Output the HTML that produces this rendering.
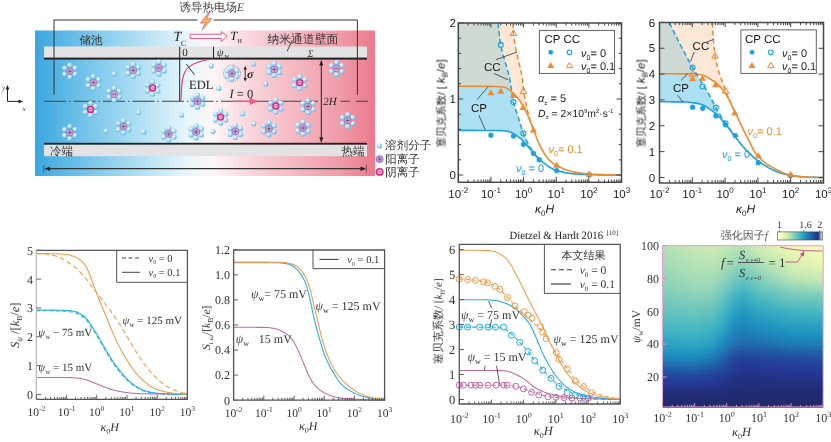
<!DOCTYPE html>
<html><head><meta charset="utf-8"><style>
html,body{margin:0;padding:0;background:#fff;width:831px;height:442px;overflow:hidden}
svg{display:block}
body{-webkit-font-smoothing:antialiased}
svg text{filter:url(#gs)}
text{text-rendering:geometricPrecision}
.sf{font-family:"Liberation Serif",serif}
.ss{font-family:"Liberation Sans",sans-serif}
</style></head><body>
<svg width="831" height="442" viewBox="0 0 831 442">
<defs>
<filter id="gs" x="-5%" y="-20%" width="110%" height="140%"><feColorMatrix type="matrix" values="1 0 0 0 0  0 1 0 0 0  0 0 1 0 0  0 0 0 1 0"/></filter>
<linearGradient id="bg1" x1="35" y1="0" x2="375" y2="0" gradientUnits="userSpaceOnUse">
<stop offset="0" stop-color="#3aa6de"/>
<stop offset="0.06" stop-color="#52b3e4"/>
<stop offset="0.28" stop-color="#a6dbf2"/>
<stop offset="0.45" stop-color="#e8f6fc"/>
<stop offset="0.52" stop-color="#fdf6f8"/>
<stop offset="0.66" stop-color="#f8cfd6"/>
<stop offset="0.9" stop-color="#f09aa8"/>
<stop offset="1" stop-color="#ea7a8c"/>
</linearGradient>
<radialGradient id="pet" cx="0.38" cy="0.35" r="0.7">
<stop offset="0" stop-color="#ffffff"/>
<stop offset="0.38" stop-color="#c0e5f6"/>
<stop offset="1" stop-color="#52b2e2"/>
</radialGradient>
<g id="cat"><circle cx="0" cy="-6" r="2.6" fill="url(#pet)"/><circle cx="5.2" cy="-3" r="2.6" fill="url(#pet)"/><circle cx="5.2" cy="3" r="2.6" fill="url(#pet)"/><circle cx="0" cy="6" r="2.6" fill="url(#pet)"/><circle cx="-5.2" cy="3" r="2.6" fill="url(#pet)"/><circle cx="-5.2" cy="-3" r="2.6" fill="url(#pet)"/>
<circle r="3.5" fill="#c8a4da" stroke="#9f7cc6" stroke-width="1"/><path d="M-2,0H2M0,-2V2" stroke="#555" stroke-width="0.7"/></g>
<g id="mcat"><circle cx="0" cy="-6" r="2.6" fill="url(#pet)"/><circle cx="5.2" cy="-3" r="2.6" fill="url(#pet)"/><circle cx="5.2" cy="3" r="2.6" fill="url(#pet)"/><circle cx="0" cy="6" r="2.6" fill="url(#pet)"/><circle cx="-5.2" cy="3" r="2.6" fill="url(#pet)"/><circle cx="-5.2" cy="-3" r="2.6" fill="url(#pet)"/>
<circle r="3.5" fill="#c8a4da" stroke="#9f7cc6" stroke-width="1"/><path d="M-2,0H2" stroke="#555" stroke-width="0.7"/></g>
<g id="ani"><circle cx="0" cy="-6" r="2.6" fill="url(#pet)"/><circle cx="5.2" cy="-3" r="2.6" fill="url(#pet)"/><circle cx="5.2" cy="3" r="2.6" fill="url(#pet)"/><circle cx="0" cy="6" r="2.6" fill="url(#pet)"/><circle cx="-5.2" cy="3" r="2.6" fill="url(#pet)"/><circle cx="-5.2" cy="-3" r="2.6" fill="url(#pet)"/>
<circle r="2.9" fill="#f6c6dc" stroke="#e5208a" stroke-width="1.5"/><path d="M-1.7,0H1.7" stroke="#666" stroke-width="0.8"/></g>
<g id="sol"><circle r="2.6" fill="url(#pet)"/></g>
</defs><rect x="35" y="30.5" width="340" height="145.5" fill="url(#bg1)"/><rect x="44" y="46.5" width="323" height="11.5" fill="#e3e3e5"/><rect x="44" y="57.6" width="323" height="2" fill="#222"/><rect x="44" y="142.8" width="323" height="2" fill="#222"/><rect x="44" y="144.8" width="323" height="11.4" fill="#e3e3e5"/><path d="M54,94.7V20H197.5M213.5,20H357.4V94.7" fill="none" stroke="#333" stroke-width="1"/><path d="M44,101.3H318" fill="none" stroke="#444" stroke-width="1.1" stroke-dasharray="22,3,1.5,3"/><path d="M340.5,101.3H350M355.8,101.3H368" fill="none" stroke="#444" stroke-width="1.1"/><path d="M179.7,46.7V101.3M213.5,46.7V58" fill="none" stroke="#222" stroke-width="1"/><path d="M180.9,100.2C181.5,86 182,76 186,70C191,63 200,60.5 213,59" fill="none" stroke="#e0407a" stroke-width="1.2"/><path d="M186.3,64L194.5,74.8" stroke="#222" stroke-width="0.9"/><path d="M321.3,63V139" stroke="#222" stroke-width="1"/><path d="M321.3,59.8L319.3,65.5H323.3Z M321.3,143L319.3,137.3H323.3Z" fill="#222"/><path d="M47,168.7H363" stroke="#333" stroke-width="1.3"/><path d="M44.5,168.7L50,166.4V171Z M366,168.7L360.5,166.4V171Z" fill="#222"/><path d="M43.8,165V172.5M366.3,165V172.5" stroke="#444" stroke-width="0.8"/><path d="M210,10.8L200.5,23.2L205.8,22.4L202.2,30L211.8,18.5L206.6,19.2Z" fill="#f8c440" stroke="#f0607e" stroke-width="0.9" stroke-linejoin="round"/><path d="M190,34.3H221.3V31.5L227.4,36.4L221.3,41.4V38.5H190Z" fill="#fff" fill-opacity="0.7" stroke="#e8608a" stroke-width="1"/><path d="M233,101.3H251" stroke="#e8608a" stroke-width="1.6"/><path d="M258,101.3L249.5,97.6V105Z" fill="#e8608a"/><circle cx="232" cy="73.6" r="8.4" fill="none" stroke="#666" stroke-width="0.6" stroke-dasharray="1.2,1"/><use href="#cat" transform="translate(232,73.6) scale(0.95)"/><path d="M245.2,68V79.5" stroke="#222" stroke-width="0.9"/><path d="M245.2,66L243.5,69.5H246.9Z M245.2,81.5L243.5,78H246.9Z" fill="#222"/><use href="#cat" x="69.9" y="71.2"/><use href="#cat" x="93.4" y="82.6"/><use href="#mcat" x="114.2" y="94.2"/><use href="#sol" x="114.2" y="73.9"/><use href="#cat" x="133.2" y="70.4"/><use href="#mcat" x="158.9" y="68"/><use href="#ani" x="152.6" y="88"/><use href="#cat" x="197.5" y="101.2"/><use href="#sol" x="138.6" y="112.6"/><use href="#sol" x="181.6" y="115.1"/><use href="#cat" x="123.6" y="126.6"/><use href="#cat" x="168.8" y="134"/><use href="#cat" x="196.2" y="131.9"/><use href="#sol" x="143.7" y="131.9"/><use href="#ani" x="90.6" y="109.4"/><use href="#cat" x="69.8" y="132.5"/><use href="#sol" x="106" y="131"/><use href="#ani" x="220.6" y="117.1"/><use href="#sol" x="213" y="131.5"/><use href="#sol" x="211.3" y="65.8"/><use href="#sol" x="253.7" y="64"/><use href="#sol" x="218.9" y="88.4"/><use href="#sol" x="265.7" y="83.9"/><use href="#cat" x="274.3" y="69.5"/><use href="#ani" x="299.7" y="82.6"/><use href="#mcat" x="336.6" y="68.5"/><use href="#sol" x="242.7" y="113.7"/><use href="#sol" x="253.7" y="123.8"/><use href="#cat" x="235.4" y="131.5"/><use href="#cat" x="269" y="128.7"/><use href="#ani" x="275.8" y="106"/><use href="#cat" x="308" y="106.5"/><use href="#cat" x="303" y="128"/><use href="#cat" x="347.7" y="120.5"/><path d="M7.5,101.4V88M7.5,101.4H20" fill="none" stroke="#222" stroke-width="1"/><path d="M7.5,85L5.6,89.5H9.4Z M23,101.4L18.5,99.5V103.3Z" fill="#222"/><text x="2" y="90" class="sf" font-size="7" font-style="italic" fill="#333">y</text><text x="22.5" y="110.5" class="sf" font-size="7" font-style="italic" fill="#333">x</text><text x="179.5" y="11.3" class="sf" font-size="11.5" fill="#444">诱导热电场<tspan font-style="italic">E</tspan></text><text x="79.5" y="43.8" class="sf" font-size="11.5" fill="#333">储池</text><text x="173.5" y="41" class="sf" font-size="14" font-style="italic" fill="#222">T</text><text x="181" y="46" class="sf" font-size="8" fill="#222">C</text><text x="230.3" y="39.5" class="sf" font-size="12.5" font-style="italic" fill="#222">T</text><text x="237.5" y="43" class="sf" font-size="6" fill="#222">H</text><text x="267.5" y="43" class="sf" font-size="11.8" fill="#333">纳米通道壁面</text><path d="M292.2,40.4L287.1,51.3" stroke="#222" stroke-width="0.8"/><text x="182.3" y="56.3" class="sf" font-size="11" fill="#222">0</text><text x="216.8" y="55.5" class="sf" font-size="11" font-style="italic" fill="#222">ψ</text><text x="224.5" y="58" class="sf" font-size="6.5" fill="#222">w</text><text x="307.5" y="56.5" class="sf" font-size="10" font-style="italic" fill="#333">Σ</text><text x="189" y="89.3" class="sf" font-size="12.5" fill="#222">EDL</text><text x="247" y="77.5" class="sf" font-size="12" font-style="italic" font-weight="bold" fill="#222">σ</text><text x="229.5" y="98" class="sf" font-size="12.5" fill="#222"><tspan font-style="italic">I</tspan> = 0</text><text x="323.2" y="105.3" class="sf" font-size="11" font-style="italic" fill="#222">2H</text><text x="50" y="155.2" class="sf" font-size="11.5" fill="#333">冷端</text><text x="341.6" y="155" class="sf" font-size="11.5" fill="#333">热端</text><use href="#sol" x="379.6" y="145.8"/><circle cx="379.6" cy="159.2" r="3.6" fill="#b89ad0" stroke="#9a78c0" stroke-width="0.8"/><path d="M377.6,159.2H381.6M379.6,157.2V161.2" stroke="#555" stroke-width="0.6"/><circle cx="379.6" cy="171.9" r="3.2" fill="#f3c0d8" stroke="#e5208a" stroke-width="1.5"/><path d="M377.9,171.9H381.3" stroke="#555" stroke-width="0.7"/><text x="385.3" y="149.3" class="sf" font-size="11.5" fill="#333">溶剂分子</text><text x="385.3" y="163" class="sf" font-size="11.5" fill="#333">阳离子</text><text x="385.3" y="175.5" class="sf" font-size="11.5" fill="#333">阴离子</text><clipPath id="cO2"><path d="M458.3,23 L513.1,23 L513.13,24.76 L513.18,26.53 L513.25,28.29 L513.34,30.05 L513.43,31.81 L513.53,33.58 L513.66,35.34 L513.83,37.1 L514.04,38.86 L514.28,40.63 L514.55,42.39 L514.85,44.15 L515.18,45.92 L515.52,47.68 L515.89,49.44 L516.27,51.2 L516.67,52.97 L517.07,54.73 L517.49,56.49 L517.91,58.25 L518.34,60.02 L518.76,61.78 L519.18,63.54 L519.6,65.31 L520.01,67.07 L520.41,68.83 L520.79,70.59 L521.16,72.36 L521.51,74.12 L521.84,75.88 L522.14,77.64 L522.41,79.41 L522.66,81.17 L522.88,82.93 L523.08,84.69 L523.27,86.46 L523.46,88.22 L523.65,89.98 L523.86,91.75 L524.09,93.51 L524.34,95.27 L524.63,97.03 L524.93,98.8 L525.27,100.56 L525.62,102.32 L525.99,104.08 L526.38,105.85 L526.78,107.61 L527.2,109.37 L527.63,111.14 L528.08,112.9 L528.54,114.66 L529.04,116.42 L529.56,118.19 L530.11,119.95 L530.68,121.71 L531.27,123.47 L531.88,125.24 L532.5,127 L532.5,127 L531.56,124.68 L530.62,122.33 L529.68,119.98 L528.74,117.66 L527.8,115.42 L526.86,113.29 L525.93,111.3 L524.99,109.5 L524.05,107.79 L523.11,106.13 L522.17,104.51 L521.23,102.97 L520.29,101.5 L519.35,100.13 L518.41,98.85 L517.47,97.68 L516.53,96.64 L515.59,95.7 L514.65,94.76 L513.72,93.84 L512.78,92.93 L511.84,92.06 L510.9,91.22 L509.96,90.44 L509.02,89.71 L508.08,89.06 L507.14,88.48 L506.2,88 L505.26,87.61 L504.32,87.34 L503.38,87.19 L502.44,87.09 L501.51,87 L500.57,86.91 L499.63,86.83 L498.69,86.76 L497.75,86.7 L496.81,86.64 L495.87,86.59 L494.93,86.54 L493.99,86.5 L493.05,86.47 L492.11,86.44 L491.17,86.42 L490.23,86.4 L489.29,86.39 L488.36,86.38 L487.42,86.37 L486.48,86.36 L485.54,86.35 L484.6,86.34 L483.66,86.33 L482.72,86.32 L481.78,86.31 L480.84,86.3 L479.9,86.29 L478.96,86.28 L478.02,86.28 L477.08,86.27 L476.15,86.26 L475.21,86.26 L474.27,86.25 L473.33,86.24 L472.39,86.24 L471.45,86.23 L470.51,86.23 L469.57,86.22 L468.63,86.22 L467.69,86.22 L466.75,86.21 L465.81,86.21 L464.87,86.21 L463.94,86.21 L463,86.2 L462.06,86.2 L461.12,86.2 L460.18,86.2 L459.24,86.2 L458.3,86.2Z"/></clipPath><path d="M458.3,23 L513.1,23 L513.13,24.76 L513.18,26.53 L513.25,28.29 L513.34,30.05 L513.43,31.81 L513.53,33.58 L513.66,35.34 L513.83,37.1 L514.04,38.86 L514.28,40.63 L514.55,42.39 L514.85,44.15 L515.18,45.92 L515.52,47.68 L515.89,49.44 L516.27,51.2 L516.67,52.97 L517.07,54.73 L517.49,56.49 L517.91,58.25 L518.34,60.02 L518.76,61.78 L519.18,63.54 L519.6,65.31 L520.01,67.07 L520.41,68.83 L520.79,70.59 L521.16,72.36 L521.51,74.12 L521.84,75.88 L522.14,77.64 L522.41,79.41 L522.66,81.17 L522.88,82.93 L523.08,84.69 L523.27,86.46 L523.46,88.22 L523.65,89.98 L523.86,91.75 L524.09,93.51 L524.34,95.27 L524.63,97.03 L524.93,98.8 L525.27,100.56 L525.62,102.32 L525.99,104.08 L526.38,105.85 L526.78,107.61 L527.2,109.37 L527.63,111.14 L528.08,112.9 L528.54,114.66 L529.04,116.42 L529.56,118.19 L530.11,119.95 L530.68,121.71 L531.27,123.47 L531.88,125.24 L532.5,127 L532.5,127 L531.56,124.68 L530.62,122.33 L529.68,119.98 L528.74,117.66 L527.8,115.42 L526.86,113.29 L525.93,111.3 L524.99,109.5 L524.05,107.79 L523.11,106.13 L522.17,104.51 L521.23,102.97 L520.29,101.5 L519.35,100.13 L518.41,98.85 L517.47,97.68 L516.53,96.64 L515.59,95.7 L514.65,94.76 L513.72,93.84 L512.78,92.93 L511.84,92.06 L510.9,91.22 L509.96,90.44 L509.02,89.71 L508.08,89.06 L507.14,88.48 L506.2,88 L505.26,87.61 L504.32,87.34 L503.38,87.19 L502.44,87.09 L501.51,87 L500.57,86.91 L499.63,86.83 L498.69,86.76 L497.75,86.7 L496.81,86.64 L495.87,86.59 L494.93,86.54 L493.99,86.5 L493.05,86.47 L492.11,86.44 L491.17,86.42 L490.23,86.4 L489.29,86.39 L488.36,86.38 L487.42,86.37 L486.48,86.36 L485.54,86.35 L484.6,86.34 L483.66,86.33 L482.72,86.32 L481.78,86.31 L480.84,86.3 L479.9,86.29 L478.96,86.28 L478.02,86.28 L477.08,86.27 L476.15,86.26 L475.21,86.26 L474.27,86.25 L473.33,86.24 L472.39,86.24 L471.45,86.23 L470.51,86.23 L469.57,86.22 L468.63,86.22 L467.69,86.22 L466.75,86.21 L465.81,86.21 L464.87,86.21 L463.94,86.21 L463,86.2 L462.06,86.2 L461.12,86.2 L460.18,86.2 L459.24,86.2 L458.3,86.2Z" fill="#fde7d6"/><path d="M458.3,23 L498.1,23 L498.28,25.32 L498.49,27.63 L498.73,29.95 L498.99,32.26 L499.28,34.58 L499.59,36.89 L499.92,39.21 L500.27,41.52 L500.63,43.84 L501.02,46.15 L501.47,48.47 L501.99,50.78 L502.57,53.1 L503.19,55.41 L503.84,57.73 L504.52,60.04 L505.22,62.36 L505.92,64.67 L506.61,66.99 L507.29,69.31 L507.93,71.62 L508.55,73.94 L509.11,76.25 L509.62,78.57 L510.06,80.88 L510.45,83.2 L510.8,85.51 L511.13,87.83 L511.46,90.14 L511.8,92.46 L512.16,94.77 L512.55,97.09 L512.95,99.4 L513.42,101.72 L513.97,104.03 L514.63,106.35 L515.36,108.66 L516.13,110.98 L516.93,113.29 L517.72,115.61 L518.48,117.93 L519.19,120.24 L519.89,122.56 L520.58,124.87 L521.29,127.19 L522.03,129.5 L522.82,131.82 L523.68,134.13 L524.64,136.45 L525.67,138.76 L526.78,141.08 L527.95,143.39 L529.16,145.71 L530.45,148.02 L531.87,150.34 L533.47,152.65 L535.33,154.97 L537.42,157.28 L539.7,159.6 L539.7,159.6 L538.67,158.68 L537.64,157.66 L536.61,156.55 L535.58,155.38 L534.55,154.17 L533.52,152.95 L532.49,151.73 L531.46,150.54 L530.43,149.4 L529.4,148.23 L528.37,147.01 L527.34,145.78 L526.31,144.54 L525.27,143.31 L524.24,142.12 L523.21,140.99 L522.18,139.94 L521.15,138.98 L520.12,138.14 L519.09,137.4 L518.06,136.67 L517.03,135.95 L516,135.25 L514.97,134.58 L513.94,133.95 L512.91,133.36 L511.88,132.82 L510.85,132.34 L509.82,131.92 L508.79,131.58 L507.76,131.33 L506.73,131.16 L505.7,131.03 L504.67,130.91 L503.64,130.8 L502.61,130.72 L501.58,130.65 L500.55,130.61 L499.52,130.59 L498.48,130.58 L497.45,130.57 L496.42,130.56 L495.39,130.55 L494.36,130.54 L493.33,130.53 L492.3,130.52 L491.27,130.51 L490.24,130.51 L489.21,130.5 L488.18,130.49 L487.15,130.48 L486.12,130.48 L485.09,130.47 L484.06,130.46 L483.03,130.46 L482,130.45 L480.97,130.45 L479.94,130.44 L478.91,130.44 L477.88,130.43 L476.85,130.43 L475.82,130.43 L474.79,130.42 L473.76,130.42 L472.73,130.42 L471.69,130.41 L470.66,130.41 L469.63,130.41 L468.6,130.41 L467.57,130.41 L466.54,130.41 L465.51,130.4 L464.48,130.4 L463.45,130.4 L462.42,130.4 L461.39,130.4 L460.36,130.4 L459.33,130.4 L458.3,130.4Z" fill="#aee0f3"/><path d="M458.3,23 L498.1,23 L498.28,25.32 L498.49,27.63 L498.73,29.95 L498.99,32.26 L499.28,34.58 L499.59,36.89 L499.92,39.21 L500.27,41.52 L500.63,43.84 L501.02,46.15 L501.47,48.47 L501.99,50.78 L502.57,53.1 L503.19,55.41 L503.84,57.73 L504.52,60.04 L505.22,62.36 L505.92,64.67 L506.61,66.99 L507.29,69.31 L507.93,71.62 L508.55,73.94 L509.11,76.25 L509.62,78.57 L510.06,80.88 L510.45,83.2 L510.8,85.51 L511.13,87.83 L511.46,90.14 L511.8,92.46 L512.16,94.77 L512.55,97.09 L512.95,99.4 L513.42,101.72 L513.97,104.03 L514.63,106.35 L515.36,108.66 L516.13,110.98 L516.93,113.29 L517.72,115.61 L518.48,117.93 L519.19,120.24 L519.89,122.56 L520.58,124.87 L521.29,127.19 L522.03,129.5 L522.82,131.82 L523.68,134.13 L524.64,136.45 L525.67,138.76 L526.78,141.08 L527.95,143.39 L529.16,145.71 L530.45,148.02 L531.87,150.34 L533.47,152.65 L535.33,154.97 L537.42,157.28 L539.7,159.6 L539.7,159.6 L538.67,158.68 L537.64,157.66 L536.61,156.55 L535.58,155.38 L534.55,154.17 L533.52,152.95 L532.49,151.73 L531.46,150.54 L530.43,149.4 L529.4,148.23 L528.37,147.01 L527.34,145.78 L526.31,144.54 L525.27,143.31 L524.24,142.12 L523.21,140.99 L522.18,139.94 L521.15,138.98 L520.12,138.14 L519.09,137.4 L518.06,136.67 L517.03,135.95 L516,135.25 L514.97,134.58 L513.94,133.95 L512.91,133.36 L511.88,132.82 L510.85,132.34 L509.82,131.92 L508.79,131.58 L507.76,131.33 L506.73,131.16 L505.7,131.03 L504.67,130.91 L503.64,130.8 L502.61,130.72 L501.58,130.65 L500.55,130.61 L499.52,130.59 L498.48,130.58 L497.45,130.57 L496.42,130.56 L495.39,130.55 L494.36,130.54 L493.33,130.53 L492.3,130.52 L491.27,130.51 L490.24,130.51 L489.21,130.5 L488.18,130.49 L487.15,130.48 L486.12,130.48 L485.09,130.47 L484.06,130.46 L483.03,130.46 L482,130.45 L480.97,130.45 L479.94,130.44 L478.91,130.44 L477.88,130.43 L476.85,130.43 L475.82,130.43 L474.79,130.42 L473.76,130.42 L472.73,130.42 L471.69,130.41 L470.66,130.41 L469.63,130.41 L468.6,130.41 L467.57,130.41 L466.54,130.41 L465.51,130.4 L464.48,130.4 L463.45,130.4 L462.42,130.4 L461.39,130.4 L460.36,130.4 L459.33,130.4 L458.3,130.4Z" fill="#cfdad4" clip-path="url(#cO2)"/><path d="M458.3,130.4 L459.67,130.4 L461.04,130.4 L462.41,130.4 L463.79,130.4 L465.16,130.4 L466.53,130.41 L467.9,130.41 L469.27,130.41 L470.64,130.41 L472.01,130.42 L473.39,130.42 L474.76,130.42 L476.13,130.43 L477.5,130.43 L478.87,130.44 L480.24,130.44 L481.61,130.45 L482.99,130.46 L484.36,130.47 L485.73,130.47 L487.1,130.48 L488.47,130.49 L489.84,130.5 L491.21,130.51 L492.59,130.53 L493.96,130.54 L495.33,130.55 L496.7,130.56 L498.07,130.58 L499.44,130.59 L500.81,130.62 L502.19,130.69 L503.56,130.79 L504.93,130.94 L506.3,131.11 L507.67,131.31 L509.04,131.66 L510.41,132.15 L511.79,132.77 L513.16,133.49 L514.53,134.3 L515.9,135.18 L517.27,136.11 L518.64,137.08 L520.01,138.06 L521.39,139.19 L522.76,140.51 L524.13,141.99 L525.5,143.58 L526.87,145.22 L528.24,146.87 L529.61,148.48 L530.99,150.01 L532.36,151.58 L533.73,153.2 L535.1,154.82 L536.47,156.4 L537.84,157.87 L539.21,159.18 L540.59,160.33 L541.96,161.46 L543.33,162.56 L544.7,163.63 L546.07,164.66 L547.44,165.65 L548.81,166.58 L550.19,167.45 L551.56,168.25 L552.93,168.97 L554.3,169.61 L555.67,170.16 L557.04,170.6 L558.41,171 L559.79,171.38 L561.16,171.73 L562.53,172.05 L563.9,172.35 L565.27,172.63 L566.64,172.87 L568.01,173.1 L569.39,173.29 L570.76,173.47 L572.13,173.61 L573.5,173.75 L574.87,173.87 L576.24,173.99 L577.61,174.11 L578.99,174.21 L580.36,174.31 L581.73,174.4 L583.1,174.48 L584.47,174.55 L585.84,174.61 L587.21,174.66 L588.59,174.69 L589.96,174.72 L591.33,174.74 L592.7,174.76 L594.07,174.78 L595.44,174.8 L596.81,174.82 L598.19,174.84 L599.56,174.86 L600.93,174.88 L602.3,174.89 L603.67,174.91 L605.04,174.92 L606.41,174.93 L607.79,174.94 L609.16,174.95 L610.53,174.96 L611.9,174.97 L613.27,174.98 L614.64,174.99 L616.01,174.99 L617.39,174.99 L618.76,175 L620.13,175 L621.5,175" fill="none" stroke="#1aa3df" stroke-width="1.6"/><path d="M458.3,86.2 L459.67,86.2 L461.04,86.2 L462.41,86.2 L463.79,86.21 L465.16,86.21 L466.53,86.21 L467.9,86.22 L469.27,86.22 L470.64,86.23 L472.01,86.24 L473.39,86.24 L474.76,86.25 L476.13,86.26 L477.5,86.27 L478.87,86.28 L480.24,86.3 L481.61,86.31 L482.99,86.32 L484.36,86.33 L485.73,86.35 L487.1,86.36 L488.47,86.38 L489.84,86.4 L491.21,86.42 L492.59,86.45 L493.96,86.5 L495.33,86.56 L496.7,86.63 L498.07,86.72 L499.44,86.82 L500.81,86.93 L502.19,87.06 L503.56,87.21 L504.93,87.5 L506.3,88.04 L507.67,88.8 L509.04,89.73 L510.41,90.81 L511.79,92.01 L513.16,93.3 L514.53,94.64 L515.9,96 L517.27,97.45 L518.64,99.15 L520.01,101.09 L521.39,103.22 L522.76,105.52 L524.13,107.94 L525.5,110.47 L526.87,113.3 L528.24,116.45 L529.61,119.81 L530.99,123.25 L532.36,126.65 L533.73,130.12 L535.1,133.81 L536.47,137.52 L537.84,141.05 L539.21,144.21 L540.59,146.92 L541.96,149.5 L543.33,151.94 L544.7,154.21 L546.07,156.27 L547.44,158.08 L548.81,159.61 L550.19,160.92 L551.56,162.1 L552.93,163.15 L554.3,164.09 L555.67,164.93 L557.04,165.68 L558.41,166.39 L559.79,167.07 L561.16,167.72 L562.53,168.34 L563.9,168.92 L565.27,169.47 L566.64,169.97 L568.01,170.43 L569.39,170.84 L570.76,171.21 L572.13,171.53 L573.5,171.82 L574.87,172.1 L576.24,172.36 L577.61,172.61 L578.99,172.85 L580.36,173.07 L581.73,173.27 L583.1,173.46 L584.47,173.62 L585.84,173.76 L587.21,173.88 L588.59,173.98 L589.96,174.05 L591.33,174.12 L592.7,174.19 L594.07,174.26 L595.44,174.33 L596.81,174.39 L598.19,174.45 L599.56,174.51 L600.93,174.57 L602.3,174.62 L603.67,174.67 L605.04,174.72 L606.41,174.76 L607.79,174.8 L609.16,174.84 L610.53,174.87 L611.9,174.9 L613.27,174.93 L614.64,174.95 L616.01,174.97 L617.39,174.98 L618.76,174.99 L620.13,175 L621.5,175" fill="none" stroke="#f08a30" stroke-width="1.6"/><path d="M498.1,23 L498.19,24.15 L498.28,25.3 L498.38,26.44 L498.49,27.59 L498.6,28.74 L498.72,29.89 L498.85,31.04 L498.98,32.18 L499.12,33.33 L499.27,34.48 L499.42,35.63 L499.57,36.77 L499.73,37.92 L499.9,39.07 L500.07,40.22 L500.24,41.37 L500.42,42.51 L500.6,43.66 L500.79,44.81 L500.98,45.96 L501.19,47.11 L501.43,48.25 L501.67,49.4 L501.94,50.55 L502.21,51.7 L502.5,52.85 L502.8,53.99 L503.11,55.14 L503.43,56.29 L503.76,57.44 L504.09,58.58 L504.43,59.73 L504.77,60.88 L505.12,62.03 L505.47,63.18 L505.81,64.32 L506.16,65.47 L506.5,66.62 L506.84,67.77 L507.17,68.92 L507.5,70.06 L507.82,71.21 L508.13,72.36 L508.44,73.51 L508.73,74.66 L509.01,75.8 L509.27,76.95 L509.52,78.1 L509.76,79.25 L509.97,80.39 L510.18,81.54 L510.37,82.69 L510.55,83.84 L510.72,84.99 L510.89,86.13 L511.05,87.28 L511.21,88.43 L511.38,89.58 L511.54,90.73 L511.71,91.87 L511.88,93.02 L512.06,94.17 L512.25,95.32 L512.45,96.47 L512.64,97.61 L512.84,98.76 L513.05,99.91 L513.28,101.06 L513.52,102.21 L513.8,103.35 L514.1,104.5 L514.42,105.65 L514.76,106.8 L515.12,107.94 L515.5,109.09 L515.88,110.24 L516.27,111.39 L516.67,112.54 L517.06,113.68 L517.45,114.83 L517.84,115.98 L518.22,117.13 L518.59,118.28 L518.94,119.42 L519.29,120.57 L519.64,121.72 L519.98,122.87 L520.32,124.02 L520.67,125.16 L521.01,126.31 L521.37,127.46 L521.73,128.61 L522.11,129.75 L522.5,130.9 L522.9,132.05 L523.32,133.2 L523.77,134.35 L524.23,135.49 L524.72,136.64 L525.23,137.79 L525.75,138.94 L526.3,140.09 L526.86,141.23 L527.43,142.38 L528.02,143.53 L528.61,144.68 L529.22,145.83 L529.85,146.97 L530.51,148.12 L531.2,149.27 L531.93,150.42 L532.7,151.56 L533.52,152.71 L534.41,153.86 L535.36,155.01 L536.37,156.16 L537.44,157.3 L538.55,158.45 L539.7,159.6" fill="none" stroke="#1aa3df" stroke-width="1.5" stroke-dasharray="5,3"/><path d="M513.1,23 L513.11,23.87 L513.13,24.75 L513.16,25.62 L513.18,26.5 L513.22,27.37 L513.25,28.24 L513.29,29.12 L513.33,29.99 L513.38,30.87 L513.42,31.74 L513.47,32.61 L513.52,33.49 L513.58,34.36 L513.65,35.24 L513.73,36.11 L513.82,36.98 L513.92,37.86 L514.02,38.73 L514.14,39.61 L514.26,40.48 L514.39,41.35 L514.53,42.23 L514.67,43.1 L514.82,43.97 L514.98,44.85 L515.14,45.72 L515.31,46.6 L515.48,47.47 L515.66,48.34 L515.84,49.22 L516.03,50.09 L516.22,50.97 L516.41,51.84 L516.61,52.71 L516.81,53.59 L517.01,54.46 L517.22,55.34 L517.42,56.21 L517.63,57.08 L517.84,57.96 L518.05,58.83 L518.26,59.71 L518.47,60.58 L518.68,61.45 L518.89,62.33 L519.1,63.2 L519.31,64.08 L519.52,64.95 L519.72,65.82 L519.92,66.7 L520.12,67.57 L520.32,68.45 L520.52,69.32 L520.71,70.19 L520.89,71.07 L521.08,71.94 L521.25,72.82 L521.43,73.69 L521.59,74.56 L521.76,75.44 L521.91,76.31 L522.06,77.18 L522.21,78.06 L522.34,78.93 L522.47,79.81 L522.59,80.68 L522.71,81.55 L522.82,82.43 L522.92,83.3 L523.02,84.18 L523.12,85.05 L523.21,85.92 L523.31,86.8 L523.4,87.67 L523.49,88.55 L523.59,89.42 L523.69,90.29 L523.79,91.17 L523.89,92.04 L524.01,92.92 L524.12,93.79 L524.25,94.66 L524.38,95.54 L524.52,96.41 L524.67,97.29 L524.82,98.16 L524.98,99.03 L525.14,99.91 L525.31,100.78 L525.48,101.66 L525.66,102.53 L525.84,103.4 L526.03,104.28 L526.22,105.15 L526.42,106.03 L526.62,106.9 L526.82,107.77 L527.03,108.65 L527.24,109.52 L527.45,110.39 L527.67,111.27 L527.88,112.14 L528.11,113.02 L528.33,113.89 L528.57,114.76 L528.81,115.64 L529.06,116.51 L529.32,117.39 L529.58,118.26 L529.85,119.13 L530.13,120.01 L530.41,120.88 L530.69,121.76 L530.98,122.63 L531.28,123.5 L531.58,124.38 L531.88,125.25 L532.19,126.13 L532.5,127" fill="none" stroke="#f08a30" stroke-width="1.5" stroke-dasharray="5,3"/><circle cx="490.9" cy="135.2" r="2.6" fill="#1aa3df"/><circle cx="513.5" cy="136.1" r="2.6" fill="#1aa3df"/><circle cx="523.4" cy="144.3" r="2.6" fill="#1aa3df"/><circle cx="533.4" cy="153.3" r="2.6" fill="#1aa3df"/><circle cx="539.2" cy="159.7" r="2.6" fill="#1aa3df"/><circle cx="556.7" cy="170.6" r="2.6" fill="#1aa3df"/><circle cx="589.2" cy="174.7" r="2.6" fill="#1aa3df"/><circle cx="500.8" cy="44.9" r="2.5" fill="none" stroke="#1aa3df" stroke-width="1.1"/><circle cx="513.5" cy="102.1" r="2.5" fill="none" stroke="#1aa3df" stroke-width="1.1"/><circle cx="523.4" cy="133.4" r="2.5" fill="none" stroke="#1aa3df" stroke-width="1.1"/><path d="M490.9,89.4L494.47,95.35H487.33Z" fill="#f08a30"/><path d="M500.8,87.8L504.37,93.75H497.23Z" fill="#f08a30"/><path d="M513.5,91.9L517.07,97.85H509.93Z" fill="#f08a30"/><path d="M523,104.1L526.57,110.05H519.43Z" fill="#f08a30"/><path d="M533.4,126.6L536.97,132.55H529.83Z" fill="#f08a30"/><path d="M556.7,161.8L560.27,167.75H553.13Z" fill="#f08a30"/><path d="M589.2,170.6L592.77,176.55H585.63Z" fill="#f08a30"/><path d="M513.5,29.9L516.86,35.5H510.14Z" fill="none" stroke="#f08a30" stroke-width="1"/><path d="M523.4,87.8L526.76,93.4H520.04Z" fill="none" stroke="#f08a30" stroke-width="1"/><path d="M458.3,23V182.3H621.5V23Z" fill="none" stroke="#4a4a4a" stroke-width="1.5"/><path d="M458.3,182.3v-5.5M458.3,23v4.5M468.13,182.3v-2.8M468.13,23v2.5M473.87,182.3v-2.8M473.87,23v2.5M477.95,182.3v-2.8M477.95,23v2.5M481.11,182.3v-2.8M481.11,23v2.5M483.7,182.3v-2.8M483.7,23v2.5M485.88,182.3v-2.8M485.88,23v2.5M487.78,182.3v-2.8M487.78,23v2.5M489.45,182.3v-2.8M489.45,23v2.5M490.94,182.3v-5.5M490.94,23v4.5M500.77,182.3v-2.8M500.77,23v2.5M506.51,182.3v-2.8M506.51,23v2.5M510.59,182.3v-2.8M510.59,23v2.5M513.75,182.3v-2.8M513.75,23v2.5M516.34,182.3v-2.8M516.34,23v2.5M518.52,182.3v-2.8M518.52,23v2.5M520.42,182.3v-2.8M520.42,23v2.5M522.09,182.3v-2.8M522.09,23v2.5M523.58,182.3v-5.5M523.58,23v4.5M533.41,182.3v-2.8M533.41,23v2.5M539.15,182.3v-2.8M539.15,23v2.5M543.23,182.3v-2.8M543.23,23v2.5M546.39,182.3v-2.8M546.39,23v2.5M548.98,182.3v-2.8M548.98,23v2.5M551.16,182.3v-2.8M551.16,23v2.5M553.06,182.3v-2.8M553.06,23v2.5M554.73,182.3v-2.8M554.73,23v2.5M556.22,182.3v-5.5M556.22,23v4.5M566.05,182.3v-2.8M566.05,23v2.5M571.79,182.3v-2.8M571.79,23v2.5M575.87,182.3v-2.8M575.87,23v2.5M579.03,182.3v-2.8M579.03,23v2.5M581.62,182.3v-2.8M581.62,23v2.5M583.8,182.3v-2.8M583.8,23v2.5M585.7,182.3v-2.8M585.7,23v2.5M587.37,182.3v-2.8M587.37,23v2.5M588.86,182.3v-5.5M588.86,23v4.5M598.69,182.3v-2.8M598.69,23v2.5M604.43,182.3v-2.8M604.43,23v2.5M608.51,182.3v-2.8M608.51,23v2.5M611.67,182.3v-2.8M611.67,23v2.5M614.26,182.3v-2.8M614.26,23v2.5M616.44,182.3v-2.8M616.44,23v2.5M618.34,182.3v-2.8M618.34,23v2.5M620.01,182.3v-2.8M620.01,23v2.5M621.5,182.3v-5.5M621.5,23v4.5" stroke="#444" stroke-width="1" fill="none"/><path d="M458.3,175h5M621.5,175h-5M458.3,99h5M621.5,99h-5M458.3,23h5M621.5,23h-5M458.3,159.8h2.8M621.5,159.8h-2.8M458.3,144.6h2.8M621.5,144.6h-2.8M458.3,129.4h2.8M621.5,129.4h-2.8M458.3,114.2h2.8M621.5,114.2h-2.8M458.3,83.8h2.8M621.5,83.8h-2.8M458.3,68.6h2.8M621.5,68.6h-2.8M458.3,53.4h2.8M621.5,53.4h-2.8M458.3,38.2h2.8M621.5,38.2h-2.8" stroke="#444" stroke-width="1"/><text x="452.6" y="179.2" class="ss" font-size="11.5" fill="#222" text-anchor="middle">0</text><text x="452.6" y="103.2" class="ss" font-size="11.5" fill="#222" text-anchor="middle">1</text><text x="452.6" y="27.2" class="ss" font-size="11.5" fill="#222" text-anchor="middle">2</text><text x="458.3" y="197.5" class="ss" font-size="11.5" fill="#222" text-anchor="middle">10<tspan font-size="8" dy="-4.5">-2</tspan></text><text x="490.94" y="197.5" class="ss" font-size="11.5" fill="#222" text-anchor="middle">10<tspan font-size="8" dy="-4.5">-1</tspan></text><text x="523.58" y="197.5" class="ss" font-size="11.5" fill="#222" text-anchor="middle">10<tspan font-size="8" dy="-4.5">0</tspan></text><text x="556.22" y="197.5" class="ss" font-size="11.5" fill="#222" text-anchor="middle">10<tspan font-size="8" dy="-4.5">1</tspan></text><text x="588.86" y="197.5" class="ss" font-size="11.5" fill="#222" text-anchor="middle">10<tspan font-size="8" dy="-4.5">2</tspan></text><text x="621.5" y="197.5" class="ss" font-size="11.5" fill="#222" text-anchor="middle">10<tspan font-size="8" dy="-4.5">3</tspan></text><text x="535" y="212.5" class="ss" font-size="12" font-style="italic" fill="#222">κ<tspan font-size="8" dy="3" font-style="normal">0</tspan><tspan dy="-3">H</tspan></text><text transform="translate(444.7,147.5) rotate(-90)" class="ss" font-size="10.5" fill="#222">塞贝克系数/ [ <tspan font-style="italic" font-size="11.5">k</tspan><tspan font-size="8" dy="3">B</tspan><tspan dy="-3" font-size="11.5">/</tspan><tspan font-style="italic" font-size="11.5">e</tspan><tspan font-size="11.5">]</tspan></text><rect x="539.4" y="30.4" width="75.2" height="43" fill="#fff" stroke="#555" stroke-width="0.9"/><text x="544.5" y="43.2" class="ss" font-size="11.5" fill="#222">CP</text><text x="563.5" y="43.2" class="ss" font-size="11.5" fill="#222">CC</text><circle cx="550.7" cy="52.3" r="2.4" fill="#1aa3df"/><circle cx="569.5" cy="52.3" r="2.3" fill="none" stroke="#1aa3df" stroke-width="1.1"/><path d="M550.7,62.1L554.17,67.88H547.24Z" fill="#f08a30"/><path d="M569.5,62.3L572.75,67.73H566.25Z" fill="none" stroke="#f08a30" stroke-width="1"/><text x="581" y="56.5" class="ss" font-size="11" fill="#222"><tspan font-style="italic">ν</tspan><tspan font-size="7" dy="3">0</tspan><tspan dy="-3">= 0</tspan></text><text x="581" y="69.5" class="ss" font-size="11" fill="#222"><tspan font-style="italic">ν</tspan><tspan font-size="7" dy="3">0</tspan><tspan dy="-3">= 0.1</tspan></text><text x="471" y="111.7" class="ss" font-size="11.5" fill="#222">CP</text><text x="484" y="71" class="ss" font-size="11.5" fill="#222">CC</text><path d="M477.1,99.5L488,87.1M478.9,115.2L485.2,129.7M496,59.7L517,52M494,73.5L508,79.8" stroke="#333" stroke-width="0.8"/><text x="537.9" y="102" class="ss" font-size="11" fill="#222"><tspan font-style="italic">α</tspan><tspan font-size="6" dy="2.5">±</tspan><tspan dy="-2.5"> =  5</tspan></text><text x="537.9" y="116.5" class="ss" font-size="10.4" fill="#222"><tspan font-style="italic">D</tspan><tspan font-size="6" dy="2.5">±</tspan><tspan dy="-2.5"> =  2×10</tspan><tspan font-size="6" dy="-4">9</tspan><tspan dy="4">m</tspan><tspan font-size="6" dy="-4">2</tspan><tspan dy="4">·s</tspan><tspan font-size="6" dy="-4">-1</tspan></text><text x="548.5" y="153" class="ss" font-size="11" fill="#f08a30"><tspan font-style="italic">ν</tspan><tspan font-size="7" dy="3">0</tspan><tspan dy="-3">= 0.1</tspan></text><text x="516" y="172" class="ss" font-size="11" fill="#1aa3df"><tspan font-style="italic">ν</tspan><tspan font-size="7" dy="3">0</tspan><tspan dy="-3"> = 0</tspan></text><clipPath id="cO3"><path d="M659.5,22.6 L712.6,22.6 L712.61,24.11 L712.63,25.61 L712.66,27.12 L712.71,28.63 L712.77,30.13 L712.84,31.64 L712.92,33.15 L713.02,34.65 L713.12,36.16 L713.23,37.67 L713.36,39.17 L713.49,40.68 L713.62,42.19 L713.77,43.69 L713.92,45.2 L714.07,46.71 L714.24,48.22 L714.4,49.72 L714.57,51.23 L714.75,52.74 L714.93,54.24 L715.11,55.75 L715.31,57.26 L715.54,58.76 L715.82,60.27 L716.12,61.78 L716.45,63.28 L716.82,64.79 L717.21,66.3 L717.62,67.8 L718.06,69.31 L718.52,70.82 L719,72.32 L719.49,73.83 L720,75.34 L720.52,76.84 L721.06,78.35 L721.6,79.86 L722.15,81.36 L722.7,82.87 L723.26,84.38 L723.82,85.88 L724.38,87.39 L724.94,88.9 L725.49,90.41 L726.06,91.91 L726.66,93.42 L727.3,94.93 L727.96,96.43 L728.64,97.94 L729.31,99.45 L729.98,100.95 L730.64,102.46 L731.31,103.97 L731.98,105.47 L732.65,106.98 L733.33,108.49 L734.01,109.99 L734.7,111.5 L734.7,111.5 L733.75,109.59 L732.8,107.63 L731.84,105.65 L730.89,103.67 L729.94,101.71 L728.99,99.79 L728.04,97.93 L727.08,96.16 L726.13,94.49 L725.18,92.95 L724.23,91.57 L723.28,90.34 L722.33,89.17 L721.37,88.06 L720.42,87.01 L719.47,86.01 L718.52,85.08 L717.57,84.21 L716.61,83.41 L715.66,82.67 L714.71,82.01 L713.76,81.38 L712.81,80.75 L711.85,80.13 L710.9,79.52 L709.95,78.92 L709,78.34 L708.05,77.79 L707.09,77.25 L706.14,76.75 L705.19,76.29 L704.24,75.86 L703.29,75.47 L702.34,75.13 L701.38,74.84 L700.43,74.61 L699.48,74.43 L698.53,74.31 L697.58,74.24 L696.62,74.17 L695.67,74.11 L694.72,74.05 L693.77,74 L692.82,73.96 L691.86,73.93 L690.91,73.91 L689.96,73.9 L689.01,73.89 L688.06,73.89 L687.11,73.88 L686.15,73.87 L685.2,73.87 L684.25,73.86 L683.3,73.86 L682.35,73.85 L681.39,73.85 L680.44,73.84 L679.49,73.84 L678.54,73.84 L677.59,73.83 L676.63,73.83 L675.68,73.82 L674.73,73.82 L673.78,73.82 L672.83,73.82 L671.87,73.81 L670.92,73.81 L669.97,73.81 L669.02,73.81 L668.07,73.81 L667.12,73.81 L666.16,73.8 L665.21,73.8 L664.26,73.8 L663.31,73.8 L662.36,73.8 L661.4,73.8 L660.45,73.8 L659.5,73.8Z"/></clipPath><path d="M659.5,22.6 L712.6,22.6 L712.61,24.11 L712.63,25.61 L712.66,27.12 L712.71,28.63 L712.77,30.13 L712.84,31.64 L712.92,33.15 L713.02,34.65 L713.12,36.16 L713.23,37.67 L713.36,39.17 L713.49,40.68 L713.62,42.19 L713.77,43.69 L713.92,45.2 L714.07,46.71 L714.24,48.22 L714.4,49.72 L714.57,51.23 L714.75,52.74 L714.93,54.24 L715.11,55.75 L715.31,57.26 L715.54,58.76 L715.82,60.27 L716.12,61.78 L716.45,63.28 L716.82,64.79 L717.21,66.3 L717.62,67.8 L718.06,69.31 L718.52,70.82 L719,72.32 L719.49,73.83 L720,75.34 L720.52,76.84 L721.06,78.35 L721.6,79.86 L722.15,81.36 L722.7,82.87 L723.26,84.38 L723.82,85.88 L724.38,87.39 L724.94,88.9 L725.49,90.41 L726.06,91.91 L726.66,93.42 L727.3,94.93 L727.96,96.43 L728.64,97.94 L729.31,99.45 L729.98,100.95 L730.64,102.46 L731.31,103.97 L731.98,105.47 L732.65,106.98 L733.33,108.49 L734.01,109.99 L734.7,111.5 L734.7,111.5 L733.75,109.59 L732.8,107.63 L731.84,105.65 L730.89,103.67 L729.94,101.71 L728.99,99.79 L728.04,97.93 L727.08,96.16 L726.13,94.49 L725.18,92.95 L724.23,91.57 L723.28,90.34 L722.33,89.17 L721.37,88.06 L720.42,87.01 L719.47,86.01 L718.52,85.08 L717.57,84.21 L716.61,83.41 L715.66,82.67 L714.71,82.01 L713.76,81.38 L712.81,80.75 L711.85,80.13 L710.9,79.52 L709.95,78.92 L709,78.34 L708.05,77.79 L707.09,77.25 L706.14,76.75 L705.19,76.29 L704.24,75.86 L703.29,75.47 L702.34,75.13 L701.38,74.84 L700.43,74.61 L699.48,74.43 L698.53,74.31 L697.58,74.24 L696.62,74.17 L695.67,74.11 L694.72,74.05 L693.77,74 L692.82,73.96 L691.86,73.93 L690.91,73.91 L689.96,73.9 L689.01,73.89 L688.06,73.89 L687.11,73.88 L686.15,73.87 L685.2,73.87 L684.25,73.86 L683.3,73.86 L682.35,73.85 L681.39,73.85 L680.44,73.84 L679.49,73.84 L678.54,73.84 L677.59,73.83 L676.63,73.83 L675.68,73.82 L674.73,73.82 L673.78,73.82 L672.83,73.82 L671.87,73.81 L670.92,73.81 L669.97,73.81 L669.02,73.81 L668.07,73.81 L667.12,73.81 L666.16,73.8 L665.21,73.8 L664.26,73.8 L663.31,73.8 L662.36,73.8 L661.4,73.8 L660.45,73.8 L659.5,73.8Z" fill="#fde7d6"/><path d="M659.5,22.6 L669.5,22.6 L670.39,24.53 L671.28,26.45 L672.19,28.38 L673.11,30.3 L674.04,32.23 L674.97,34.15 L675.92,36.08 L676.88,38 L677.85,39.93 L678.83,41.85 L679.81,43.78 L680.81,45.71 L681.81,47.63 L682.82,49.56 L683.84,51.48 L684.87,53.41 L685.9,55.33 L686.94,57.26 L687.99,59.18 L689.05,61.11 L690.11,63.03 L691.18,64.96 L692.26,66.88 L693.34,68.81 L694.46,70.74 L695.61,72.66 L696.79,74.59 L697.98,76.51 L699.19,78.44 L700.4,80.36 L701.62,82.29 L702.83,84.21 L704.03,86.14 L705.22,88.06 L706.39,89.99 L707.53,91.92 L708.65,93.84 L709.72,95.77 L710.75,97.69 L711.74,99.62 L712.71,101.54 L713.69,103.47 L714.7,105.39 L715.74,107.32 L716.83,109.24 L717.95,111.17 L719.09,113.09 L720.26,115.02 L721.44,116.95 L722.65,118.87 L723.88,120.8 L725.12,122.72 L726.4,124.65 L727.73,126.57 L729.08,128.5 L730.44,130.42 L731.81,132.35 L733.2,134.27 L734.6,136.2 L734.6,136.2 L733.65,134.96 L732.7,133.67 L731.75,132.35 L730.8,131.01 L729.85,129.68 L728.9,128.36 L727.95,127.07 L726.99,125.82 L726.04,124.64 L725.09,123.53 L724.14,122.44 L723.19,121.36 L722.24,120.3 L721.29,119.25 L720.34,118.23 L719.39,117.24 L718.44,116.27 L717.49,115.34 L716.54,114.44 L715.59,113.59 L714.64,112.78 L713.69,112.02 L712.74,111.31 L711.78,110.61 L710.83,109.91 L709.88,109.21 L708.93,108.53 L707.98,107.87 L707.03,107.24 L706.08,106.64 L705.13,106.08 L704.18,105.56 L703.23,105.1 L702.28,104.69 L701.33,104.35 L700.38,104.09 L699.43,103.88 L698.48,103.69 L697.53,103.5 L696.57,103.33 L695.62,103.16 L694.67,102.99 L693.72,102.84 L692.77,102.7 L691.82,102.57 L690.87,102.44 L689.92,102.33 L688.97,102.23 L688.02,102.14 L687.07,102.07 L686.12,102.01 L685.17,101.96 L684.22,101.92 L683.27,101.9 L682.32,101.89 L681.36,101.89 L680.41,101.88 L679.46,101.87 L678.51,101.87 L677.56,101.86 L676.61,101.85 L675.66,101.85 L674.71,101.84 L673.76,101.84 L672.81,101.83 L671.86,101.83 L670.91,101.82 L669.96,101.82 L669.01,101.82 L668.06,101.81 L667.11,101.81 L666.15,101.81 L665.2,101.81 L664.25,101.8 L663.3,101.8 L662.35,101.8 L661.4,101.8 L660.45,101.8 L659.5,101.8Z" fill="#aee0f3"/><path d="M659.5,22.6 L669.5,22.6 L670.39,24.53 L671.28,26.45 L672.19,28.38 L673.11,30.3 L674.04,32.23 L674.97,34.15 L675.92,36.08 L676.88,38 L677.85,39.93 L678.83,41.85 L679.81,43.78 L680.81,45.71 L681.81,47.63 L682.82,49.56 L683.84,51.48 L684.87,53.41 L685.9,55.33 L686.94,57.26 L687.99,59.18 L689.05,61.11 L690.11,63.03 L691.18,64.96 L692.26,66.88 L693.34,68.81 L694.46,70.74 L695.61,72.66 L696.79,74.59 L697.98,76.51 L699.19,78.44 L700.4,80.36 L701.62,82.29 L702.83,84.21 L704.03,86.14 L705.22,88.06 L706.39,89.99 L707.53,91.92 L708.65,93.84 L709.72,95.77 L710.75,97.69 L711.74,99.62 L712.71,101.54 L713.69,103.47 L714.7,105.39 L715.74,107.32 L716.83,109.24 L717.95,111.17 L719.09,113.09 L720.26,115.02 L721.44,116.95 L722.65,118.87 L723.88,120.8 L725.12,122.72 L726.4,124.65 L727.73,126.57 L729.08,128.5 L730.44,130.42 L731.81,132.35 L733.2,134.27 L734.6,136.2 L734.6,136.2 L733.65,134.96 L732.7,133.67 L731.75,132.35 L730.8,131.01 L729.85,129.68 L728.9,128.36 L727.95,127.07 L726.99,125.82 L726.04,124.64 L725.09,123.53 L724.14,122.44 L723.19,121.36 L722.24,120.3 L721.29,119.25 L720.34,118.23 L719.39,117.24 L718.44,116.27 L717.49,115.34 L716.54,114.44 L715.59,113.59 L714.64,112.78 L713.69,112.02 L712.74,111.31 L711.78,110.61 L710.83,109.91 L709.88,109.21 L708.93,108.53 L707.98,107.87 L707.03,107.24 L706.08,106.64 L705.13,106.08 L704.18,105.56 L703.23,105.1 L702.28,104.69 L701.33,104.35 L700.38,104.09 L699.43,103.88 L698.48,103.69 L697.53,103.5 L696.57,103.33 L695.62,103.16 L694.67,102.99 L693.72,102.84 L692.77,102.7 L691.82,102.57 L690.87,102.44 L689.92,102.33 L688.97,102.23 L688.02,102.14 L687.07,102.07 L686.12,102.01 L685.17,101.96 L684.22,101.92 L683.27,101.9 L682.32,101.89 L681.36,101.89 L680.41,101.88 L679.46,101.87 L678.51,101.87 L677.56,101.86 L676.61,101.85 L675.66,101.85 L674.71,101.84 L673.76,101.84 L672.81,101.83 L671.86,101.83 L670.91,101.82 L669.96,101.82 L669.01,101.82 L668.06,101.81 L667.11,101.81 L666.15,101.81 L665.2,101.81 L664.25,101.8 L663.3,101.8 L662.35,101.8 L661.4,101.8 L660.45,101.8 L659.5,101.8Z" fill="#cfdad4" clip-path="url(#cO3)"/><path d="M659.5,101.8 L660.88,101.8 L662.26,101.8 L663.63,101.8 L665.01,101.81 L666.39,101.81 L667.77,101.81 L669.15,101.82 L670.53,101.82 L671.9,101.83 L673.28,101.83 L674.66,101.84 L676.04,101.85 L677.42,101.86 L678.79,101.87 L680.17,101.88 L681.55,101.89 L682.93,101.9 L684.31,101.93 L685.68,101.98 L687.06,102.07 L688.44,102.18 L689.82,102.32 L691.2,102.48 L692.58,102.67 L693.95,102.88 L695.33,103.11 L696.71,103.35 L698.09,103.61 L699.47,103.89 L700.84,104.21 L702.22,104.67 L703.6,105.27 L704.98,105.99 L706.36,106.81 L707.74,107.71 L709.11,108.66 L710.49,109.65 L711.87,110.67 L713.25,111.68 L714.63,112.77 L716,113.96 L717.38,115.23 L718.76,116.59 L720.14,118.02 L721.52,119.5 L722.89,121.03 L724.27,122.59 L725.65,124.18 L727.03,125.87 L728.41,127.69 L729.79,129.59 L731.16,131.53 L732.54,133.46 L733.92,135.32 L735.3,137.09 L736.68,138.86 L738.05,140.62 L739.43,142.37 L740.81,144.08 L742.19,145.75 L743.57,147.35 L744.95,148.89 L746.32,150.33 L747.7,151.73 L749.08,153.09 L750.46,154.41 L751.84,155.69 L753.21,156.93 L754.59,158.11 L755.97,159.23 L757.35,160.3 L758.73,161.31 L760.11,162.28 L761.48,163.24 L762.86,164.18 L764.24,165.08 L765.62,165.96 L767,166.8 L768.37,167.6 L769.75,168.36 L771.13,169.08 L772.51,169.74 L773.89,170.35 L775.26,170.91 L776.64,171.44 L778.02,171.96 L779.4,172.46 L780.78,172.94 L782.16,173.39 L783.53,173.81 L784.91,174.19 L786.29,174.54 L787.67,174.85 L789.05,175.12 L790.42,175.35 L791.8,175.58 L793.18,175.79 L794.56,175.99 L795.94,176.18 L797.32,176.35 L798.69,176.51 L800.07,176.65 L801.45,176.77 L802.83,176.88 L804.21,176.96 L805.58,177.03 L806.96,177.09 L808.34,177.14 L809.72,177.2 L811.1,177.25 L812.47,177.3 L813.85,177.34 L815.23,177.38 L816.61,177.42 L817.99,177.44 L819.37,177.47 L820.74,177.49 L822.12,177.5 L823.5,177.5" fill="none" stroke="#1aa3df" stroke-width="1.6"/><path d="M659.5,73.8 L660.88,73.8 L662.26,73.8 L663.63,73.8 L665.01,73.8 L666.39,73.8 L667.77,73.81 L669.15,73.81 L670.53,73.81 L671.9,73.81 L673.28,73.82 L674.66,73.82 L676.04,73.83 L677.42,73.83 L678.79,73.84 L680.17,73.84 L681.55,73.85 L682.93,73.86 L684.31,73.86 L685.68,73.87 L687.06,73.88 L688.44,73.89 L689.82,73.9 L691.2,73.92 L692.58,73.96 L693.95,74.01 L695.33,74.09 L696.71,74.17 L698.09,74.28 L699.47,74.43 L700.84,74.7 L702.22,75.1 L703.6,75.6 L704.98,76.19 L706.36,76.86 L707.74,77.61 L709.11,78.41 L710.49,79.26 L711.87,80.14 L713.25,81.04 L714.63,81.95 L716,82.93 L717.38,84.05 L718.76,85.31 L720.14,86.7 L721.52,88.22 L722.89,89.86 L724.27,91.63 L725.65,93.7 L727.03,96.06 L728.41,98.64 L729.79,101.39 L731.16,104.24 L732.54,107.11 L733.92,109.94 L735.3,112.69 L736.68,115.52 L738.05,118.42 L739.43,121.37 L740.81,124.33 L742.19,127.27 L743.57,130.15 L744.95,132.94 L746.32,135.62 L747.7,138.33 L749.08,141.1 L750.46,143.87 L751.84,146.57 L753.21,149.16 L754.59,151.56 L755.97,153.73 L757.35,155.61 L758.73,157.14 L760.11,158.51 L761.48,159.78 L762.86,160.96 L764.24,162.06 L765.62,163.09 L767,164.05 L768.37,164.96 L769.75,165.81 L771.13,166.63 L772.51,167.41 L773.89,168.17 L775.26,168.91 L776.64,169.64 L778.02,170.37 L779.4,171.07 L780.78,171.75 L782.16,172.39 L783.53,172.99 L784.91,173.54 L786.29,174.03 L787.67,174.45 L789.05,174.8 L790.42,175.09 L791.8,175.36 L793.18,175.61 L794.56,175.85 L795.94,176.07 L797.32,176.27 L798.69,176.45 L800.07,176.61 L801.45,176.75 L802.83,176.87 L804.21,176.96 L805.58,177.03 L806.96,177.09 L808.34,177.15 L809.72,177.2 L811.1,177.25 L812.47,177.3 L813.85,177.34 L815.23,177.38 L816.61,177.42 L817.99,177.45 L819.37,177.47 L820.74,177.49 L822.12,177.5 L823.5,177.5" fill="none" stroke="#f08a30" stroke-width="1.6"/><path d="M669.5,22.6 L669.94,23.55 L670.38,24.51 L670.82,25.46 L671.27,26.42 L671.72,27.37 L672.17,28.33 L672.62,29.28 L673.08,30.24 L673.54,31.19 L674,32.15 L674.46,33.1 L674.93,34.06 L675.4,35.01 L675.87,35.96 L676.34,36.92 L676.82,37.87 L677.3,38.83 L677.78,39.78 L678.26,40.74 L678.74,41.69 L679.23,42.65 L679.72,43.6 L680.21,44.56 L680.71,45.51 L681.2,46.47 L681.7,47.42 L682.2,48.37 L682.7,49.33 L683.21,50.28 L683.71,51.24 L684.22,52.19 L684.73,53.15 L685.24,54.1 L685.75,55.06 L686.27,56.01 L686.79,56.97 L687.31,57.92 L687.83,58.88 L688.35,59.83 L688.87,60.78 L689.4,61.74 L689.92,62.69 L690.45,63.65 L690.98,64.6 L691.51,65.56 L692.05,66.51 L692.58,67.47 L693.12,68.42 L693.67,69.38 L694.23,70.33 L694.79,71.29 L695.36,72.24 L695.94,73.19 L696.52,74.15 L697.11,75.1 L697.7,76.06 L698.3,77.01 L698.89,77.97 L699.49,78.92 L700.1,79.88 L700.7,80.83 L701.3,81.79 L701.9,82.74 L702.5,83.7 L703.1,84.65 L703.7,85.61 L704.29,86.56 L704.88,87.51 L705.47,88.47 L706.05,89.42 L706.62,90.38 L707.19,91.33 L707.75,92.29 L708.3,93.24 L708.85,94.2 L709.38,95.15 L709.91,96.11 L710.42,97.06 L710.92,98.02 L711.41,98.97 L711.9,99.92 L712.38,100.88 L712.86,101.83 L713.35,102.79 L713.83,103.74 L714.33,104.7 L714.83,105.65 L715.35,106.61 L715.88,107.56 L716.42,108.52 L716.96,109.47 L717.52,110.43 L718.07,111.38 L718.64,112.33 L719.21,113.29 L719.78,114.24 L720.36,115.2 L720.95,116.15 L721.54,117.11 L722.14,118.06 L722.74,119.02 L723.35,119.97 L723.96,120.93 L724.58,121.88 L725.2,122.84 L725.82,123.79 L726.46,124.74 L727.12,125.7 L727.78,126.65 L728.45,127.61 L729.13,128.56 L729.8,129.52 L730.48,130.47 L731.15,131.43 L731.83,132.38 L732.52,133.34 L733.21,134.29 L733.9,135.25 L734.6,136.2" fill="none" stroke="#1aa3df" stroke-width="1.5" stroke-dasharray="5,3"/><path d="M712.6,22.6 L712.6,23.35 L712.61,24.09 L712.62,24.84 L712.63,25.59 L712.64,26.34 L712.66,27.08 L712.68,27.83 L712.71,28.58 L712.74,29.32 L712.77,30.07 L712.8,30.82 L712.84,31.56 L712.88,32.31 L712.92,33.06 L712.96,33.81 L713.01,34.55 L713.06,35.3 L713.11,36.05 L713.17,36.79 L713.22,37.54 L713.28,38.29 L713.34,39.04 L713.41,39.78 L713.47,40.53 L713.54,41.28 L713.61,42.02 L713.68,42.77 L713.75,43.52 L713.82,44.26 L713.9,45.01 L713.97,45.76 L714.05,46.51 L714.13,47.25 L714.21,48 L714.29,48.75 L714.38,49.49 L714.46,50.24 L714.55,50.99 L714.63,51.74 L714.72,52.48 L714.81,53.23 L714.89,53.98 L714.98,54.72 L715.07,55.47 L715.16,56.22 L715.27,56.96 L715.37,57.71 L715.49,58.46 L715.62,59.21 L715.76,59.95 L715.9,60.7 L716.05,61.45 L716.21,62.19 L716.38,62.94 L716.55,63.69 L716.73,64.44 L716.92,65.18 L717.11,65.93 L717.31,66.68 L717.52,67.42 L717.73,68.17 L717.94,68.92 L718.17,69.66 L718.39,70.41 L718.63,71.16 L718.86,71.91 L719.1,72.65 L719.35,73.4 L719.6,74.15 L719.85,74.89 L720.1,75.64 L720.36,76.39 L720.63,77.14 L720.89,77.88 L721.16,78.63 L721.43,79.38 L721.7,80.12 L721.97,80.87 L722.24,81.62 L722.52,82.36 L722.79,83.11 L723.07,83.86 L723.35,84.61 L723.63,85.35 L723.9,86.1 L724.18,86.85 L724.46,87.59 L724.73,88.34 L725.01,89.09 L725.28,89.84 L725.56,90.58 L725.83,91.33 L726.12,92.08 L726.42,92.82 L726.73,93.57 L727.04,94.32 L727.36,95.06 L727.69,95.81 L728.02,96.56 L728.35,97.31 L728.69,98.05 L729.02,98.8 L729.36,99.55 L729.69,100.29 L730.02,101.04 L730.35,101.79 L730.67,102.54 L731,103.28 L731.33,104.03 L731.67,104.78 L732,105.52 L732.33,106.27 L732.67,107.02 L733,107.76 L733.34,108.51 L733.68,109.26 L734.02,110.01 L734.36,110.75 L734.7,111.5" fill="none" stroke="#f08a30" stroke-width="1.5" stroke-dasharray="5,3"/><circle cx="692.6" cy="107.2" r="2.6" fill="#1aa3df"/><circle cx="702.7" cy="108.3" r="2.6" fill="#1aa3df"/><circle cx="715.9" cy="115.8" r="2.6" fill="#1aa3df"/><circle cx="725.5" cy="124.8" r="2.6" fill="#1aa3df"/><circle cx="735.3" cy="135.6" r="2.6" fill="#1aa3df"/><circle cx="758.3" cy="162.7" r="2.6" fill="#1aa3df"/><circle cx="790.6" cy="175.6" r="2.6" fill="#1aa3df"/><circle cx="692.6" cy="67.5" r="2.5" fill="none" stroke="#1aa3df" stroke-width="1.1"/><circle cx="702.5" cy="86.5" r="2.5" fill="none" stroke="#1aa3df" stroke-width="1.1"/><circle cx="715.9" cy="107.6" r="2.5" fill="none" stroke="#1aa3df" stroke-width="1.1"/><circle cx="725.5" cy="123.3" r="2.5" fill="none" stroke="#1aa3df" stroke-width="1.1"/><path d="M692.6,75.3L696.17,81.25H689.03Z" fill="#f08a30"/><path d="M702.4,74.9L705.97,80.85H698.83Z" fill="#f08a30"/><path d="M715.6,81.3L719.17,87.25H712.03Z" fill="#f08a30"/><path d="M734.7,109.2L738.27,115.15H731.13Z" fill="#f08a30"/><path d="M758.3,152.2L761.87,158.15H754.73Z" fill="#f08a30"/><path d="M790.6,170.9L794.17,176.85H787.03Z" fill="#f08a30"/><path d="M715.1,52.5L718.46,58.1H711.74Z" fill="none" stroke="#f08a30" stroke-width="1"/><path d="M725.6,87.5L728.96,93.1H722.24Z" fill="none" stroke="#f08a30" stroke-width="1"/><path d="M692.6,70.6L695.96,76.2H689.24Z" fill="none" stroke="#f08a30" stroke-width="1"/><path d="M659.5,22.6V182.9H823.5V22.6Z" fill="none" stroke="#4a4a4a" stroke-width="1.5"/><path d="M659.5,182.9v-5.5M659.5,22.6v4.5M669.37,182.9v-2.8M669.37,22.6v2.5M675.15,182.9v-2.8M675.15,22.6v2.5M679.25,182.9v-2.8M679.25,22.6v2.5M682.43,182.9v-2.8M682.43,22.6v2.5M685.02,182.9v-2.8M685.02,22.6v2.5M687.22,182.9v-2.8M687.22,22.6v2.5M689.12,182.9v-2.8M689.12,22.6v2.5M690.8,182.9v-2.8M690.8,22.6v2.5M692.3,182.9v-5.5M692.3,22.6v4.5M702.17,182.9v-2.8M702.17,22.6v2.5M707.95,182.9v-2.8M707.95,22.6v2.5M712.05,182.9v-2.8M712.05,22.6v2.5M715.23,182.9v-2.8M715.23,22.6v2.5M717.82,182.9v-2.8M717.82,22.6v2.5M720.02,182.9v-2.8M720.02,22.6v2.5M721.92,182.9v-2.8M721.92,22.6v2.5M723.6,182.9v-2.8M723.6,22.6v2.5M725.1,182.9v-5.5M725.1,22.6v4.5M734.97,182.9v-2.8M734.97,22.6v2.5M740.75,182.9v-2.8M740.75,22.6v2.5M744.85,182.9v-2.8M744.85,22.6v2.5M748.03,182.9v-2.8M748.03,22.6v2.5M750.62,182.9v-2.8M750.62,22.6v2.5M752.82,182.9v-2.8M752.82,22.6v2.5M754.72,182.9v-2.8M754.72,22.6v2.5M756.4,182.9v-2.8M756.4,22.6v2.5M757.9,182.9v-5.5M757.9,22.6v4.5M767.77,182.9v-2.8M767.77,22.6v2.5M773.55,182.9v-2.8M773.55,22.6v2.5M777.65,182.9v-2.8M777.65,22.6v2.5M780.83,182.9v-2.8M780.83,22.6v2.5M783.42,182.9v-2.8M783.42,22.6v2.5M785.62,182.9v-2.8M785.62,22.6v2.5M787.52,182.9v-2.8M787.52,22.6v2.5M789.2,182.9v-2.8M789.2,22.6v2.5M790.7,182.9v-5.5M790.7,22.6v4.5M800.57,182.9v-2.8M800.57,22.6v2.5M806.35,182.9v-2.8M806.35,22.6v2.5M810.45,182.9v-2.8M810.45,22.6v2.5M813.63,182.9v-2.8M813.63,22.6v2.5M816.22,182.9v-2.8M816.22,22.6v2.5M818.42,182.9v-2.8M818.42,22.6v2.5M820.32,182.9v-2.8M820.32,22.6v2.5M822,182.9v-2.8M822,22.6v2.5M823.5,182.9v-5.5M823.5,22.6v4.5" stroke="#444" stroke-width="1" fill="none"/><path d="M659.5,177.5h5M823.5,177.5h-5M659.5,151.65h5M823.5,151.65h-5M659.5,125.8h5M823.5,125.8h-5M659.5,99.95h5M823.5,99.95h-5M659.5,74.1h5M823.5,74.1h-5M659.5,48.25h5M823.5,48.25h-5M659.5,22.4h5M823.5,22.4h-5" stroke="#444" stroke-width="1"/><text x="652" y="181.7" class="ss" font-size="11.5" fill="#222" text-anchor="middle">0</text><text x="652" y="155.85" class="ss" font-size="11.5" fill="#222" text-anchor="middle">1</text><text x="652" y="130" class="ss" font-size="11.5" fill="#222" text-anchor="middle">2</text><text x="652" y="104.15" class="ss" font-size="11.5" fill="#222" text-anchor="middle">3</text><text x="652" y="78.3" class="ss" font-size="11.5" fill="#222" text-anchor="middle">4</text><text x="652" y="52.45" class="ss" font-size="11.5" fill="#222" text-anchor="middle">5</text><text x="652" y="26.6" class="ss" font-size="11.5" fill="#222" text-anchor="middle">6</text><text x="659.5" y="197.5" class="ss" font-size="11.5" fill="#222" text-anchor="middle">10<tspan font-size="8" dy="-4.5">-2</tspan></text><text x="692.3" y="197.5" class="ss" font-size="11.5" fill="#222" text-anchor="middle">10<tspan font-size="8" dy="-4.5">-1</tspan></text><text x="725.1" y="197.5" class="ss" font-size="11.5" fill="#222" text-anchor="middle">10<tspan font-size="8" dy="-4.5">0</tspan></text><text x="757.9" y="197.5" class="ss" font-size="11.5" fill="#222" text-anchor="middle">10<tspan font-size="8" dy="-4.5">1</tspan></text><text x="790.7" y="197.5" class="ss" font-size="11.5" fill="#222" text-anchor="middle">10<tspan font-size="8" dy="-4.5">2</tspan></text><text x="823.5" y="197.5" class="ss" font-size="11.5" fill="#222" text-anchor="middle">10<tspan font-size="8" dy="-4.5">3</tspan></text><text x="736" y="212.5" class="ss" font-size="12" font-style="italic" fill="#222">κ<tspan font-size="8" dy="3" font-style="normal">0</tspan><tspan dy="-3">H</tspan></text><text transform="translate(644.7,147.5) rotate(-90)" class="ss" font-size="10.5" fill="#222">塞贝克系数/ [ <tspan font-style="italic" font-size="11.5">k</tspan><tspan font-size="8" dy="3">B</tspan><tspan dy="-3" font-size="11.5">/</tspan><tspan font-style="italic" font-size="11.5">e</tspan><tspan font-size="11.5">]</tspan></text><rect x="740.9" y="29.9" width="75.4" height="43.5" fill="#fff" stroke="#555" stroke-width="0.9"/><text x="745" y="43" class="ss" font-size="11.5" fill="#222">CP</text><text x="764" y="43" class="ss" font-size="11.5" fill="#222">CC</text><circle cx="752" cy="52.3" r="2.4" fill="#1aa3df"/><circle cx="770.8" cy="52.3" r="2.3" fill="none" stroke="#1aa3df" stroke-width="1.1"/><path d="M752,62.1L755.47,67.88H748.53Z" fill="#f08a30"/><path d="M770.8,62.3L774.05,67.73H767.54Z" fill="none" stroke="#f08a30" stroke-width="1"/><text x="782" y="56.5" class="ss" font-size="11" fill="#222"><tspan font-style="italic">ν</tspan><tspan font-size="7" dy="3">0</tspan><tspan dy="-3">= 0</tspan></text><text x="782" y="69.5" class="ss" font-size="11" fill="#222"><tspan font-style="italic">ν</tspan><tspan font-size="7" dy="3">0</tspan><tspan dy="-3">= 0.1</tspan></text><text x="673" y="91.5" class="ss" font-size="11.5" fill="#222">CP</text><text x="692.6" y="50.3" class="ss" font-size="11.5" fill="#222">CC</text><path d="M706.6,42.1L713.8,39.4M693.9,52.1L690.8,61.2M681.2,80.2L687.6,73.8M677.6,95.4L683,101.8" stroke="#333" stroke-width="0.8"/><text x="747.6" y="135" class="ss" font-size="11" fill="#f08a30"><tspan font-style="italic">ν</tspan><tspan font-size="7" dy="3">0</tspan><tspan dy="-3">= 0.1</tspan></text><text x="722" y="158" class="ss" font-size="11" fill="#1aa3df"><tspan font-style="italic">ν</tspan><tspan font-size="7" dy="3">0</tspan><tspan dy="-3"> = 0</tspan></text><path d="M36.3,377.4 L37.31,377.4 L38.33,377.4 L39.34,377.4 L40.36,377.4 L41.37,377.4 L42.38,377.41 L43.4,377.41 L44.41,377.41 L45.43,377.41 L46.44,377.42 L47.46,377.42 L48.47,377.42 L49.48,377.43 L50.5,377.43 L51.51,377.44 L52.53,377.44 L53.54,377.45 L54.55,377.45 L55.57,377.46 L56.58,377.47 L57.6,377.47 L58.61,377.48 L59.62,377.49 L60.64,377.5 L61.65,377.51 L62.67,377.52 L63.68,377.53 L64.69,377.54 L65.71,377.55 L66.72,377.56 L67.74,377.57 L68.75,377.58 L69.77,377.6 L70.78,377.62 L71.79,377.65 L72.81,377.7 L73.82,377.77 L74.84,377.86 L75.85,377.95 L76.86,378.06 L77.88,378.18 L78.89,378.31 L79.91,378.45 L80.92,378.59 L81.93,378.74 L82.95,378.91 L83.96,379.14 L84.98,379.42 L85.99,379.74 L87,380.09 L88.02,380.47 L89.03,380.86 L90.05,381.26 L91.06,381.65 L92.08,382.03 L93.09,382.41 L94.1,382.81 L95.12,383.23 L96.13,383.66 L97.15,384.09 L98.16,384.52 L99.17,384.95 L100.19,385.36 L101.2,385.76 L102.22,386.15 L103.23,386.54 L104.24,386.94 L105.26,387.33 L106.27,387.71 L107.29,388.08 L108.3,388.45 L109.31,388.8 L110.33,389.13 L111.34,389.44 L112.36,389.73 L113.37,390 L114.39,390.27 L115.4,390.52 L116.41,390.76 L117.43,390.98 L118.44,391.19 L119.46,391.39 L120.47,391.58 L121.48,391.77 L122.5,391.95 L123.51,392.13 L124.53,392.3 L125.54,392.45 L126.55,392.59 L127.57,392.71 L128.58,392.81 L129.6,392.9 L130.61,392.99 L131.62,393.07 L132.64,393.15 L133.65,393.23 L134.67,393.31 L135.68,393.38 L136.7,393.45 L137.71,393.51 L138.72,393.57 L139.74,393.62 L140.75,393.67 L141.77,393.71 L142.78,393.74 L143.79,393.77 L144.81,393.8 L145.82,393.81 L146.84,393.83 L147.85,393.85 L148.86,393.87 L149.88,393.88 L150.89,393.9 L151.91,393.92 L152.92,393.93 L153.93,393.95 L154.95,393.96 L155.96,393.98 L156.98,393.99 L157.99,394 L159.01,394.02 L160.02,394.03 L161.03,394.04 L162.05,394.05 L163.06,394.06 L164.08,394.08 L165.09,394.09 L166.1,394.1 L167.12,394.11 L168.13,394.11 L169.15,394.12 L170.16,394.13 L171.17,394.14 L172.19,394.15 L173.2,394.15 L174.22,394.16 L175.23,394.17 L176.24,394.17 L177.26,394.18 L178.27,394.18 L179.29,394.18 L180.3,394.19 L181.32,394.19 L182.33,394.19 L183.34,394.2 L184.36,394.2 L185.37,394.2 L186.39,394.2 L187.4,394.2" fill="none" stroke="#c06aa0" stroke-width="1.05"/><path d="M36.3,310.6 L37.31,310.6 L38.33,310.6 L39.34,310.61 L40.36,310.61 L41.37,310.62 L42.38,310.63 L43.4,310.64 L44.41,310.65 L45.43,310.67 L46.44,310.68 L47.46,310.7 L48.47,310.71 L49.48,310.73 L50.5,310.75 L51.51,310.78 L52.53,310.8 L53.54,310.82 L54.55,310.85 L55.57,310.87 L56.58,310.9 L57.6,310.93 L58.61,310.96 L59.62,310.99 L60.64,311.02 L61.65,311.06 L62.67,311.12 L63.68,311.18 L64.69,311.25 L65.71,311.33 L66.72,311.42 L67.74,311.53 L68.75,311.64 L69.77,311.76 L70.78,311.9 L71.79,312.04 L72.81,312.2 L73.82,312.4 L74.84,312.68 L75.85,313.03 L76.86,313.44 L77.88,313.92 L78.89,314.45 L79.91,315.02 L80.92,315.65 L81.93,316.32 L82.95,317.02 L83.96,317.75 L84.98,318.55 L85.99,319.56 L87,320.74 L88.02,322.05 L89.03,323.47 L90.05,324.94 L91.06,326.43 L92.08,327.9 L93.09,329.45 L94.1,331.09 L95.12,332.79 L96.13,334.54 L97.15,336.31 L98.16,338.06 L99.17,339.79 L100.19,341.53 L101.2,343.28 L102.22,345.04 L103.23,346.79 L104.24,348.54 L105.26,350.26 L106.27,351.95 L107.29,353.65 L108.3,355.34 L109.31,357.03 L110.33,358.7 L111.34,360.33 L112.36,361.92 L113.37,363.46 L114.39,364.92 L115.4,366.32 L116.41,367.66 L117.43,368.97 L118.44,370.23 L119.46,371.46 L120.47,372.67 L121.48,373.87 L122.5,375.07 L123.51,376.26 L124.53,377.43 L125.54,378.56 L126.55,379.64 L127.57,380.65 L128.58,381.57 L129.6,382.44 L130.61,383.29 L131.62,384.1 L132.64,384.88 L133.65,385.63 L134.67,386.33 L135.68,386.99 L136.7,387.6 L137.71,388.15 L138.72,388.66 L139.74,389.16 L140.75,389.63 L141.77,390.08 L142.78,390.51 L143.79,390.9 L144.81,391.26 L145.82,391.57 L146.84,391.85 L147.85,392.07 L148.86,392.29 L149.88,392.49 L150.89,392.69 L151.91,392.87 L152.92,393.05 L153.93,393.21 L154.95,393.35 L155.96,393.48 L156.98,393.59 L157.99,393.68 L159.01,393.75 L160.02,393.8 L161.03,393.84 L162.05,393.87 L163.06,393.9 L164.08,393.94 L165.09,393.97 L166.1,394 L167.12,394.02 L168.13,394.05 L169.15,394.08 L170.16,394.1 L171.17,394.12 L172.19,394.14 L173.2,394.16 L174.22,394.18 L175.23,394.2 L176.24,394.22 L177.26,394.23 L178.27,394.24 L179.29,394.26 L180.3,394.27 L181.32,394.27 L182.33,394.28 L183.34,394.29 L184.36,394.29 L185.37,394.3 L186.39,394.3 L187.4,394.3" fill="none" stroke="#1eaee5" stroke-width="1.05" stroke-dasharray="4,2.5"/><path d="M36.3,310 L37.31,310 L38.33,310 L39.34,310 L40.36,310.01 L41.37,310.01 L42.38,310.01 L43.4,310.02 L44.41,310.02 L45.43,310.03 L46.44,310.04 L47.46,310.05 L48.47,310.06 L49.48,310.06 L50.5,310.07 L51.51,310.09 L52.53,310.1 L53.54,310.11 L54.55,310.12 L55.57,310.13 L56.58,310.15 L57.6,310.16 L58.61,310.18 L59.62,310.19 L60.64,310.21 L61.65,310.24 L62.67,310.27 L63.68,310.31 L64.69,310.35 L65.71,310.41 L66.72,310.47 L67.74,310.54 L68.75,310.61 L69.77,310.7 L70.78,310.79 L71.79,310.89 L72.81,311 L73.82,311.16 L74.84,311.4 L75.85,311.71 L76.86,312.1 L77.88,312.55 L78.89,313.05 L79.91,313.61 L80.92,314.22 L81.93,314.87 L82.95,315.55 L83.96,316.26 L84.98,317.04 L85.99,318.05 L87,319.24 L88.02,320.58 L89.03,322.02 L90.05,323.51 L91.06,325.02 L92.08,326.5 L93.09,328.04 L94.1,329.67 L95.12,331.36 L96.13,333.08 L97.15,334.83 L98.16,336.57 L99.17,338.29 L100.19,340.02 L101.2,341.76 L102.22,343.52 L103.23,345.28 L104.24,347.02 L105.26,348.75 L106.27,350.46 L107.29,352.17 L108.3,353.89 L109.31,355.61 L110.33,357.31 L111.34,358.97 L112.36,360.59 L113.37,362.15 L114.39,363.62 L115.4,365.02 L116.41,366.36 L117.43,367.66 L118.44,368.91 L119.46,370.15 L120.47,371.36 L121.48,372.58 L122.5,373.82 L123.51,375.05 L124.53,376.27 L125.54,377.44 L126.55,378.57 L127.57,379.62 L128.58,380.57 L129.6,381.47 L130.61,382.34 L131.62,383.17 L132.64,383.97 L133.65,384.73 L134.67,385.45 L135.68,386.13 L136.7,386.76 L137.71,387.34 L138.72,387.88 L139.74,388.41 L140.75,388.92 L141.77,389.41 L142.78,389.87 L143.79,390.29 L144.81,390.68 L145.82,391.03 L146.84,391.33 L147.85,391.58 L148.86,391.82 L149.88,392.04 L150.89,392.25 L151.91,392.45 L152.92,392.64 L153.93,392.82 L154.95,392.98 L155.96,393.12 L156.98,393.24 L157.99,393.35 L159.01,393.44 L160.02,393.5 L161.03,393.56 L162.05,393.61 L163.06,393.66 L164.08,393.71 L165.09,393.75 L166.1,393.8 L167.12,393.84 L168.13,393.89 L169.15,393.93 L170.16,393.97 L171.17,394 L172.19,394.04 L173.2,394.07 L174.22,394.1 L175.23,394.13 L176.24,394.16 L177.26,394.18 L178.27,394.2 L179.29,394.22 L180.3,394.24 L181.32,394.26 L182.33,394.27 L183.34,394.28 L184.36,394.29 L185.37,394.3 L186.39,394.3 L187.4,394.3" fill="none" stroke="#1eaee5" stroke-width="1.05"/><path d="M36.3,253.6 L37.31,253.61 L38.33,253.62 L39.34,253.65 L40.36,253.68 L41.37,253.73 L42.38,253.78 L43.4,253.83 L44.41,253.89 L45.43,253.96 L46.44,254.03 L47.46,254.14 L48.47,254.29 L49.48,254.47 L50.5,254.68 L51.51,254.91 L52.53,255.17 L53.54,255.45 L54.55,255.75 L55.57,256.05 L56.58,256.37 L57.6,256.7 L58.61,257.09 L59.62,257.52 L60.64,258.01 L61.65,258.53 L62.67,259.08 L63.68,259.65 L64.69,260.24 L65.71,260.83 L66.72,261.43 L67.74,262.05 L68.75,262.71 L69.77,263.39 L70.78,264.09 L71.79,264.83 L72.81,265.59 L73.82,266.38 L74.84,267.2 L75.85,268.05 L76.86,268.95 L77.88,269.9 L78.89,270.88 L79.91,271.91 L80.92,272.97 L81.93,274.06 L82.95,275.17 L83.96,276.31 L84.98,277.47 L85.99,278.68 L87,279.95 L88.02,281.27 L89.03,282.63 L90.05,284.02 L91.06,285.42 L92.08,286.81 L93.09,288.19 L94.1,289.54 L95.12,290.86 L96.13,292.17 L97.15,293.47 L98.16,294.77 L99.17,296.06 L100.19,297.36 L101.2,298.67 L102.22,299.98 L103.23,301.3 L104.24,302.63 L105.26,303.95 L106.27,305.27 L107.29,306.6 L108.3,307.94 L109.31,309.3 L110.33,310.68 L111.34,312.08 L112.36,313.51 L113.37,314.96 L114.39,316.42 L115.4,317.91 L116.41,319.41 L117.43,320.94 L118.44,322.48 L119.46,324.03 L120.47,325.61 L121.48,327.2 L122.5,328.81 L123.51,330.43 L124.53,332.09 L125.54,333.8 L126.55,335.56 L127.57,337.34 L128.58,339.12 L129.6,340.9 L130.61,342.66 L131.62,344.38 L132.64,346.05 L133.65,347.73 L134.67,349.4 L135.68,351.06 L136.7,352.71 L137.71,354.34 L138.72,355.95 L139.74,357.52 L140.75,359.05 L141.77,360.53 L142.78,361.97 L143.79,363.37 L144.81,364.75 L145.82,366.09 L146.84,367.41 L147.85,368.69 L148.86,369.94 L149.88,371.14 L150.89,372.29 L151.91,373.4 L152.92,374.47 L153.93,375.52 L154.95,376.56 L155.96,377.57 L156.98,378.56 L157.99,379.52 L159.01,380.44 L160.02,381.33 L161.03,382.19 L162.05,383 L163.06,383.76 L164.08,384.48 L165.09,385.17 L166.1,385.84 L167.12,386.5 L168.13,387.13 L169.15,387.74 L170.16,388.31 L171.17,388.85 L172.19,389.35 L173.2,389.81 L174.22,390.22 L175.23,390.58 L176.24,390.92 L177.26,391.25 L178.27,391.57 L179.29,391.87 L180.3,392.16 L181.32,392.43 L182.33,392.68 L183.34,392.91 L184.36,393.1 L185.37,393.27 L186.39,393.4 L187.4,393.5" fill="none" stroke="#f39a45" stroke-width="1.05" stroke-dasharray="5,3"/><path d="M36.3,253.6 L37.31,253.6 L38.33,253.6 L39.34,253.6 L40.36,253.6 L41.37,253.61 L42.38,253.61 L43.4,253.61 L44.41,253.62 L45.43,253.62 L46.44,253.63 L47.46,253.64 L48.47,253.64 L49.48,253.65 L50.5,253.66 L51.51,253.67 L52.53,253.68 L53.54,253.69 L54.55,253.7 L55.57,253.71 L56.58,253.73 L57.6,253.76 L58.61,253.81 L59.62,253.86 L60.64,253.92 L61.65,253.99 L62.67,254.07 L63.68,254.16 L64.69,254.25 L65.71,254.36 L66.72,254.47 L67.74,254.6 L68.75,254.8 L69.77,255.05 L70.78,255.36 L71.79,255.71 L72.81,256.1 L73.82,256.52 L74.84,256.97 L75.85,257.43 L76.86,257.92 L77.88,258.47 L78.89,259.09 L79.91,259.79 L80.92,260.57 L81.93,261.43 L82.95,262.39 L83.96,263.46 L84.98,264.78 L85.99,266.48 L87,268.47 L88.02,270.65 L89.03,272.94 L90.05,275.31 L91.06,278.04 L92.08,280.99 L93.09,284.01 L94.1,286.93 L95.12,289.62 L96.13,292.23 L97.15,294.78 L98.16,297.29 L99.17,299.78 L100.19,302.24 L101.2,304.69 L102.22,307.09 L103.23,309.45 L104.24,311.82 L105.26,314.22 L106.27,316.67 L107.29,319.2 L108.3,321.79 L109.31,324.39 L110.33,326.96 L111.34,329.45 L112.36,331.82 L113.37,334.13 L114.39,336.4 L115.4,338.62 L116.41,340.78 L117.43,342.88 L118.44,344.91 L119.46,346.87 L120.47,348.78 L121.48,350.64 L122.5,352.45 L123.51,354.22 L124.53,355.95 L125.54,357.63 L126.55,359.29 L127.57,360.91 L128.58,362.52 L129.6,364.12 L130.61,365.69 L131.62,367.22 L132.64,368.7 L133.65,370.11 L134.67,371.45 L135.68,372.7 L136.7,373.88 L137.71,375.02 L138.72,376.12 L139.74,377.18 L140.75,378.2 L141.77,379.17 L142.78,380.11 L143.79,381 L144.81,381.84 L145.82,382.66 L146.84,383.47 L147.85,384.26 L148.86,385.02 L149.88,385.75 L150.89,386.44 L151.91,387.09 L152.92,387.67 L153.93,388.2 L154.95,388.65 L155.96,389.07 L156.98,389.46 L157.99,389.83 L159.01,390.18 L160.02,390.51 L161.03,390.81 L162.05,391.09 L163.06,391.35 L164.08,391.6 L165.09,391.82 L166.1,392.03 L167.12,392.23 L168.13,392.43 L169.15,392.61 L170.16,392.79 L171.17,392.94 L172.19,393.09 L173.2,393.22 L174.22,393.33 L175.23,393.42 L176.24,393.51 L177.26,393.59 L178.27,393.67 L179.29,393.75 L180.3,393.82 L181.32,393.89 L182.33,393.95 L183.34,394 L184.36,394.04 L185.37,394.07 L186.39,394.09 L187.4,394.1" fill="none" stroke="#f39a45" stroke-width="1.05"/><path d="M36.3,250.3H187.4V399.4H36.3" fill="none" stroke="#555" stroke-width="1.3"/><path d="M36.3,250.3V399.4" fill="none" stroke="#bbb" stroke-width="1.3"/><path d="M36.3,399.4v-4.5M45.4,399.4v-2.5M50.72,399.4v-2.5M54.49,399.4v-2.5M57.42,399.4v-2.5M59.82,399.4v-2.5M61.84,399.4v-2.5M63.59,399.4v-2.5M65.14,399.4v-2.5M66.52,399.4v-4.5M75.62,399.4v-2.5M80.94,399.4v-2.5M84.71,399.4v-2.5M87.64,399.4v-2.5M90.04,399.4v-2.5M92.06,399.4v-2.5M93.81,399.4v-2.5M95.36,399.4v-2.5M96.74,399.4v-4.5M105.84,399.4v-2.5M111.16,399.4v-2.5M114.93,399.4v-2.5M117.86,399.4v-2.5M120.26,399.4v-2.5M122.28,399.4v-2.5M124.03,399.4v-2.5M125.58,399.4v-2.5M126.96,399.4v-4.5M136.06,399.4v-2.5M141.38,399.4v-2.5M145.15,399.4v-2.5M148.08,399.4v-2.5M150.48,399.4v-2.5M152.5,399.4v-2.5M154.25,399.4v-2.5M155.8,399.4v-2.5M157.18,399.4v-4.5M166.28,399.4v-2.5M171.6,399.4v-2.5M175.37,399.4v-2.5M178.3,399.4v-2.5M180.7,399.4v-2.5M182.72,399.4v-2.5M184.47,399.4v-2.5M186.02,399.4v-2.5M187.4,399.4v-4.5" stroke="#555" stroke-width="0.9" fill="none"/><path d="M36.3,394.4h5M36.3,365.57h5M36.3,336.74h5M36.3,307.91h5M36.3,279.08h5M36.3,250.25h5" stroke="#666" stroke-width="1"/><text x="30" y="398.9" class="sf" font-size="12" fill="#333" text-anchor="middle">0</text><text x="30" y="370.07" class="sf" font-size="12" fill="#333" text-anchor="middle">1</text><text x="30" y="341.24" class="sf" font-size="12" fill="#333" text-anchor="middle">2</text><text x="30" y="312.41" class="sf" font-size="12" fill="#333" text-anchor="middle">3</text><text x="30" y="283.58" class="sf" font-size="12" fill="#333" text-anchor="middle">4</text><text x="30" y="254.75" class="sf" font-size="12" fill="#333" text-anchor="middle">5</text><text x="36.3" y="416" class="sf" font-size="11.5" fill="#333" text-anchor="middle">10<tspan font-size="7.5" dy="-5">-2</tspan></text><text x="66.52" y="416" class="sf" font-size="11.5" fill="#333" text-anchor="middle">10<tspan font-size="7.5" dy="-5">-1</tspan></text><text x="96.74" y="416" class="sf" font-size="11.5" fill="#333" text-anchor="middle">10<tspan font-size="7.5" dy="-5">0</tspan></text><text x="126.96" y="416" class="sf" font-size="11.5" fill="#333" text-anchor="middle">10<tspan font-size="7.5" dy="-5">1</tspan></text><text x="157.18" y="416" class="sf" font-size="11.5" fill="#333" text-anchor="middle">10<tspan font-size="7.5" dy="-5">2</tspan></text><text x="187.4" y="416" class="sf" font-size="11.5" fill="#333" text-anchor="middle">10<tspan font-size="7.5" dy="-5">3</tspan></text><text x="100.5" y="430.5" class="sf" font-size="12" font-style="italic" fill="#333">κ<tspan font-size="8" dy="3" font-style="normal">0</tspan><tspan dy="-3">H</tspan></text><text transform="translate(19,348) rotate(-90)" class="sf" font-size="12.5" fill="#333"><tspan font-style="italic">S</tspan><tspan font-size="7.5" dy="3" font-style="italic">ψ</tspan><tspan dy="-3"> /[</tspan><tspan font-style="italic">k</tspan><tspan font-size="7.5" dy="3">B</tspan><tspan dy="-3">/</tspan><tspan font-style="italic">e</tspan>]</text><path d="M116.7,250.3V282.3H187.4" fill="none" stroke="#555" stroke-width="1"/><path d="M122,258H140" stroke="#444" stroke-width="1" stroke-dasharray="4,2.5"/><path d="M122,272.3H140" stroke="#444" stroke-width="1"/><text x="148.5" y="261.5" class="sf" font-size="10.5" fill="#333"><tspan font-style="italic">v</tspan><tspan font-size="6" dy="2.5">0</tspan><tspan dy="-2.5"> = 0</tspan></text><text x="148.5" y="275.8" class="sf" font-size="10.5" fill="#333"><tspan font-style="italic">v</tspan><tspan font-size="6" dy="2.5">0</tspan><tspan dy="-2.5"> = 0.1</tspan></text><text x="122.6" y="324" class="sf" font-size="11" fill="#333"><tspan font-style="italic">ψ</tspan><tspan font-size="7" dy="3">w</tspan><tspan dy="-3"> = 125 mV</tspan></text><text x="38.3" y="336" class="sf" font-size="11" fill="#333"><tspan font-style="italic">ψ</tspan><tspan font-size="7" dy="3">w</tspan><tspan dy="-3"> − 75 mV</tspan></text><text x="38.3" y="370.5" class="sf" font-size="11" fill="#333"><tspan font-style="italic">ψ</tspan><tspan font-size="7" dy="3">w</tspan><tspan dy="-3"> = 15 mV</tspan></text><path d="M233.6,327.3 L234.61,327.3 L235.63,327.3 L236.64,327.3 L237.65,327.3 L238.67,327.3 L239.68,327.3 L240.69,327.3 L241.71,327.3 L242.72,327.31 L243.73,327.31 L244.75,327.31 L245.76,327.31 L246.77,327.31 L247.79,327.32 L248.8,327.32 L249.81,327.32 L250.83,327.33 L251.84,327.33 L252.86,327.33 L253.87,327.34 L254.88,327.34 L255.9,327.35 L256.91,327.35 L257.92,327.36 L258.94,327.36 L259.95,327.37 L260.96,327.37 L261.98,327.38 L262.99,327.39 L264,327.39 L265.02,327.4 L266.03,327.43 L267.04,327.48 L268.06,327.57 L269.07,327.68 L270.08,327.82 L271.1,327.97 L272.11,328.13 L273.12,328.31 L274.14,328.49 L275.15,328.7 L276.16,328.96 L277.18,329.28 L278.19,329.63 L279.2,330.03 L280.22,330.47 L281.23,330.93 L282.24,331.42 L283.26,331.93 L284.27,332.49 L285.28,333.11 L286.3,333.8 L287.31,334.56 L288.32,335.39 L289.34,336.29 L290.35,337.28 L291.37,338.35 L292.38,339.61 L293.39,341.17 L294.41,342.95 L295.42,344.88 L296.43,346.88 L297.45,348.9 L298.46,351.06 L299.47,353.36 L300.49,355.76 L301.5,358.19 L302.51,360.62 L303.53,363.01 L304.54,365.51 L305.55,368.06 L306.57,370.59 L307.58,373 L308.59,375.2 L309.61,377.15 L310.62,379 L311.63,380.74 L312.65,382.36 L313.66,383.81 L314.67,385.09 L315.69,386.22 L316.7,387.25 L317.71,388.19 L318.73,389.04 L319.74,389.81 L320.75,390.53 L321.77,391.21 L322.78,391.87 L323.79,392.49 L324.81,393.08 L325.82,393.63 L326.83,394.15 L327.85,394.63 L328.86,395.06 L329.88,395.45 L330.89,395.81 L331.9,396.16 L332.92,396.49 L333.93,396.79 L334.94,397.08 L335.96,397.33 L336.97,397.54 L337.98,397.72 L339,397.87 L340.01,398 L341.02,398.12 L342.04,398.24 L343.05,398.35 L344.06,398.45 L345.08,398.55 L346.09,398.64 L347.1,398.72 L348.12,398.8 L349.13,398.87 L350.14,398.94 L351.16,399 L352.17,399.06 L353.18,399.12 L354.2,399.16 L355.21,399.21 L356.22,399.25 L357.24,399.3 L358.25,399.34 L359.26,399.38 L360.28,399.42 L361.29,399.46 L362.3,399.5 L363.32,399.54 L364.33,399.58 L365.34,399.61 L366.36,399.65 L367.37,399.68 L368.39,399.72 L369.4,399.75 L370.41,399.78 L371.43,399.81 L372.44,399.83 L373.45,399.86 L374.47,399.88 L375.48,399.9 L376.49,399.92 L377.51,399.94 L378.52,399.96 L379.53,399.97 L380.55,399.98 L381.56,399.99 L382.57,399.99 L383.59,400 L384.6,400" fill="none" stroke="#c06aa0" stroke-width="1.05"/><path d="M233.6,262.7 L234.61,262.7 L235.63,262.7 L236.64,262.7 L237.65,262.7 L238.67,262.7 L239.68,262.7 L240.69,262.7 L241.71,262.7 L242.72,262.7 L243.73,262.7 L244.75,262.7 L245.76,262.7 L246.77,262.71 L247.79,262.71 L248.8,262.71 L249.81,262.71 L250.83,262.71 L251.84,262.71 L252.86,262.71 L253.87,262.72 L254.88,262.72 L255.9,262.72 L256.91,262.72 L257.92,262.72 L258.94,262.73 L259.95,262.73 L260.96,262.73 L261.98,262.73 L262.99,262.74 L264,262.74 L265.02,262.74 L266.03,262.75 L267.04,262.75 L268.06,262.75 L269.07,262.76 L270.08,262.76 L271.1,262.77 L272.11,262.77 L273.12,262.78 L274.14,262.78 L275.15,262.78 L276.16,262.79 L277.18,262.8 L278.19,262.8 L279.2,262.83 L280.22,262.88 L281.23,262.96 L282.24,263.06 L283.26,263.19 L284.27,263.33 L285.28,263.5 L286.3,263.67 L287.31,263.86 L288.32,264.07 L289.34,264.37 L290.35,264.78 L291.37,265.26 L292.38,265.82 L293.39,266.43 L294.41,267.14 L295.42,268.02 L296.43,269.03 L297.45,270.15 L298.46,271.34 L299.47,272.59 L300.49,273.91 L301.5,275.36 L302.51,276.97 L303.53,278.77 L304.54,280.8 L305.55,283.26 L306.57,286.2 L307.58,289.53 L308.59,293.31 L309.61,297.88 L310.62,302.54 L311.63,307.15 L312.65,311.83 L313.66,316.41 L314.67,320.72 L315.69,324.8 L316.7,328.72 L317.71,332.49 L318.73,336.1 L319.74,339.63 L320.75,343.13 L321.77,346.52 L322.78,349.76 L323.79,352.78 L324.81,355.52 L325.82,357.98 L326.83,360.3 L327.85,362.48 L328.86,364.54 L329.88,366.49 L330.89,368.35 L331.9,370.14 L332.92,371.86 L333.93,373.55 L334.94,375.22 L335.96,376.86 L336.97,378.44 L337.98,379.95 L339,381.38 L340.01,382.7 L341.02,383.9 L342.04,384.95 L343.05,385.87 L344.06,386.73 L345.08,387.53 L346.09,388.27 L347.1,388.96 L348.12,389.62 L349.13,390.23 L350.14,390.81 L351.16,391.36 L352.17,391.89 L353.18,392.4 L354.2,392.91 L355.21,393.4 L356.22,393.88 L357.24,394.33 L358.25,394.77 L359.26,395.17 L360.28,395.55 L361.29,395.89 L362.3,396.19 L363.32,396.46 L364.33,396.69 L365.34,396.93 L366.36,397.16 L367.37,397.38 L368.39,397.6 L369.4,397.82 L370.41,398.03 L371.43,398.23 L372.44,398.42 L373.45,398.61 L374.47,398.78 L375.48,398.94 L376.49,399.09 L377.51,399.22 L378.52,399.34 L379.53,399.45 L380.55,399.54 L381.56,399.61 L382.57,399.66 L383.59,399.69 L384.6,399.7" fill="none" stroke="#1eaee5" stroke-width="1.05"/><path d="M233.6,262.1 L234.61,262.1 L235.63,262.1 L236.64,262.1 L237.65,262.1 L238.67,262.1 L239.68,262.1 L240.69,262.1 L241.71,262.1 L242.72,262.1 L243.73,262.1 L244.75,262.1 L245.76,262.1 L246.77,262.11 L247.79,262.11 L248.8,262.11 L249.81,262.11 L250.83,262.11 L251.84,262.11 L252.86,262.11 L253.87,262.11 L254.88,262.12 L255.9,262.12 L256.91,262.12 L257.92,262.12 L258.94,262.12 L259.95,262.13 L260.96,262.13 L261.98,262.13 L262.99,262.13 L264,262.14 L265.02,262.14 L266.03,262.14 L267.04,262.14 L268.06,262.15 L269.07,262.15 L270.08,262.16 L271.1,262.16 L272.11,262.16 L273.12,262.17 L274.14,262.17 L275.15,262.18 L276.16,262.18 L277.18,262.19 L278.19,262.19 L279.2,262.2 L280.22,262.2 L281.23,262.23 L282.24,262.29 L283.26,262.39 L284.27,262.5 L285.28,262.64 L286.3,262.8 L287.31,262.98 L288.32,263.17 L289.34,263.37 L290.35,263.58 L291.37,263.84 L292.38,264.17 L293.39,264.56 L294.41,265.01 L295.42,265.52 L296.43,266.08 L297.45,266.78 L298.46,267.65 L299.47,268.66 L300.49,269.79 L301.5,271 L302.51,272.34 L303.53,273.87 L304.54,275.58 L305.55,277.47 L306.57,279.54 L307.58,281.91 L308.59,284.65 L309.61,287.73 L310.62,291.21 L311.63,295.36 L312.65,299.81 L313.66,304.15 L314.67,308.32 L315.69,312.47 L316.7,316.63 L317.71,320.81 L318.73,325.12 L319.74,329.61 L320.75,333.97 L321.77,337.89 L322.78,341.38 L323.79,344.71 L324.81,347.87 L325.82,350.86 L326.83,353.65 L327.85,356.25 L328.86,358.64 L329.88,360.88 L330.89,363 L331.9,365.02 L332.92,366.93 L333.93,368.73 L334.94,370.42 L335.96,371.99 L336.97,373.46 L337.98,374.83 L339,376.14 L340.01,377.39 L341.02,378.59 L342.04,379.73 L343.05,380.82 L344.06,381.86 L345.08,382.86 L346.09,383.81 L347.1,384.72 L348.12,385.6 L349.13,386.45 L350.14,387.27 L351.16,388.06 L352.17,388.82 L353.18,389.55 L354.2,390.25 L355.21,390.9 L356.22,391.52 L357.24,392.1 L358.25,392.63 L359.26,393.14 L360.28,393.64 L361.29,394.12 L362.3,394.58 L363.32,395.02 L364.33,395.43 L365.34,395.82 L366.36,396.18 L367.37,396.5 L368.39,396.79 L369.4,397.05 L370.41,397.29 L371.43,397.52 L372.44,397.75 L373.45,397.97 L374.47,398.19 L375.48,398.39 L376.49,398.59 L377.51,398.77 L378.52,398.93 L379.53,399.08 L380.55,399.21 L381.56,399.31 L382.57,399.4 L383.59,399.46 L384.6,399.5" fill="none" stroke="#f39a45" stroke-width="1.05"/><path d="M233.6,250H384.6V400.2H233.6Z" fill="none" stroke="#555" stroke-width="1.3"/><path d="M233.6,400.2v-4.5M242.69,400.2v-2.5M248.01,400.2v-2.5M251.78,400.2v-2.5M254.71,400.2v-2.5M257.1,400.2v-2.5M259.12,400.2v-2.5M260.87,400.2v-2.5M262.42,400.2v-2.5M263.8,400.2v-4.5M272.89,400.2v-2.5M278.21,400.2v-2.5M281.98,400.2v-2.5M284.91,400.2v-2.5M287.3,400.2v-2.5M289.32,400.2v-2.5M291.07,400.2v-2.5M292.62,400.2v-2.5M294,400.2v-4.5M303.09,400.2v-2.5M308.41,400.2v-2.5M312.18,400.2v-2.5M315.11,400.2v-2.5M317.5,400.2v-2.5M319.52,400.2v-2.5M321.27,400.2v-2.5M322.82,400.2v-2.5M324.2,400.2v-4.5M333.29,400.2v-2.5M338.61,400.2v-2.5M342.38,400.2v-2.5M345.31,400.2v-2.5M347.7,400.2v-2.5M349.72,400.2v-2.5M351.47,400.2v-2.5M353.02,400.2v-2.5M354.4,400.2v-4.5M363.49,400.2v-2.5M368.81,400.2v-2.5M372.58,400.2v-2.5M375.51,400.2v-2.5M377.9,400.2v-2.5M379.92,400.2v-2.5M381.67,400.2v-2.5M383.22,400.2v-2.5M384.6,400.2v-4.5" stroke="#555" stroke-width="0.9" fill="none"/><path d="M233.6,400.2h4.5M233.6,375.12h4.5M233.6,350.04h4.5M233.6,324.96h4.5M233.6,299.88h4.5M233.6,274.8h4.5M233.6,249.72h4.5" stroke="#666" stroke-width="1"/><text x="230" y="404.5" class="sf" font-size="12" fill="#333" text-anchor="end">0</text><text x="230" y="379.42" class="sf" font-size="12" fill="#333" text-anchor="end">0.2</text><text x="230" y="354.34" class="sf" font-size="12" fill="#333" text-anchor="end">0.4</text><text x="230" y="329.26" class="sf" font-size="12" fill="#333" text-anchor="end">0.6</text><text x="230" y="304.18" class="sf" font-size="12" fill="#333" text-anchor="end">0.8</text><text x="230" y="279.1" class="sf" font-size="12" fill="#333" text-anchor="end">1.0</text><text x="230" y="254.02" class="sf" font-size="12" fill="#333" text-anchor="end">1.2</text><text x="233.6" y="416.5" class="sf" font-size="11.5" fill="#333" text-anchor="middle">10<tspan font-size="7.5" dy="-5">-2</tspan></text><text x="263.8" y="416.5" class="sf" font-size="11.5" fill="#333" text-anchor="middle">10<tspan font-size="7.5" dy="-5">-1</tspan></text><text x="294" y="416.5" class="sf" font-size="11.5" fill="#333" text-anchor="middle">10<tspan font-size="7.5" dy="-5">0</tspan></text><text x="324.2" y="416.5" class="sf" font-size="11.5" fill="#333" text-anchor="middle">10<tspan font-size="7.5" dy="-5">1</tspan></text><text x="354.4" y="416.5" class="sf" font-size="11.5" fill="#333" text-anchor="middle">10<tspan font-size="7.5" dy="-5">2</tspan></text><text x="384.6" y="416.5" class="sf" font-size="11.5" fill="#333" text-anchor="middle">10<tspan font-size="7.5" dy="-5">3</tspan></text><text x="299" y="429.5" class="sf" font-size="12" font-style="italic" fill="#333">κ<tspan font-size="8" dy="3" font-style="normal">0</tspan><tspan dy="-3">H</tspan></text><text transform="translate(210,350) rotate(-90)" class="sf" font-size="11.5" fill="#333"><tspan font-style="italic">S</tspan><tspan font-size="7.5" dy="3" font-style="italic">ι ω</tspan><tspan dy="-3">/[</tspan><tspan font-style="italic">k</tspan><tspan font-size="7.5" dy="3">B</tspan><tspan dy="-3">/</tspan><tspan font-style="italic">e</tspan>]</text><path d="M313,250V268.6H384.6" fill="none" stroke="#555" stroke-width="1"/><path d="M319.5,259.4H338.6" stroke="#333" stroke-width="1"/><text x="347.3" y="263" class="sf" font-size="10.5" fill="#333"><tspan font-style="italic">v</tspan><tspan font-size="6" dy="2.5">0</tspan><tspan dy="-2.5"> = 0.1</tspan></text><text x="251" y="297.5" class="sf" font-size="12" fill="#333"><tspan font-style="italic">ψ</tspan><tspan font-size="8" dy="3">w</tspan><tspan dy="-3">= 75 mV</tspan></text><text x="315.6" y="309.5" class="sf" font-size="12" fill="#333"><tspan font-style="italic">ψ</tspan><tspan font-size="8" dy="3">w</tspan><tspan dy="-3"> = 125 mV</tspan></text><text x="235.8" y="343" class="sf" font-size="12" fill="#333"><tspan font-style="italic">ψ</tspan><tspan font-size="8" dy="3">w</tspan></text><text x="258.8" y="343" class="sf" font-size="12" fill="#333">15 mV</text><path d="M459.3,385.2 L460.38,385.2 L461.46,385.2 L462.54,385.2 L463.62,385.2 L464.7,385.2 L465.78,385.2 L466.86,385.2 L467.94,385.2 L469.02,385.2 L470.1,385.2 L471.18,385.2 L472.26,385.2 L473.34,385.21 L474.42,385.21 L475.5,385.21 L476.58,385.21 L477.66,385.21 L478.74,385.21 L479.82,385.21 L480.9,385.22 L481.98,385.22 L483.06,385.22 L484.14,385.22 L485.22,385.23 L486.3,385.23 L487.38,385.23 L488.46,385.23 L489.54,385.24 L490.62,385.24 L491.7,385.24 L492.78,385.25 L493.86,385.25 L494.94,385.26 L496.02,385.26 L497.1,385.27 L498.18,385.27 L499.26,385.28 L500.33,385.28 L501.41,385.29 L502.49,385.29 L503.57,385.3 L504.65,385.35 L505.73,385.45 L506.81,385.56 L507.89,385.66 L508.97,385.74 L510.05,385.83 L511.13,385.91 L512.21,386 L513.29,386.1 L514.37,386.22 L515.45,386.35 L516.53,386.52 L517.61,386.75 L518.69,387.03 L519.77,387.36 L520.85,387.71 L521.93,388.07 L523.01,388.44 L524.09,388.8 L525.17,389.2 L526.25,389.63 L527.33,390.08 L528.41,390.53 L529.49,390.98 L530.57,391.41 L531.65,391.82 L532.73,392.21 L533.81,392.59 L534.89,392.96 L535.97,393.32 L537.05,393.67 L538.13,394 L539.21,394.32 L540.29,394.63 L541.37,394.94 L542.45,395.25 L543.53,395.54 L544.61,395.81 L545.69,396.06 L546.77,396.29 L547.85,396.48 L548.93,396.64 L550.01,396.8 L551.09,396.94 L552.17,397.08 L553.25,397.21 L554.33,397.33 L555.41,397.44 L556.49,397.55 L557.57,397.64 L558.65,397.72 L559.73,397.78 L560.81,397.84 L561.89,397.9 L562.97,397.95 L564.05,398 L565.13,398.05 L566.21,398.1 L567.29,398.15 L568.37,398.19 L569.45,398.23 L570.53,398.27 L571.61,398.31 L572.69,398.34 L573.77,398.38 L574.85,398.41 L575.93,398.44 L577.01,398.47 L578.09,398.5 L579.17,398.53 L580.24,398.56 L581.32,398.59 L582.4,398.61 L583.48,398.64 L584.56,398.67 L585.64,398.69 L586.72,398.72 L587.8,398.75 L588.88,398.77 L589.96,398.8 L591.04,398.83 L592.12,398.85 L593.2,398.88 L594.28,398.9 L595.36,398.93 L596.44,398.96 L597.52,398.98 L598.6,399 L599.68,399.03 L600.76,399.05 L601.84,399.08 L602.92,399.1 L604,399.12 L605.08,399.14 L606.16,399.17 L607.24,399.19 L608.32,399.21 L609.4,399.23 L610.48,399.25 L611.56,399.27 L612.64,399.29 L613.72,399.3 L614.8,399.32 L615.88,399.34 L616.96,399.35 L618.04,399.37 L619.12,399.39 L620.2,399.4" fill="none" stroke="#c06aa0" stroke-width="1.05" stroke-dasharray="4,2.5"/><path d="M459.3,370.5 L460.38,370.5 L461.46,370.5 L462.54,370.5 L463.62,370.5 L464.7,370.5 L465.78,370.5 L466.86,370.5 L467.94,370.5 L469.02,370.5 L470.1,370.5 L471.18,370.51 L472.26,370.51 L473.34,370.51 L474.42,370.51 L475.5,370.51 L476.58,370.51 L477.66,370.51 L478.74,370.52 L479.82,370.52 L480.9,370.52 L481.98,370.52 L483.06,370.53 L484.14,370.53 L485.22,370.53 L486.3,370.54 L487.38,370.54 L488.46,370.54 L489.54,370.55 L490.62,370.55 L491.7,370.56 L492.78,370.56 L493.86,370.57 L494.94,370.57 L496.02,370.58 L497.1,370.58 L498.18,370.59 L499.26,370.6 L500.33,370.6 L501.41,370.64 L502.49,370.7 L503.57,370.78 L504.65,370.89 L505.73,371.01 L506.81,371.15 L507.89,371.32 L508.97,371.57 L510.05,371.91 L511.13,372.32 L512.21,372.76 L513.29,373.24 L514.37,373.72 L515.45,374.2 L516.53,374.71 L517.61,375.25 L518.69,375.83 L519.77,376.44 L520.85,377.07 L521.93,377.74 L523.01,378.43 L524.09,379.14 L525.17,379.87 L526.25,380.65 L527.33,381.54 L528.41,382.48 L529.49,383.45 L530.57,384.38 L531.65,385.25 L532.73,386.02 L533.81,386.77 L534.89,387.49 L535.97,388.19 L537.05,388.84 L538.13,389.46 L539.21,390.02 L540.29,390.52 L541.37,391 L542.45,391.45 L543.53,391.87 L544.61,392.28 L545.69,392.66 L546.77,393.02 L547.85,393.36 L548.93,393.69 L550.01,394 L551.09,394.3 L552.17,394.6 L553.25,394.88 L554.33,395.16 L555.41,395.42 L556.49,395.66 L557.57,395.88 L558.65,396.08 L559.73,396.26 L560.81,396.42 L561.89,396.57 L562.97,396.72 L564.05,396.86 L565.13,397 L566.21,397.13 L567.29,397.25 L568.37,397.38 L569.45,397.49 L570.53,397.6 L571.61,397.71 L572.69,397.81 L573.77,397.9 L574.85,397.98 L575.93,398.06 L577.01,398.14 L578.09,398.2 L579.17,398.26 L580.24,398.31 L581.32,398.36 L582.4,398.41 L583.48,398.46 L584.56,398.5 L585.64,398.55 L586.72,398.6 L587.8,398.64 L588.88,398.68 L589.96,398.73 L591.04,398.77 L592.12,398.81 L593.2,398.85 L594.28,398.89 L595.36,398.93 L596.44,398.97 L597.52,399 L598.6,399.04 L599.68,399.07 L600.76,399.1 L601.84,399.13 L602.92,399.16 L604,399.19 L605.08,399.21 L606.16,399.24 L607.24,399.26 L608.32,399.28 L609.4,399.3 L610.48,399.32 L611.56,399.34 L612.64,399.35 L613.72,399.36 L614.8,399.37 L615.88,399.38 L616.96,399.39 L618.04,399.4 L619.12,399.4 L620.2,399.4" fill="none" stroke="#c06aa0" stroke-width="1.05"/><path d="M459.3,327.1 L460.38,327.1 L461.46,327.1 L462.54,327.1 L463.62,327.1 L464.7,327.1 L465.78,327.1 L466.86,327.11 L467.94,327.11 L469.02,327.11 L470.1,327.11 L471.18,327.12 L472.26,327.12 L473.34,327.12 L474.42,327.13 L475.5,327.13 L476.58,327.14 L477.66,327.14 L478.74,327.15 L479.82,327.15 L480.9,327.16 L481.98,327.17 L483.06,327.17 L484.14,327.18 L485.22,327.19 L486.3,327.2 L487.38,327.21 L488.46,327.22 L489.54,327.23 L490.62,327.24 L491.7,327.25 L492.78,327.27 L493.86,327.28 L494.94,327.29 L496.02,327.32 L497.1,327.38 L498.18,327.49 L499.26,327.63 L500.33,327.81 L501.41,328.02 L502.49,328.26 L503.57,328.52 L504.65,328.91 L505.73,329.5 L506.81,330.24 L507.89,331.09 L508.97,332 L510.05,332.94 L511.13,333.86 L512.21,334.78 L513.29,335.75 L514.37,336.78 L515.45,337.86 L516.53,338.96 L517.61,340.09 L518.69,341.23 L519.77,342.37 L520.85,343.51 L521.93,344.67 L523.01,345.85 L524.09,347.05 L525.17,348.27 L526.25,349.52 L527.33,350.79 L528.41,352.11 L529.49,353.49 L530.57,354.92 L531.65,356.38 L532.73,357.84 L533.81,359.27 L534.89,360.64 L535.97,361.97 L537.05,363.28 L538.13,364.57 L539.21,365.85 L540.29,367.1 L541.37,368.32 L542.45,369.53 L543.53,370.7 L544.61,371.86 L545.69,372.99 L546.77,374.11 L547.85,375.2 L548.93,376.28 L550.01,377.34 L551.09,378.38 L552.17,379.42 L553.25,380.46 L554.33,381.48 L555.41,382.48 L556.49,383.44 L557.57,384.37 L558.65,385.23 L559.73,386.04 L560.81,386.83 L561.89,387.59 L562.97,388.31 L564.05,389.01 L565.13,389.66 L566.21,390.27 L567.29,390.84 L568.37,391.38 L569.45,391.89 L570.53,392.38 L571.61,392.84 L572.69,393.28 L573.77,393.68 L574.85,394.05 L575.93,394.4 L577.01,394.72 L578.09,395.04 L579.17,395.33 L580.24,395.6 L581.32,395.86 L582.4,396.09 L583.48,396.3 L584.56,396.49 L585.64,396.68 L586.72,396.86 L587.8,397.04 L588.88,397.21 L589.96,397.38 L591.04,397.54 L592.12,397.69 L593.2,397.83 L594.28,397.96 L595.36,398.08 L596.44,398.2 L597.52,398.3 L598.6,398.4 L599.68,398.48 L600.76,398.55 L601.84,398.62 L602.92,398.7 L604,398.77 L605.08,398.84 L606.16,398.9 L607.24,398.97 L608.32,399.03 L609.4,399.09 L610.48,399.14 L611.56,399.19 L612.64,399.24 L613.72,399.28 L614.8,399.31 L615.88,399.34 L616.96,399.37 L618.04,399.39 L619.12,399.4 L620.2,399.4" fill="none" stroke="#1eaee5" stroke-width="1.05" stroke-dasharray="4,2.5"/><path d="M459.3,299.7 L460.38,299.7 L461.46,299.7 L462.54,299.7 L463.62,299.7 L464.7,299.7 L465.78,299.71 L466.86,299.71 L467.94,299.71 L469.02,299.71 L470.1,299.72 L471.18,299.72 L472.26,299.72 L473.34,299.73 L474.42,299.73 L475.5,299.74 L476.58,299.74 L477.66,299.75 L478.74,299.76 L479.82,299.76 L480.9,299.77 L481.98,299.78 L483.06,299.78 L484.14,299.79 L485.22,299.8 L486.3,299.82 L487.38,299.86 L488.46,299.9 L489.54,299.97 L490.62,300.04 L491.7,300.12 L492.78,300.21 L493.86,300.31 L494.94,300.42 L496.02,300.54 L497.1,300.7 L498.18,300.91 L499.26,301.16 L500.33,301.46 L501.41,301.78 L502.49,302.13 L503.57,302.5 L504.65,302.88 L505.73,303.27 L506.81,303.7 L507.89,304.17 L508.97,304.68 L510.05,305.23 L511.13,305.81 L512.21,306.44 L513.29,307.1 L514.37,307.8 L515.45,308.54 L516.53,309.33 L517.61,310.24 L518.69,311.28 L519.77,312.41 L520.85,313.59 L521.93,314.81 L523.01,316.01 L524.09,317.19 L525.17,318.37 L526.25,319.59 L527.33,320.88 L528.41,322.28 L529.49,323.83 L530.57,325.62 L531.65,327.7 L532.73,329.97 L533.81,332.35 L534.89,334.76 L535.97,337.22 L537.05,339.83 L538.13,342.5 L539.21,345.14 L540.29,347.67 L541.37,350.14 L542.45,352.59 L543.53,354.96 L544.61,357.22 L545.69,359.35 L546.77,361.39 L547.85,363.36 L548.93,365.25 L550.01,367.07 L551.09,368.8 L552.17,370.48 L553.25,372.11 L554.33,373.69 L555.41,375.21 L556.49,376.64 L557.57,377.99 L558.65,379.25 L559.73,380.48 L560.81,381.67 L561.89,382.83 L562.97,383.92 L564.05,384.95 L565.13,385.91 L566.21,386.78 L567.29,387.56 L568.37,388.28 L569.45,388.97 L570.53,389.62 L571.61,390.25 L572.69,390.85 L573.77,391.41 L574.85,391.94 L575.93,392.44 L577.01,392.9 L578.09,393.33 L579.17,393.72 L580.24,394.08 L581.32,394.41 L582.4,394.74 L583.48,395.05 L584.56,395.35 L585.64,395.63 L586.72,395.9 L587.8,396.16 L588.88,396.39 L589.96,396.61 L591.04,396.81 L592.12,396.99 L593.2,397.16 L594.28,397.3 L595.36,397.43 L596.44,397.56 L597.52,397.69 L598.6,397.81 L599.68,397.93 L600.76,398.05 L601.84,398.17 L602.92,398.28 L604,398.39 L605.08,398.5 L606.16,398.6 L607.24,398.69 L608.32,398.78 L609.4,398.87 L610.48,398.94 L611.56,399.01 L612.64,399.08 L613.72,399.13 L614.8,399.18 L615.88,399.22 L616.96,399.26 L618.04,399.28 L619.12,399.3 L620.2,399.3" fill="none" stroke="#1eaee5" stroke-width="1.05"/><path d="M459.3,279.1 L460.38,279.11 L461.46,279.14 L462.54,279.18 L463.62,279.23 L464.7,279.28 L465.78,279.35 L466.86,279.43 L467.94,279.51 L469.02,279.6 L470.1,279.69 L471.18,279.79 L472.26,279.89 L473.34,279.99 L474.42,280.1 L475.5,280.21 L476.58,280.33 L477.66,280.46 L478.74,280.61 L479.82,280.78 L480.9,280.97 L481.98,281.18 L483.06,281.4 L484.14,281.65 L485.22,281.96 L486.3,282.32 L487.38,282.73 L488.46,283.16 L489.54,283.6 L490.62,284.07 L491.7,284.57 L492.78,285.12 L493.86,285.71 L494.94,286.34 L496.02,287.02 L497.1,287.75 L498.18,288.54 L499.26,289.37 L500.33,290.24 L501.41,291.18 L502.49,292.17 L503.57,293.21 L504.65,294.29 L505.73,295.38 L506.81,296.49 L507.89,297.61 L508.97,298.78 L510.05,299.99 L511.13,301.23 L512.21,302.46 L513.29,303.68 L514.37,304.85 L515.45,305.95 L516.53,307.01 L517.61,308.02 L518.69,309.01 L519.77,309.99 L520.85,310.95 L521.93,311.92 L523.01,312.9 L524.09,313.9 L525.17,314.92 L526.25,315.97 L527.33,317.02 L528.41,318.07 L529.49,319.12 L530.57,320.16 L531.65,321.18 L532.73,322.16 L533.81,323.08 L534.89,323.97 L535.97,324.84 L537.05,325.74 L538.13,326.67 L539.21,327.68 L540.29,328.77 L541.37,330 L542.45,331.39 L543.53,332.89 L544.61,334.46 L545.69,336.04 L546.77,337.64 L547.85,339.31 L548.93,341.04 L550.01,342.8 L551.09,344.59 L552.17,346.38 L553.25,348.16 L554.33,349.92 L555.41,351.63 L556.49,353.28 L557.57,354.89 L558.65,356.48 L559.73,358.04 L560.81,359.58 L561.89,361.11 L562.97,362.62 L564.05,364.13 L565.13,365.63 L566.21,367.12 L567.29,368.62 L568.37,370.15 L569.45,371.72 L570.53,373.3 L571.61,374.85 L572.69,376.34 L573.77,377.74 L574.85,379.01 L575.93,380.14 L577.01,381.2 L578.09,382.2 L579.17,383.14 L580.24,384.04 L581.32,384.89 L582.4,385.7 L583.48,386.49 L584.56,387.26 L585.64,388.01 L586.72,388.74 L587.8,389.43 L588.88,390.09 L589.96,390.69 L591.04,391.24 L592.12,391.73 L593.2,392.19 L594.28,392.63 L595.36,393.04 L596.44,393.44 L597.52,393.82 L598.6,394.18 L599.68,394.52 L600.76,394.85 L601.84,395.16 L602.92,395.46 L604,395.75 L605.08,396.02 L606.16,396.29 L607.24,396.55 L608.32,396.8 L609.4,397.05 L610.48,397.29 L611.56,397.52 L612.64,397.75 L613.72,397.96 L614.8,398.16 L615.88,398.36 L616.96,398.54 L618.04,398.7 L619.12,398.86 L620.2,399" fill="none" stroke="#f39a45" stroke-width="1.05" stroke-dasharray="4,2.5"/><path d="M459.3,250.2 L460.38,250.2 L461.46,250.2 L462.54,250.2 L463.62,250.2 L464.7,250.21 L465.78,250.21 L466.86,250.21 L467.94,250.22 L469.02,250.23 L470.1,250.23 L471.18,250.24 L472.26,250.25 L473.34,250.25 L474.42,250.26 L475.5,250.27 L476.58,250.28 L477.66,250.3 L478.74,250.31 L479.82,250.32 L480.9,250.34 L481.98,250.35 L483.06,250.37 L484.14,250.39 L485.22,250.4 L486.3,250.44 L487.38,250.51 L488.46,250.61 L489.54,250.72 L490.62,250.85 L491.7,251 L492.78,251.19 L493.86,251.47 L494.94,251.81 L496.02,252.21 L497.1,252.65 L498.18,253.12 L499.26,253.62 L500.33,254.18 L501.41,254.81 L502.49,255.53 L503.57,256.33 L504.65,257.2 L505.73,258.15 L506.81,259.23 L507.89,260.52 L508.97,261.98 L510.05,263.55 L511.13,265.21 L512.21,267.04 L513.29,269.07 L514.37,271.21 L515.45,273.35 L516.53,275.42 L517.61,277.46 L518.69,279.52 L519.77,281.59 L520.85,283.71 L521.93,285.89 L523.01,288.14 L524.09,290.42 L525.17,292.69 L526.25,294.9 L527.33,297.05 L528.41,299.17 L529.49,301.25 L530.57,303.33 L531.65,305.4 L532.73,307.48 L533.81,309.56 L534.89,311.63 L535.97,313.7 L537.05,315.76 L538.13,317.84 L539.21,319.94 L540.29,322.08 L541.37,324.26 L542.45,326.48 L543.53,328.72 L544.61,330.99 L545.69,333.26 L546.77,335.52 L547.85,337.78 L548.93,340.06 L550.01,342.36 L551.09,344.64 L552.17,346.89 L553.25,349.1 L554.33,351.25 L555.41,353.39 L556.49,355.5 L557.57,357.57 L558.65,359.58 L559.73,361.52 L560.81,363.4 L561.89,365.26 L562.97,367.07 L564.05,368.84 L565.13,370.53 L566.21,372.12 L567.29,373.62 L568.37,375.03 L569.45,376.39 L570.53,377.71 L571.61,378.97 L572.69,380.17 L573.77,381.32 L574.85,382.4 L575.93,383.43 L577.01,384.42 L578.09,385.38 L579.17,386.32 L580.24,387.23 L581.32,388.09 L582.4,388.91 L583.48,389.67 L584.56,390.37 L585.64,391 L586.72,391.57 L587.8,392.1 L588.88,392.62 L589.96,393.12 L591.04,393.6 L592.12,394.05 L593.2,394.47 L594.28,394.88 L595.36,395.25 L596.44,395.59 L597.52,395.91 L598.6,396.19 L599.68,396.43 L600.76,396.65 L601.84,396.87 L602.92,397.09 L604,397.3 L605.08,397.51 L606.16,397.71 L607.24,397.9 L608.32,398.08 L609.4,398.26 L610.48,398.42 L611.56,398.57 L612.64,398.71 L613.72,398.83 L614.8,398.94 L615.88,399.03 L616.96,399.1 L618.04,399.16 L619.12,399.19 L620.2,399.2" fill="none" stroke="#f39a45" stroke-width="1.05"/><circle cx="459.1" cy="279.1" r="3" fill="none" stroke="#f39a45" stroke-width="1"/><circle cx="467.6" cy="279.7" r="3" fill="none" stroke="#f39a45" stroke-width="1"/><circle cx="475.4" cy="280.3" r="3" fill="none" stroke="#f39a45" stroke-width="1"/><circle cx="483.5" cy="281.8" r="3" fill="none" stroke="#f39a45" stroke-width="1"/><circle cx="487.6" cy="282.8" r="3" fill="none" stroke="#f39a45" stroke-width="1"/><circle cx="494.7" cy="286.4" r="3" fill="none" stroke="#f39a45" stroke-width="1"/><circle cx="499.8" cy="289.3" r="3" fill="none" stroke="#f39a45" stroke-width="1"/><circle cx="507.5" cy="297.4" r="3" fill="none" stroke="#f39a45" stroke-width="1"/><circle cx="515.1" cy="306.2" r="3" fill="none" stroke="#f39a45" stroke-width="1"/><circle cx="524.2" cy="311.7" r="3" fill="none" stroke="#f39a45" stroke-width="1"/><circle cx="527.9" cy="315" r="3" fill="none" stroke="#f39a45" stroke-width="1"/><circle cx="532" cy="318.4" r="3" fill="none" stroke="#f39a45" stroke-width="1"/><circle cx="540.5" cy="326.6" r="3" fill="none" stroke="#f39a45" stroke-width="1"/><circle cx="542.7" cy="332.1" r="3" fill="none" stroke="#f39a45" stroke-width="1"/><circle cx="546" cy="338.9" r="3" fill="none" stroke="#f39a45" stroke-width="1"/><circle cx="556.3" cy="352.5" r="3" fill="none" stroke="#f39a45" stroke-width="1"/><circle cx="559" cy="359.3" r="3" fill="none" stroke="#f39a45" stroke-width="1"/><circle cx="567.2" cy="368.8" r="3" fill="none" stroke="#f39a45" stroke-width="1"/><circle cx="575.3" cy="381" r="3" fill="none" stroke="#f39a45" stroke-width="1"/><circle cx="583.5" cy="386.5" r="3" fill="none" stroke="#f39a45" stroke-width="1"/><circle cx="591.6" cy="392.7" r="3" fill="none" stroke="#f39a45" stroke-width="1"/><circle cx="459.3" cy="327.1" r="3" fill="none" stroke="#1eaee5" stroke-width="1"/><circle cx="467.5" cy="327.1" r="3" fill="none" stroke="#1eaee5" stroke-width="1"/><circle cx="479.7" cy="327.1" r="3" fill="none" stroke="#1eaee5" stroke-width="1"/><circle cx="487.9" cy="327.1" r="3" fill="none" stroke="#1eaee5" stroke-width="1"/><circle cx="495.4" cy="327.1" r="3" fill="none" stroke="#1eaee5" stroke-width="1"/><circle cx="503.5" cy="327.1" r="3" fill="none" stroke="#1eaee5" stroke-width="1"/><circle cx="511.3" cy="335.3" r="3" fill="none" stroke="#1eaee5" stroke-width="1"/><circle cx="519.8" cy="342.4" r="3" fill="none" stroke="#1eaee5" stroke-width="1"/><circle cx="528" cy="351.6" r="3" fill="none" stroke="#1eaee5" stroke-width="1"/><circle cx="534.7" cy="360.7" r="3" fill="none" stroke="#1eaee5" stroke-width="1"/><circle cx="542.7" cy="370.2" r="3" fill="none" stroke="#1eaee5" stroke-width="1"/><circle cx="550.9" cy="378.3" r="3" fill="none" stroke="#1eaee5" stroke-width="1"/><circle cx="559" cy="386.5" r="3" fill="none" stroke="#1eaee5" stroke-width="1"/><circle cx="567.2" cy="392.7" r="3" fill="none" stroke="#1eaee5" stroke-width="1"/><circle cx="575.3" cy="395.4" r="3" fill="none" stroke="#1eaee5" stroke-width="1"/><circle cx="583.5" cy="397.3" r="3" fill="none" stroke="#1eaee5" stroke-width="1"/><circle cx="459.3" cy="385.2" r="3" fill="none" stroke="#c06aa0" stroke-width="1"/><circle cx="463.4" cy="385.2" r="3" fill="none" stroke="#c06aa0" stroke-width="1"/><circle cx="471" cy="385.2" r="3" fill="none" stroke="#c06aa0" stroke-width="1"/><circle cx="475.6" cy="385.2" r="3" fill="none" stroke="#c06aa0" stroke-width="1"/><circle cx="479.7" cy="385.2" r="3" fill="none" stroke="#c06aa0" stroke-width="1"/><circle cx="487.9" cy="385.2" r="3" fill="none" stroke="#c06aa0" stroke-width="1"/><circle cx="496" cy="385.2" r="3" fill="none" stroke="#c06aa0" stroke-width="1"/><circle cx="503.5" cy="385.2" r="3" fill="none" stroke="#c06aa0" stroke-width="1"/><circle cx="507.2" cy="385.2" r="3" fill="none" stroke="#c06aa0" stroke-width="1"/><circle cx="515.8" cy="386.2" r="3" fill="none" stroke="#c06aa0" stroke-width="1"/><circle cx="523.5" cy="388.8" r="3" fill="none" stroke="#c06aa0" stroke-width="1"/><circle cx="531.6" cy="392.3" r="3" fill="none" stroke="#c06aa0" stroke-width="1"/><circle cx="538.8" cy="395" r="3" fill="none" stroke="#c06aa0" stroke-width="1"/><circle cx="548" cy="396.8" r="3" fill="none" stroke="#c06aa0" stroke-width="1"/><circle cx="556" cy="397.3" r="3" fill="none" stroke="#c06aa0" stroke-width="1"/><circle cx="564" cy="397.6" r="3" fill="none" stroke="#c06aa0" stroke-width="1"/><circle cx="572" cy="398" r="3" fill="none" stroke="#c06aa0" stroke-width="1"/><circle cx="580" cy="398" r="3" fill="none" stroke="#c06aa0" stroke-width="1"/><circle cx="588" cy="398.2" r="3" fill="none" stroke="#c06aa0" stroke-width="1"/><path d="M459.3,244.4H620.2V404H459.3Z" fill="none" stroke="#555" stroke-width="1.3"/><path d="M459.3,404v-4.5M468.99,404v-2.5M474.65,404v-2.5M478.67,404v-2.5M481.79,404v-2.5M484.34,404v-2.5M486.5,404v-2.5M488.36,404v-2.5M490.01,404v-2.5M491.48,404v-4.5M501.17,404v-2.5M506.83,404v-2.5M510.85,404v-2.5M513.97,404v-2.5M516.52,404v-2.5M518.68,404v-2.5M520.54,404v-2.5M522.19,404v-2.5M523.66,404v-4.5M533.35,404v-2.5M539.01,404v-2.5M543.03,404v-2.5M546.15,404v-2.5M548.7,404v-2.5M550.86,404v-2.5M552.72,404v-2.5M554.37,404v-2.5M555.84,404v-4.5M565.53,404v-2.5M571.19,404v-2.5M575.21,404v-2.5M578.33,404v-2.5M580.88,404v-2.5M583.04,404v-2.5M584.9,404v-2.5M586.55,404v-2.5M588.02,404v-4.5M597.71,404v-2.5M603.37,404v-2.5M607.39,404v-2.5M610.51,404v-2.5M613.06,404v-2.5M615.22,404v-2.5M617.08,404v-2.5M618.73,404v-2.5M620.2,404v-4.5" stroke="#555" stroke-width="0.9" fill="none"/><path d="M459.3,399.5h4.5M459.3,374.53h4.5M459.3,349.56h4.5M459.3,324.59h4.5M459.3,299.62h4.5M459.3,274.65h4.5M459.3,249.68h4.5" stroke="#555" stroke-width="1"/><text x="452" y="404" class="sf" font-size="12.5" fill="#333" text-anchor="middle">0</text><text x="452" y="379.03" class="sf" font-size="12.5" fill="#333" text-anchor="middle">1</text><text x="452" y="354.06" class="sf" font-size="12.5" fill="#333" text-anchor="middle">2</text><text x="452" y="329.09" class="sf" font-size="12.5" fill="#333" text-anchor="middle">3</text><text x="452" y="304.12" class="sf" font-size="12.5" fill="#333" text-anchor="middle">4</text><text x="452" y="279.15" class="sf" font-size="12.5" fill="#333" text-anchor="middle">5</text><text x="452" y="254.18" class="sf" font-size="12.5" fill="#333" text-anchor="middle">6</text><text x="459.3" y="422.5" class="sf" font-size="12" fill="#333" text-anchor="middle">10<tspan font-size="8" dy="-5">-2</tspan></text><text x="491.48" y="422.5" class="sf" font-size="12" fill="#333" text-anchor="middle">10<tspan font-size="8" dy="-5">-1</tspan></text><text x="523.66" y="422.5" class="sf" font-size="12" fill="#333" text-anchor="middle">10<tspan font-size="8" dy="-5">0</tspan></text><text x="555.84" y="422.5" class="sf" font-size="12" fill="#333" text-anchor="middle">10<tspan font-size="8" dy="-5">1</tspan></text><text x="588.02" y="422.5" class="sf" font-size="12" fill="#333" text-anchor="middle">10<tspan font-size="8" dy="-5">2</tspan></text><text x="620.2" y="422.5" class="sf" font-size="12" fill="#333" text-anchor="middle">10<tspan font-size="8" dy="-5">3</tspan></text><text x="533.7" y="435" class="sf" font-size="12.5" font-style="italic" fill="#333">κ<tspan font-size="8" dy="3" font-style="normal">0</tspan><tspan dy="-3">H</tspan></text><text transform="translate(441.8,364) rotate(-90)" class="sf" font-size="11" fill="#333">塞贝克系数/ [<tspan font-style="italic">k</tspan><tspan font-size="7" dy="3">B</tspan><tspan dy="-3">/</tspan><tspan font-style="italic">e</tspan>]</text><text x="509.6" y="239" class="sf" font-size="11.2" fill="#222" textLength="93.5" lengthAdjust="spacingAndGlyphs">Dietzel &amp; Hardt 2016</text><text x="606.5" y="235" class="sf" font-size="7" fill="#333">[10]</text><path d="M544.4,244.4V293.4H620.2" fill="none" stroke="#555" stroke-width="1"/><text x="583.5" y="259" class="sf" font-size="11" fill="#333" text-anchor="middle">本文结果</text><path d="M551,269.8H572" stroke="#333" stroke-width="1.1" stroke-dasharray="5,3"/><path d="M551,284H571" stroke="#333" stroke-width="1.1"/><text x="579.7" y="274" class="sf" font-size="11.5" fill="#333"><tspan font-style="italic">v</tspan><tspan font-size="7" dy="3">0</tspan><tspan dy="-3"> = 0</tspan></text><text x="579.7" y="288.3" class="sf" font-size="11.5" fill="#333"><tspan font-style="italic">v</tspan><tspan font-size="7" dy="3">0</tspan><tspan dy="-3"> = 0.1</tspan></text><text x="461.1" y="318.5" class="sf" font-size="12" fill="#333"><tspan font-style="italic">ψ</tspan><tspan font-size="8" dy="3">w</tspan><tspan dy="-3"> = 75 mV</tspan></text><text x="553.6" y="343" class="sf" font-size="12" fill="#333"><tspan font-style="italic">ψ</tspan><tspan font-size="8" dy="3">w</tspan><tspan dy="-3"> = 125 mV</tspan></text><text x="467.5" y="361.3" class="sf" font-size="12" fill="#333"><tspan font-style="italic">ψ</tspan><tspan font-size="8" dy="3">w</tspan><tspan dy="-3"> = 15 mV</tspan></text><path d="M488.6,301.1L491.7,308.2M491.7,319.4L489.6,327.6M485.2,365.8L484.4,369.9M496.6,365.8L499.5,384.2" stroke="#333" stroke-width="0.8"/><defs><linearGradient id="h0" x1="0" x2="1" y1="0" y2="0"><stop offset="0" stop-color="#b0e0b6"/><stop offset="0.2" stop-color="#c6e9b4"/><stop offset="0.31" stop-color="#c9eab4"/><stop offset="0.38" stop-color="#c6e9b4"/><stop offset="0.44" stop-color="#b9e4b5"/><stop offset="0.5" stop-color="#b4e2b6"/><stop offset="0.6" stop-color="#cfecb3"/><stop offset="0.8" stop-color="#edf8b1"/><stop offset="1" stop-color="#f4fbc1"/></linearGradient><linearGradient id="h1" x1="0" x2="1" y1="0" y2="0"><stop offset="0" stop-color="#aedfb6"/><stop offset="0.2" stop-color="#c4e8b4"/><stop offset="0.31" stop-color="#c9eab4"/><stop offset="0.38" stop-color="#c2e7b4"/><stop offset="0.44" stop-color="#b7e3b6"/><stop offset="0.5" stop-color="#b0e0b6"/><stop offset="0.6" stop-color="#cdebb4"/><stop offset="0.8" stop-color="#eaf7b1"/><stop offset="1" stop-color="#f4fbc0"/></linearGradient><linearGradient id="h2" x1="0" x2="1" y1="0" y2="0"><stop offset="0" stop-color="#aedfb6"/><stop offset="0.2" stop-color="#c2e7b4"/><stop offset="0.31" stop-color="#c8e9b4"/><stop offset="0.38" stop-color="#c0e6b5"/><stop offset="0.44" stop-color="#b2e1b6"/><stop offset="0.5" stop-color="#abdeb7"/><stop offset="0.6" stop-color="#c9eab4"/><stop offset="0.8" stop-color="#e8f6b1"/><stop offset="1" stop-color="#f3fabd"/></linearGradient><linearGradient id="h3" x1="0" x2="1" y1="0" y2="0"><stop offset="0" stop-color="#abdeb7"/><stop offset="0.2" stop-color="#c0e6b5"/><stop offset="0.31" stop-color="#c6e9b4"/><stop offset="0.38" stop-color="#bde5b5"/><stop offset="0.44" stop-color="#b0e0b6"/><stop offset="0.5" stop-color="#a7dcb7"/><stop offset="0.6" stop-color="#c6e9b4"/><stop offset="0.8" stop-color="#e6f5b2"/><stop offset="1" stop-color="#f1fabb"/></linearGradient><linearGradient id="h4" x1="0" x2="1" y1="0" y2="0"><stop offset="0" stop-color="#a9ddb7"/><stop offset="0.2" stop-color="#bde5b5"/><stop offset="0.31" stop-color="#c4e8b4"/><stop offset="0.38" stop-color="#bbe4b5"/><stop offset="0.44" stop-color="#abdeb7"/><stop offset="0.5" stop-color="#a2dbb8"/><stop offset="0.6" stop-color="#c2e7b4"/><stop offset="0.8" stop-color="#e3f4b2"/><stop offset="1" stop-color="#f0f9b8"/></linearGradient><linearGradient id="h5" x1="0" x2="1" y1="0" y2="0"><stop offset="0" stop-color="#a9ddb7"/><stop offset="0.2" stop-color="#bbe4b5"/><stop offset="0.31" stop-color="#c2e7b4"/><stop offset="0.38" stop-color="#b7e3b6"/><stop offset="0.44" stop-color="#a9ddb7"/><stop offset="0.5" stop-color="#9ed9b8"/><stop offset="0.6" stop-color="#bde5b5"/><stop offset="0.8" stop-color="#e1f3b2"/><stop offset="1" stop-color="#eff9b6"/></linearGradient><linearGradient id="h6" x1="0" x2="1" y1="0" y2="0"><stop offset="0" stop-color="#a7dcb7"/><stop offset="0.2" stop-color="#b9e4b5"/><stop offset="0.31" stop-color="#c0e6b5"/><stop offset="0.38" stop-color="#b4e2b6"/><stop offset="0.44" stop-color="#a5dcb7"/><stop offset="0.5" stop-color="#99d7b8"/><stop offset="0.6" stop-color="#b9e4b5"/><stop offset="0.8" stop-color="#ddf2b2"/><stop offset="1" stop-color="#eef8b3"/></linearGradient><linearGradient id="h7" x1="0" x2="1" y1="0" y2="0"><stop offset="0" stop-color="#a7dcb7"/><stop offset="0.2" stop-color="#b7e3b6"/><stop offset="0.31" stop-color="#bde5b5"/><stop offset="0.38" stop-color="#b2e1b6"/><stop offset="0.44" stop-color="#a2dbb8"/><stop offset="0.5" stop-color="#97d6b9"/><stop offset="0.6" stop-color="#b4e2b6"/><stop offset="0.8" stop-color="#dbf1b2"/><stop offset="1" stop-color="#edf8b1"/></linearGradient><linearGradient id="h8" x1="0" x2="1" y1="0" y2="0"><stop offset="0" stop-color="#a5dcb7"/><stop offset="0.2" stop-color="#b4e2b6"/><stop offset="0.31" stop-color="#bbe4b5"/><stop offset="0.38" stop-color="#b0e0b6"/><stop offset="0.44" stop-color="#9ed9b8"/><stop offset="0.5" stop-color="#90d4b9"/><stop offset="0.6" stop-color="#aedfb6"/><stop offset="0.8" stop-color="#d9f0b3"/><stop offset="1" stop-color="#eaf7b1"/></linearGradient><linearGradient id="h9" x1="0" x2="1" y1="0" y2="0"><stop offset="0" stop-color="#a2dbb8"/><stop offset="0.2" stop-color="#b4e2b6"/><stop offset="0.31" stop-color="#b9e4b5"/><stop offset="0.38" stop-color="#abdeb7"/><stop offset="0.44" stop-color="#99d7b8"/><stop offset="0.5" stop-color="#8cd2ba"/><stop offset="0.6" stop-color="#a9ddb7"/><stop offset="0.8" stop-color="#d5efb3"/><stop offset="1" stop-color="#e6f5b2"/></linearGradient><linearGradient id="h10" x1="0" x2="1" y1="0" y2="0"><stop offset="0" stop-color="#a0dab8"/><stop offset="0.2" stop-color="#b2e1b6"/><stop offset="0.31" stop-color="#b4e2b6"/><stop offset="0.38" stop-color="#a9ddb7"/><stop offset="0.44" stop-color="#92d5b9"/><stop offset="0.5" stop-color="#87d0ba"/><stop offset="0.6" stop-color="#a2dbb8"/><stop offset="0.8" stop-color="#d1edb3"/><stop offset="1" stop-color="#e2f4b2"/></linearGradient><linearGradient id="h11" x1="0" x2="1" y1="0" y2="0"><stop offset="0" stop-color="#9ed9b8"/><stop offset="0.2" stop-color="#b0e0b6"/><stop offset="0.31" stop-color="#b2e1b6"/><stop offset="0.38" stop-color="#a5dcb7"/><stop offset="0.44" stop-color="#8ed3ba"/><stop offset="0.5" stop-color="#80cebb"/><stop offset="0.6" stop-color="#9ed9b8"/><stop offset="0.8" stop-color="#ceecb3"/><stop offset="1" stop-color="#dff2b2"/></linearGradient><linearGradient id="h12" x1="0" x2="1" y1="0" y2="0"><stop offset="0" stop-color="#9cd8b8"/><stop offset="0.2" stop-color="#aedfb6"/><stop offset="0.31" stop-color="#b0e0b6"/><stop offset="0.38" stop-color="#a0dab8"/><stop offset="0.44" stop-color="#89d1ba"/><stop offset="0.5" stop-color="#7cccbb"/><stop offset="0.6" stop-color="#97d6b9"/><stop offset="0.8" stop-color="#cbebb4"/><stop offset="1" stop-color="#daf0b3"/></linearGradient><linearGradient id="h13" x1="0" x2="1" y1="0" y2="0"><stop offset="0" stop-color="#99d7b8"/><stop offset="0.2" stop-color="#abdeb7"/><stop offset="0.31" stop-color="#aedfb6"/><stop offset="0.38" stop-color="#9ed9b8"/><stop offset="0.44" stop-color="#85cfba"/><stop offset="0.5" stop-color="#76cabc"/><stop offset="0.6" stop-color="#92d5b9"/><stop offset="0.8" stop-color="#c8e9b4"/><stop offset="1" stop-color="#d6efb3"/></linearGradient><linearGradient id="h14" x1="0" x2="1" y1="0" y2="0"><stop offset="0" stop-color="#97d6b9"/><stop offset="0.2" stop-color="#a9ddb7"/><stop offset="0.31" stop-color="#a9ddb7"/><stop offset="0.38" stop-color="#99d7b8"/><stop offset="0.44" stop-color="#80cebb"/><stop offset="0.5" stop-color="#73c8bd"/><stop offset="0.6" stop-color="#8cd2ba"/><stop offset="0.8" stop-color="#c2e7b4"/><stop offset="1" stop-color="#d1edb3"/></linearGradient><linearGradient id="h15" x1="0" x2="1" y1="0" y2="0"><stop offset="0" stop-color="#95d5b9"/><stop offset="0.2" stop-color="#a7dcb7"/><stop offset="0.31" stop-color="#a7dcb7"/><stop offset="0.38" stop-color="#97d6b9"/><stop offset="0.44" stop-color="#7cccbb"/><stop offset="0.5" stop-color="#6dc6be"/><stop offset="0.6" stop-color="#87d0ba"/><stop offset="0.8" stop-color="#bbe4b5"/><stop offset="1" stop-color="#ceecb3"/></linearGradient><linearGradient id="h16" x1="0" x2="1" y1="0" y2="0"><stop offset="0" stop-color="#92d5b9"/><stop offset="0.2" stop-color="#a5dcb7"/><stop offset="0.31" stop-color="#a5dcb7"/><stop offset="0.38" stop-color="#92d5b9"/><stop offset="0.44" stop-color="#76cabc"/><stop offset="0.5" stop-color="#69c5be"/><stop offset="0.6" stop-color="#80cebb"/><stop offset="0.8" stop-color="#b4e2b6"/><stop offset="1" stop-color="#caeab4"/></linearGradient><linearGradient id="h17" x1="0" x2="1" y1="0" y2="0"><stop offset="0" stop-color="#90d4b9"/><stop offset="0.2" stop-color="#a2dbb8"/><stop offset="0.31" stop-color="#a0dab8"/><stop offset="0.38" stop-color="#8ed3ba"/><stop offset="0.44" stop-color="#73c8bd"/><stop offset="0.5" stop-color="#61c2bf"/><stop offset="0.6" stop-color="#7cccbb"/><stop offset="0.8" stop-color="#aedfb6"/><stop offset="1" stop-color="#c4e8b4"/></linearGradient><linearGradient id="h18" x1="0" x2="1" y1="0" y2="0"><stop offset="0" stop-color="#8ed3ba"/><stop offset="0.2" stop-color="#a0dab8"/><stop offset="0.31" stop-color="#9ed9b8"/><stop offset="0.38" stop-color="#89d1ba"/><stop offset="0.44" stop-color="#6dc6be"/><stop offset="0.5" stop-color="#5bc0c0"/><stop offset="0.6" stop-color="#76cabc"/><stop offset="0.8" stop-color="#a7dcb7"/><stop offset="1" stop-color="#b9e4b5"/></linearGradient><linearGradient id="h19" x1="0" x2="1" y1="0" y2="0"><stop offset="0" stop-color="#8cd2ba"/><stop offset="0.2" stop-color="#9cd8b8"/><stop offset="0.31" stop-color="#99d7b8"/><stop offset="0.38" stop-color="#85cfba"/><stop offset="0.44" stop-color="#67c4be"/><stop offset="0.5" stop-color="#55bec1"/><stop offset="0.6" stop-color="#71c8bd"/><stop offset="0.8" stop-color="#9ed9b8"/><stop offset="1" stop-color="#b0e0b6"/></linearGradient><linearGradient id="h20" x1="0" x2="1" y1="0" y2="0"><stop offset="0" stop-color="#87d0ba"/><stop offset="0.2" stop-color="#99d7b8"/><stop offset="0.31" stop-color="#97d6b9"/><stop offset="0.38" stop-color="#80cebb"/><stop offset="0.44" stop-color="#61c2bf"/><stop offset="0.5" stop-color="#50bbc2"/><stop offset="0.6" stop-color="#6bc6be"/><stop offset="0.8" stop-color="#97d6b9"/><stop offset="1" stop-color="#a7dcb7"/></linearGradient><linearGradient id="h21" x1="0" x2="1" y1="0" y2="0"><stop offset="0" stop-color="#85cfba"/><stop offset="0.2" stop-color="#97d6b9"/><stop offset="0.31" stop-color="#92d5b9"/><stop offset="0.38" stop-color="#7acbbc"/><stop offset="0.44" stop-color="#5bc0c0"/><stop offset="0.5" stop-color="#4ab9c3"/><stop offset="0.6" stop-color="#65c3bf"/><stop offset="0.8" stop-color="#8ed3ba"/><stop offset="1" stop-color="#9ed9b8"/></linearGradient><linearGradient id="h22" x1="0" x2="1" y1="0" y2="0"><stop offset="0" stop-color="#83cebb"/><stop offset="0.2" stop-color="#95d5b9"/><stop offset="0.31" stop-color="#90d4b9"/><stop offset="0.38" stop-color="#76cabc"/><stop offset="0.44" stop-color="#57bec1"/><stop offset="0.5" stop-color="#44b7c4"/><stop offset="0.6" stop-color="#61c2bf"/><stop offset="0.8" stop-color="#87d0ba"/><stop offset="1" stop-color="#95d5b9"/></linearGradient><linearGradient id="h23" x1="0" x2="1" y1="0" y2="0"><stop offset="0" stop-color="#80cebb"/><stop offset="0.2" stop-color="#90d4b9"/><stop offset="0.31" stop-color="#8cd2ba"/><stop offset="0.38" stop-color="#73c8bd"/><stop offset="0.44" stop-color="#52bcc2"/><stop offset="0.5" stop-color="#3fb4c4"/><stop offset="0.6" stop-color="#5bc0c0"/><stop offset="0.8" stop-color="#80cebb"/><stop offset="1" stop-color="#8cd2ba"/></linearGradient><linearGradient id="h24" x1="0" x2="1" y1="0" y2="0"><stop offset="0" stop-color="#7cccbb"/><stop offset="0.2" stop-color="#8ed3ba"/><stop offset="0.31" stop-color="#89d1ba"/><stop offset="0.38" stop-color="#6fc7bd"/><stop offset="0.44" stop-color="#4cbac2"/><stop offset="0.5" stop-color="#3cb1c3"/><stop offset="0.6" stop-color="#55bec1"/><stop offset="0.8" stop-color="#78cbbc"/><stop offset="1" stop-color="#83cebb"/></linearGradient><linearGradient id="h25" x1="0" x2="1" y1="0" y2="0"><stop offset="0" stop-color="#7acbbc"/><stop offset="0.2" stop-color="#89d1ba"/><stop offset="0.31" stop-color="#83cebb"/><stop offset="0.38" stop-color="#69c5be"/><stop offset="0.44" stop-color="#46b8c3"/><stop offset="0.5" stop-color="#39adc3"/><stop offset="0.6" stop-color="#50bbc2"/><stop offset="0.8" stop-color="#73c8bd"/><stop offset="1" stop-color="#7cccbb"/></linearGradient><linearGradient id="h26" x1="0" x2="1" y1="0" y2="0"><stop offset="0" stop-color="#76cabc"/><stop offset="0.2" stop-color="#85cfba"/><stop offset="0.31" stop-color="#7ecdbb"/><stop offset="0.38" stop-color="#65c3bf"/><stop offset="0.44" stop-color="#42b6c4"/><stop offset="0.5" stop-color="#36abc3"/><stop offset="0.6" stop-color="#4cbac2"/><stop offset="0.8" stop-color="#6bc6be"/><stop offset="1" stop-color="#75c9bd"/></linearGradient><linearGradient id="h27" x1="0" x2="1" y1="0" y2="0"><stop offset="0" stop-color="#75c9bd"/><stop offset="0.2" stop-color="#83cebb"/><stop offset="0.31" stop-color="#7acbbc"/><stop offset="0.38" stop-color="#5fc1c0"/><stop offset="0.44" stop-color="#3fb4c4"/><stop offset="0.5" stop-color="#33a7c2"/><stop offset="0.6" stop-color="#46b8c3"/><stop offset="0.8" stop-color="#65c3bf"/><stop offset="1" stop-color="#6fc7bd"/></linearGradient><linearGradient id="h28" x1="0" x2="1" y1="0" y2="0"><stop offset="0" stop-color="#71c8bd"/><stop offset="0.2" stop-color="#7ecdbb"/><stop offset="0.31" stop-color="#76cabc"/><stop offset="0.38" stop-color="#5bc0c0"/><stop offset="0.44" stop-color="#3cb1c3"/><stop offset="0.5" stop-color="#31a5c2"/><stop offset="0.6" stop-color="#40b5c4"/><stop offset="0.8" stop-color="#5dc0c0"/><stop offset="1" stop-color="#69c5be"/></linearGradient><linearGradient id="h29" x1="0" x2="1" y1="0" y2="0"><stop offset="0" stop-color="#6fc7bd"/><stop offset="0.2" stop-color="#7acbbc"/><stop offset="0.31" stop-color="#73c8bd"/><stop offset="0.38" stop-color="#55bec1"/><stop offset="0.44" stop-color="#3aaec3"/><stop offset="0.5" stop-color="#2da2c2"/><stop offset="0.6" stop-color="#3db2c4"/><stop offset="0.8" stop-color="#57bec1"/><stop offset="1" stop-color="#61c2bf"/></linearGradient><linearGradient id="h30" x1="0" x2="1" y1="0" y2="0"><stop offset="0" stop-color="#6bc6be"/><stop offset="0.2" stop-color="#76cabc"/><stop offset="0.31" stop-color="#6fc7bd"/><stop offset="0.38" stop-color="#52bcc2"/><stop offset="0.44" stop-color="#36abc3"/><stop offset="0.5" stop-color="#2b9fc2"/><stop offset="0.6" stop-color="#3aaec3"/><stop offset="0.8" stop-color="#52bcc2"/><stop offset="1" stop-color="#5bc0c0"/></linearGradient><linearGradient id="h31" x1="0" x2="1" y1="0" y2="0"><stop offset="0" stop-color="#69c5be"/><stop offset="0.2" stop-color="#73c8bd"/><stop offset="0.31" stop-color="#69c5be"/><stop offset="0.38" stop-color="#4ebbc2"/><stop offset="0.44" stop-color="#34a9c3"/><stop offset="0.5" stop-color="#289cc1"/><stop offset="0.6" stop-color="#37acc3"/><stop offset="0.8" stop-color="#4ab9c3"/><stop offset="1" stop-color="#53bdc1"/></linearGradient><linearGradient id="h32" x1="0" x2="1" y1="0" y2="0"><stop offset="0" stop-color="#65c3bf"/><stop offset="0.2" stop-color="#6fc7bd"/><stop offset="0.31" stop-color="#65c3bf"/><stop offset="0.38" stop-color="#48b9c3"/><stop offset="0.44" stop-color="#31a5c2"/><stop offset="0.5" stop-color="#259ac1"/><stop offset="0.6" stop-color="#34a9c3"/><stop offset="0.8" stop-color="#44b7c4"/><stop offset="1" stop-color="#4ebbc2"/></linearGradient><linearGradient id="h33" x1="0" x2="1" y1="0" y2="0"><stop offset="0" stop-color="#61c2bf"/><stop offset="0.2" stop-color="#6bc6be"/><stop offset="0.31" stop-color="#61c2bf"/><stop offset="0.38" stop-color="#44b7c4"/><stop offset="0.44" stop-color="#2ea3c2"/><stop offset="0.5" stop-color="#2397c1"/><stop offset="0.6" stop-color="#31a5c2"/><stop offset="0.8" stop-color="#3fb4c4"/><stop offset="1" stop-color="#48b9c3"/></linearGradient><linearGradient id="h34" x1="0" x2="1" y1="0" y2="0"><stop offset="0" stop-color="#5dc0c0"/><stop offset="0.2" stop-color="#67c4be"/><stop offset="0.31" stop-color="#5dc0c0"/><stop offset="0.38" stop-color="#40b5c4"/><stop offset="0.44" stop-color="#2ca1c2"/><stop offset="0.5" stop-color="#2195c0"/><stop offset="0.6" stop-color="#2ea3c2"/><stop offset="0.8" stop-color="#3cb1c3"/><stop offset="1" stop-color="#42b6c4"/></linearGradient><linearGradient id="h35" x1="0" x2="1" y1="0" y2="0"><stop offset="0" stop-color="#5bc0c0"/><stop offset="0.2" stop-color="#63c3bf"/><stop offset="0.31" stop-color="#59bfc0"/><stop offset="0.38" stop-color="#3db2c4"/><stop offset="0.44" stop-color="#299dc1"/><stop offset="0.5" stop-color="#1f93c0"/><stop offset="0.6" stop-color="#2b9fc2"/><stop offset="0.8" stop-color="#39adc3"/><stop offset="1" stop-color="#3eb3c4"/></linearGradient><linearGradient id="h36" x1="0" x2="1" y1="0" y2="0"><stop offset="0" stop-color="#57bec1"/><stop offset="0.2" stop-color="#5fc1c0"/><stop offset="0.31" stop-color="#55bec1"/><stop offset="0.38" stop-color="#3bb0c3"/><stop offset="0.44" stop-color="#269bc1"/><stop offset="0.5" stop-color="#1d90c0"/><stop offset="0.6" stop-color="#299dc1"/><stop offset="0.8" stop-color="#35aac3"/><stop offset="1" stop-color="#3aaec3"/></linearGradient><linearGradient id="h37" x1="0" x2="1" y1="0" y2="0"><stop offset="0" stop-color="#53bdc1"/><stop offset="0.2" stop-color="#5bc0c0"/><stop offset="0.31" stop-color="#50bbc2"/><stop offset="0.38" stop-color="#39adc3"/><stop offset="0.44" stop-color="#2498c1"/><stop offset="0.5" stop-color="#1d8dbe"/><stop offset="0.6" stop-color="#259ac1"/><stop offset="0.8" stop-color="#33a7c2"/><stop offset="1" stop-color="#36abc3"/></linearGradient><linearGradient id="h38" x1="0" x2="1" y1="0" y2="0"><stop offset="0" stop-color="#50bbc2"/><stop offset="0.2" stop-color="#55bec1"/><stop offset="0.31" stop-color="#4cbac2"/><stop offset="0.38" stop-color="#36abc3"/><stop offset="0.44" stop-color="#2296c1"/><stop offset="0.5" stop-color="#1e8abd"/><stop offset="0.6" stop-color="#2397c1"/><stop offset="0.8" stop-color="#2fa4c2"/><stop offset="1" stop-color="#33a7c2"/></linearGradient><linearGradient id="h39" x1="0" x2="1" y1="0" y2="0"><stop offset="0" stop-color="#4cbac2"/><stop offset="0.2" stop-color="#52bcc2"/><stop offset="0.31" stop-color="#48b9c3"/><stop offset="0.38" stop-color="#34a9c3"/><stop offset="0.44" stop-color="#2094c0"/><stop offset="0.5" stop-color="#1e88bc"/><stop offset="0.6" stop-color="#2094c0"/><stop offset="0.8" stop-color="#2ca1c2"/><stop offset="1" stop-color="#2fa4c2"/></linearGradient><linearGradient id="h40" x1="0" x2="1" y1="0" y2="0"><stop offset="0" stop-color="#48b9c3"/><stop offset="0.2" stop-color="#4ebbc2"/><stop offset="0.31" stop-color="#44b7c4"/><stop offset="0.38" stop-color="#32a6c2"/><stop offset="0.44" stop-color="#1d91c0"/><stop offset="0.5" stop-color="#1e85ba"/><stop offset="0.6" stop-color="#1d91c0"/><stop offset="0.8" stop-color="#299dc1"/><stop offset="1" stop-color="#2ca1c2"/></linearGradient><linearGradient id="h41" x1="0" x2="1" y1="0" y2="0"><stop offset="0" stop-color="#44b7c4"/><stop offset="0.2" stop-color="#4ab9c3"/><stop offset="0.31" stop-color="#40b5c4"/><stop offset="0.38" stop-color="#2ea3c2"/><stop offset="0.44" stop-color="#1d8dbe"/><stop offset="0.5" stop-color="#1f82b9"/><stop offset="0.6" stop-color="#1d8dbe"/><stop offset="0.8" stop-color="#259ac1"/><stop offset="1" stop-color="#299dc1"/></linearGradient><linearGradient id="h42" x1="0" x2="1" y1="0" y2="0"><stop offset="0" stop-color="#40b5c4"/><stop offset="0.2" stop-color="#46b8c3"/><stop offset="0.31" stop-color="#3db2c4"/><stop offset="0.38" stop-color="#2ca1c2"/><stop offset="0.44" stop-color="#1e8abd"/><stop offset="0.5" stop-color="#1f7eb7"/><stop offset="0.6" stop-color="#1e8abd"/><stop offset="0.8" stop-color="#2397c1"/><stop offset="1" stop-color="#259ac1"/></linearGradient><linearGradient id="h43" x1="0" x2="1" y1="0" y2="0"><stop offset="0" stop-color="#3eb3c4"/><stop offset="0.2" stop-color="#42b6c4"/><stop offset="0.31" stop-color="#3bb0c3"/><stop offset="0.38" stop-color="#299dc1"/><stop offset="0.44" stop-color="#1e86bb"/><stop offset="0.5" stop-color="#1f7bb6"/><stop offset="0.6" stop-color="#1e85ba"/><stop offset="0.8" stop-color="#2094c0"/><stop offset="1" stop-color="#2296c1"/></linearGradient><linearGradient id="h44" x1="0" x2="1" y1="0" y2="0"><stop offset="0" stop-color="#3cb1c3"/><stop offset="0.2" stop-color="#3eb3c4"/><stop offset="0.31" stop-color="#37acc3"/><stop offset="0.38" stop-color="#269bc1"/><stop offset="0.44" stop-color="#1e83ba"/><stop offset="0.5" stop-color="#1f78b4"/><stop offset="0.6" stop-color="#1f82b9"/><stop offset="0.8" stop-color="#1d90c0"/><stop offset="1" stop-color="#2094c0"/></linearGradient><linearGradient id="h45" x1="0" x2="1" y1="0" y2="0"><stop offset="0" stop-color="#3aaec3"/><stop offset="0.2" stop-color="#3cb1c3"/><stop offset="0.31" stop-color="#35aac3"/><stop offset="0.38" stop-color="#2397c1"/><stop offset="0.44" stop-color="#1f80b8"/><stop offset="0.5" stop-color="#2075b3"/><stop offset="0.6" stop-color="#1f7db6"/><stop offset="0.8" stop-color="#1e8bbd"/><stop offset="1" stop-color="#1d90c0"/></linearGradient><linearGradient id="h46" x1="0" x2="1" y1="0" y2="0"><stop offset="0" stop-color="#36abc3"/><stop offset="0.2" stop-color="#3aaec3"/><stop offset="0.31" stop-color="#32a6c2"/><stop offset="0.38" stop-color="#2195c0"/><stop offset="0.44" stop-color="#1f7db6"/><stop offset="0.5" stop-color="#2073b2"/><stop offset="0.6" stop-color="#1f7ab5"/><stop offset="0.8" stop-color="#1e88bc"/><stop offset="1" stop-color="#1e8bbd"/></linearGradient><linearGradient id="h47" x1="0" x2="1" y1="0" y2="0"><stop offset="0" stop-color="#34a9c3"/><stop offset="0.2" stop-color="#37acc3"/><stop offset="0.31" stop-color="#2fa4c2"/><stop offset="0.38" stop-color="#1d91c0"/><stop offset="0.44" stop-color="#1f78b4"/><stop offset="0.5" stop-color="#2070b0"/><stop offset="0.6" stop-color="#2075b3"/><stop offset="0.8" stop-color="#1e83ba"/><stop offset="1" stop-color="#1e86bb"/></linearGradient><linearGradient id="h48" x1="0" x2="1" y1="0" y2="0"><stop offset="0" stop-color="#32a6c2"/><stop offset="0.2" stop-color="#35aac3"/><stop offset="0.31" stop-color="#2ca1c2"/><stop offset="0.38" stop-color="#1d8ebf"/><stop offset="0.44" stop-color="#2075b3"/><stop offset="0.5" stop-color="#216daf"/><stop offset="0.6" stop-color="#2072b1"/><stop offset="0.8" stop-color="#1f7eb7"/><stop offset="1" stop-color="#1e83ba"/></linearGradient><linearGradient id="h49" x1="0" x2="1" y1="0" y2="0"><stop offset="0" stop-color="#2fa4c2"/><stop offset="0.2" stop-color="#32a6c2"/><stop offset="0.31" stop-color="#2a9ec1"/><stop offset="0.38" stop-color="#1e8abd"/><stop offset="0.44" stop-color="#2072b1"/><stop offset="0.5" stop-color="#216aad"/><stop offset="0.6" stop-color="#216daf"/><stop offset="0.8" stop-color="#1f7ab5"/><stop offset="1" stop-color="#1f7eb7"/></linearGradient><linearGradient id="h50" x1="0" x2="1" y1="0" y2="0"><stop offset="0" stop-color="#2b9fc2"/><stop offset="0.2" stop-color="#2ea3c2"/><stop offset="0.31" stop-color="#259ac1"/><stop offset="0.38" stop-color="#1e85ba"/><stop offset="0.44" stop-color="#216bae"/><stop offset="0.5" stop-color="#2163aa"/><stop offset="0.6" stop-color="#2166ac"/><stop offset="0.8" stop-color="#2073b2"/><stop offset="1" stop-color="#2076b3"/></linearGradient><linearGradient id="h51" x1="0" x2="1" y1="0" y2="0"><stop offset="0" stop-color="#289cc1"/><stop offset="0.2" stop-color="#2b9fc2"/><stop offset="0.31" stop-color="#2195c0"/><stop offset="0.38" stop-color="#1f7eb7"/><stop offset="0.44" stop-color="#2166ac"/><stop offset="0.5" stop-color="#225da8"/><stop offset="0.6" stop-color="#2260a9"/><stop offset="0.8" stop-color="#216bae"/><stop offset="1" stop-color="#2070b0"/></linearGradient><linearGradient id="h52" x1="0" x2="1" y1="0" y2="0"><stop offset="0" stop-color="#2498c1"/><stop offset="0.2" stop-color="#269bc1"/><stop offset="0.31" stop-color="#1d91c0"/><stop offset="0.38" stop-color="#1f78b4"/><stop offset="0.44" stop-color="#2260a9"/><stop offset="0.5" stop-color="#2258a5"/><stop offset="0.6" stop-color="#225aa6"/><stop offset="0.8" stop-color="#2165ab"/><stop offset="1" stop-color="#216aad"/></linearGradient><linearGradient id="h53" x1="0" x2="1" y1="0" y2="0"><stop offset="0" stop-color="#2094c0"/><stop offset="0.2" stop-color="#2397c1"/><stop offset="0.31" stop-color="#1e8bbd"/><stop offset="0.38" stop-color="#2072b1"/><stop offset="0.44" stop-color="#225aa6"/><stop offset="0.5" stop-color="#2352a3"/><stop offset="0.6" stop-color="#2355a4"/><stop offset="0.8" stop-color="#225ea8"/><stop offset="1" stop-color="#2262aa"/></linearGradient><linearGradient id="h54" x1="0" x2="1" y1="0" y2="0"><stop offset="0" stop-color="#1d90c0"/><stop offset="0.2" stop-color="#1f93c0"/><stop offset="0.31" stop-color="#1e85ba"/><stop offset="0.38" stop-color="#216daf"/><stop offset="0.44" stop-color="#2355a4"/><stop offset="0.5" stop-color="#234da0"/><stop offset="0.6" stop-color="#2350a1"/><stop offset="0.8" stop-color="#2258a5"/><stop offset="1" stop-color="#225ca7"/></linearGradient><linearGradient id="h55" x1="0" x2="1" y1="0" y2="0"><stop offset="0" stop-color="#1e8abd"/><stop offset="0.2" stop-color="#1d8ebf"/><stop offset="0.31" stop-color="#1f7eb7"/><stop offset="0.38" stop-color="#2166ac"/><stop offset="0.44" stop-color="#2351a2"/><stop offset="0.5" stop-color="#24489d"/><stop offset="0.6" stop-color="#234b9f"/><stop offset="0.8" stop-color="#2352a3"/><stop offset="1" stop-color="#2356a4"/></linearGradient><linearGradient id="h56" x1="0" x2="1" y1="0" y2="0"><stop offset="0" stop-color="#1e85ba"/><stop offset="0.2" stop-color="#1e8abd"/><stop offset="0.31" stop-color="#1f7ab5"/><stop offset="0.38" stop-color="#2260a9"/><stop offset="0.44" stop-color="#234c9f"/><stop offset="0.5" stop-color="#24439b"/><stop offset="0.6" stop-color="#24459c"/><stop offset="0.8" stop-color="#234da0"/><stop offset="1" stop-color="#2350a1"/></linearGradient><linearGradient id="h57" x1="0" x2="1" y1="0" y2="0"><stop offset="0" stop-color="#1f80b8"/><stop offset="0.2" stop-color="#1e83ba"/><stop offset="0.31" stop-color="#2073b2"/><stop offset="0.38" stop-color="#225ca7"/><stop offset="0.44" stop-color="#24479d"/><stop offset="0.5" stop-color="#243d98"/><stop offset="0.6" stop-color="#24409a"/><stop offset="0.8" stop-color="#24479d"/><stop offset="1" stop-color="#234b9f"/></linearGradient><linearGradient id="h58" x1="0" x2="1" y1="0" y2="0"><stop offset="0" stop-color="#1f78b4"/><stop offset="0.2" stop-color="#1f7bb6"/><stop offset="0.31" stop-color="#216daf"/><stop offset="0.38" stop-color="#2356a4"/><stop offset="0.44" stop-color="#24449c"/><stop offset="0.5" stop-color="#253b97"/><stop offset="0.6" stop-color="#243d98"/><stop offset="0.8" stop-color="#24449c"/><stop offset="1" stop-color="#24479d"/></linearGradient><linearGradient id="h59" x1="0" x2="1" y1="0" y2="0"><stop offset="0" stop-color="#2070b0"/><stop offset="0.2" stop-color="#2073b2"/><stop offset="0.31" stop-color="#2165ab"/><stop offset="0.38" stop-color="#2352a3"/><stop offset="0.44" stop-color="#24419a"/><stop offset="0.5" stop-color="#253997"/><stop offset="0.6" stop-color="#243c98"/><stop offset="0.8" stop-color="#24419a"/><stop offset="1" stop-color="#24449c"/></linearGradient><linearGradient id="h60" x1="0" x2="1" y1="0" y2="0"><stop offset="0" stop-color="#2168ad"/><stop offset="0.2" stop-color="#216daf"/><stop offset="0.31" stop-color="#225ea8"/><stop offset="0.38" stop-color="#234fa1"/><stop offset="0.44" stop-color="#243f99"/><stop offset="0.5" stop-color="#243793"/><stop offset="0.6" stop-color="#253997"/><stop offset="0.8" stop-color="#243f99"/><stop offset="1" stop-color="#24419a"/></linearGradient><linearGradient id="h61" x1="0" x2="1" y1="0" y2="0"><stop offset="0" stop-color="#2260a9"/><stop offset="0.2" stop-color="#2165ab"/><stop offset="0.31" stop-color="#2259a6"/><stop offset="0.38" stop-color="#234b9f"/><stop offset="0.44" stop-color="#243c98"/><stop offset="0.5" stop-color="#243690"/><stop offset="0.6" stop-color="#253794"/><stop offset="0.8" stop-color="#243c98"/><stop offset="1" stop-color="#243f99"/></linearGradient><linearGradient id="h62" x1="0" x2="1" y1="0" y2="0"><stop offset="0" stop-color="#2259a6"/><stop offset="0.2" stop-color="#225da8"/><stop offset="0.31" stop-color="#2352a3"/><stop offset="0.38" stop-color="#24479d"/><stop offset="0.44" stop-color="#253b97"/><stop offset="0.5" stop-color="#24358d"/><stop offset="0.6" stop-color="#243690"/><stop offset="0.8" stop-color="#253b97"/><stop offset="1" stop-color="#243c98"/></linearGradient><linearGradient id="h63" x1="0" x2="1" y1="0" y2="0"><stop offset="0" stop-color="#2352a3"/><stop offset="0.2" stop-color="#2356a4"/><stop offset="0.31" stop-color="#234da0"/><stop offset="0.38" stop-color="#24439b"/><stop offset="0.44" stop-color="#253894"/><stop offset="0.5" stop-color="#243489"/><stop offset="0.6" stop-color="#24348b"/><stop offset="0.8" stop-color="#253894"/><stop offset="1" stop-color="#253997"/></linearGradient><linearGradient id="h64" x1="0" x2="1" y1="0" y2="0"><stop offset="0" stop-color="#234c9f"/><stop offset="0.2" stop-color="#2350a1"/><stop offset="0.31" stop-color="#24489d"/><stop offset="0.38" stop-color="#243f99"/><stop offset="0.44" stop-color="#24368f"/><stop offset="0.5" stop-color="#233286"/><stop offset="0.6" stop-color="#233387"/><stop offset="0.8" stop-color="#24368f"/><stop offset="1" stop-color="#243690"/></linearGradient><linearGradient id="h65" x1="0" x2="1" y1="0" y2="0"><stop offset="0" stop-color="#24459c"/><stop offset="0.2" stop-color="#23499e"/><stop offset="0.31" stop-color="#24419a"/><stop offset="0.38" stop-color="#253b97"/><stop offset="0.44" stop-color="#24348a"/><stop offset="0.5" stop-color="#233182"/><stop offset="0.6" stop-color="#233183"/><stop offset="0.8" stop-color="#24348a"/><stop offset="1" stop-color="#24348b"/></linearGradient><linearGradient id="h66" x1="0" x2="1" y1="0" y2="0"><stop offset="0" stop-color="#24419a"/><stop offset="0.2" stop-color="#24449c"/><stop offset="0.31" stop-color="#243d98"/><stop offset="0.38" stop-color="#243794"/><stop offset="0.44" stop-color="#233387"/><stop offset="0.5" stop-color="#233080"/><stop offset="0.6" stop-color="#233080"/><stop offset="0.8" stop-color="#233387"/><stop offset="1" stop-color="#233387"/></linearGradient><linearGradient id="h67" x1="0" x2="1" y1="0" y2="0"><stop offset="0" stop-color="#243d98"/><stop offset="0.2" stop-color="#24409a"/><stop offset="0.31" stop-color="#253b97"/><stop offset="0.38" stop-color="#24368f"/><stop offset="0.44" stop-color="#233284"/><stop offset="0.5" stop-color="#23307e"/><stop offset="0.6" stop-color="#23307e"/><stop offset="0.8" stop-color="#233284"/><stop offset="1" stop-color="#233284"/></linearGradient><linearGradient id="h68" x1="0" x2="1" y1="0" y2="0"><stop offset="0" stop-color="#253b97"/><stop offset="0.2" stop-color="#243d98"/><stop offset="0.31" stop-color="#253896"/><stop offset="0.38" stop-color="#24348b"/><stop offset="0.44" stop-color="#233181"/><stop offset="0.5" stop-color="#222f7d"/><stop offset="0.6" stop-color="#222f7d"/><stop offset="0.8" stop-color="#233181"/><stop offset="1" stop-color="#233181"/></linearGradient><linearGradient id="h69" x1="0" x2="1" y1="0" y2="0"><stop offset="0" stop-color="#253894"/><stop offset="0.2" stop-color="#253997"/><stop offset="0.31" stop-color="#243690"/><stop offset="0.38" stop-color="#233387"/><stop offset="0.44" stop-color="#23307f"/><stop offset="0.5" stop-color="#222e7b"/><stop offset="0.6" stop-color="#222e7b"/><stop offset="0.8" stop-color="#23307f"/><stop offset="1" stop-color="#23307f"/></linearGradient><linearGradient id="h70" x1="0" x2="1" y1="0" y2="0"><stop offset="0" stop-color="#24358e"/><stop offset="0.2" stop-color="#243691"/><stop offset="0.31" stop-color="#24348b"/><stop offset="0.38" stop-color="#233183"/><stop offset="0.44" stop-color="#222f7c"/><stop offset="0.5" stop-color="#222e79"/><stop offset="0.6" stop-color="#222e79"/><stop offset="0.8" stop-color="#222f7c"/><stop offset="1" stop-color="#222f7c"/></linearGradient><linearGradient id="h71" x1="0" x2="1" y1="0" y2="0"><stop offset="0" stop-color="#233388"/><stop offset="0.2" stop-color="#24348a"/><stop offset="0.31" stop-color="#233285"/><stop offset="0.38" stop-color="#23307e"/><stop offset="0.44" stop-color="#222e7a"/><stop offset="0.5" stop-color="#222d78"/><stop offset="0.6" stop-color="#222d78"/><stop offset="0.8" stop-color="#222e7a"/><stop offset="1" stop-color="#222e7a"/></linearGradient><linearGradient id="h72" x1="0" x2="1" y1="0" y2="0"><stop offset="0" stop-color="#233181"/><stop offset="0.2" stop-color="#233183"/><stop offset="0.31" stop-color="#233080"/><stop offset="0.38" stop-color="#222e7a"/><stop offset="0.44" stop-color="#222d77"/><stop offset="0.5" stop-color="#222d76"/><stop offset="0.6" stop-color="#222d76"/><stop offset="0.8" stop-color="#222d77"/><stop offset="1" stop-color="#222d77"/></linearGradient><linearGradient id="h73" x1="0" x2="1" y1="0" y2="0"><stop offset="0" stop-color="#222e7b"/><stop offset="0.2" stop-color="#222f7b"/><stop offset="0.31" stop-color="#222e7a"/><stop offset="0.38" stop-color="#222d76"/><stop offset="0.44" stop-color="#222c75"/><stop offset="0.5" stop-color="#222c74"/><stop offset="0.6" stop-color="#222c74"/><stop offset="0.8" stop-color="#222c75"/><stop offset="1" stop-color="#222c75"/></linearGradient><linearGradient id="h74" x1="0" x2="1" y1="0" y2="0"><stop offset="0" stop-color="#222d76"/><stop offset="0.2" stop-color="#222d76"/><stop offset="0.31" stop-color="#222d76"/><stop offset="0.38" stop-color="#222b73"/><stop offset="0.44" stop-color="#222b73"/><stop offset="0.5" stop-color="#222b73"/><stop offset="0.6" stop-color="#222b73"/><stop offset="0.8" stop-color="#222b73"/><stop offset="1" stop-color="#222b73"/></linearGradient><linearGradient id="h75" x1="0" x2="1" y1="0" y2="0"><stop offset="0" stop-color="#222c74"/><stop offset="0.2" stop-color="#222c74"/><stop offset="0.31" stop-color="#222c74"/><stop offset="0.38" stop-color="#212b72"/><stop offset="0.44" stop-color="#212b72"/><stop offset="0.5" stop-color="#212b72"/><stop offset="0.6" stop-color="#212b72"/><stop offset="0.8" stop-color="#212b72"/><stop offset="1" stop-color="#212b72"/></linearGradient><linearGradient id="h76" x1="0" x2="1" y1="0" y2="0"><stop offset="0" stop-color="#222b73"/><stop offset="0.2" stop-color="#222b73"/><stop offset="0.31" stop-color="#222b73"/><stop offset="0.38" stop-color="#212b71"/><stop offset="0.44" stop-color="#212b71"/><stop offset="0.5" stop-color="#212b71"/><stop offset="0.6" stop-color="#212b71"/><stop offset="0.8" stop-color="#212b71"/><stop offset="1" stop-color="#212b71"/></linearGradient><linearGradient id="h77" x1="0" x2="1" y1="0" y2="0"><stop offset="0" stop-color="#212b71"/><stop offset="0.2" stop-color="#212b71"/><stop offset="0.31" stop-color="#212b71"/><stop offset="0.38" stop-color="#212a6f"/><stop offset="0.44" stop-color="#212a6f"/><stop offset="0.5" stop-color="#212a6f"/><stop offset="0.6" stop-color="#212a6f"/><stop offset="0.8" stop-color="#212a6f"/><stop offset="1" stop-color="#212a6f"/></linearGradient><linearGradient id="h78" x1="0" x2="1" y1="0" y2="0"><stop offset="0" stop-color="#212a70"/><stop offset="0.2" stop-color="#212a70"/><stop offset="0.31" stop-color="#212a70"/><stop offset="0.38" stop-color="#212a6e"/><stop offset="0.44" stop-color="#212a6e"/><stop offset="0.5" stop-color="#212a6e"/><stop offset="0.6" stop-color="#212a6e"/><stop offset="0.8" stop-color="#212a6e"/><stop offset="1" stop-color="#212a6e"/></linearGradient><linearGradient id="h79" x1="0" x2="1" y1="0" y2="0"><stop offset="0" stop-color="#212a6e"/><stop offset="0.2" stop-color="#212a6e"/><stop offset="0.31" stop-color="#212a6e"/><stop offset="0.38" stop-color="#21296d"/><stop offset="0.44" stop-color="#21296d"/><stop offset="0.5" stop-color="#21296d"/><stop offset="0.6" stop-color="#21296d"/><stop offset="0.8" stop-color="#21296d"/><stop offset="1" stop-color="#21296d"/></linearGradient><linearGradient id="h80" x1="0" x2="1" y1="0" y2="0"><stop offset="0" stop-color="#21296c"/><stop offset="0.2" stop-color="#21296c"/><stop offset="0.31" stop-color="#21296c"/><stop offset="0.38" stop-color="#21296c"/><stop offset="0.44" stop-color="#21296c"/><stop offset="0.5" stop-color="#21296c"/><stop offset="0.6" stop-color="#21296c"/><stop offset="0.8" stop-color="#21296c"/><stop offset="1" stop-color="#21296c"/></linearGradient></defs><rect x="662.5" y="245.7" width="160.7" height="2.59" fill="url(#h0)" shape-rendering="crispEdges"/><rect x="662.5" y="247.69" width="160.7" height="2.59" fill="url(#h1)" shape-rendering="crispEdges"/><rect x="662.5" y="249.68" width="160.7" height="2.59" fill="url(#h2)" shape-rendering="crispEdges"/><rect x="662.5" y="251.67" width="160.7" height="2.59" fill="url(#h3)" shape-rendering="crispEdges"/><rect x="662.5" y="253.67" width="160.7" height="2.59" fill="url(#h4)" shape-rendering="crispEdges"/><rect x="662.5" y="255.66" width="160.7" height="2.59" fill="url(#h5)" shape-rendering="crispEdges"/><rect x="662.5" y="257.65" width="160.7" height="2.59" fill="url(#h6)" shape-rendering="crispEdges"/><rect x="662.5" y="259.64" width="160.7" height="2.59" fill="url(#h7)" shape-rendering="crispEdges"/><rect x="662.5" y="261.63" width="160.7" height="2.59" fill="url(#h8)" shape-rendering="crispEdges"/><rect x="662.5" y="263.62" width="160.7" height="2.59" fill="url(#h9)" shape-rendering="crispEdges"/><rect x="662.5" y="265.61" width="160.7" height="2.59" fill="url(#h10)" shape-rendering="crispEdges"/><rect x="662.5" y="267.6" width="160.7" height="2.59" fill="url(#h11)" shape-rendering="crispEdges"/><rect x="662.5" y="269.6" width="160.7" height="2.59" fill="url(#h12)" shape-rendering="crispEdges"/><rect x="662.5" y="271.59" width="160.7" height="2.59" fill="url(#h13)" shape-rendering="crispEdges"/><rect x="662.5" y="273.58" width="160.7" height="2.59" fill="url(#h14)" shape-rendering="crispEdges"/><rect x="662.5" y="275.57" width="160.7" height="2.59" fill="url(#h15)" shape-rendering="crispEdges"/><rect x="662.5" y="277.56" width="160.7" height="2.59" fill="url(#h16)" shape-rendering="crispEdges"/><rect x="662.5" y="279.55" width="160.7" height="2.59" fill="url(#h17)" shape-rendering="crispEdges"/><rect x="662.5" y="281.54" width="160.7" height="2.59" fill="url(#h18)" shape-rendering="crispEdges"/><rect x="662.5" y="283.54" width="160.7" height="2.59" fill="url(#h19)" shape-rendering="crispEdges"/><rect x="662.5" y="285.53" width="160.7" height="2.59" fill="url(#h20)" shape-rendering="crispEdges"/><rect x="662.5" y="287.52" width="160.7" height="2.59" fill="url(#h21)" shape-rendering="crispEdges"/><rect x="662.5" y="289.51" width="160.7" height="2.59" fill="url(#h22)" shape-rendering="crispEdges"/><rect x="662.5" y="291.5" width="160.7" height="2.59" fill="url(#h23)" shape-rendering="crispEdges"/><rect x="662.5" y="293.49" width="160.7" height="2.59" fill="url(#h24)" shape-rendering="crispEdges"/><rect x="662.5" y="295.48" width="160.7" height="2.59" fill="url(#h25)" shape-rendering="crispEdges"/><rect x="662.5" y="297.48" width="160.7" height="2.59" fill="url(#h26)" shape-rendering="crispEdges"/><rect x="662.5" y="299.47" width="160.7" height="2.59" fill="url(#h27)" shape-rendering="crispEdges"/><rect x="662.5" y="301.46" width="160.7" height="2.59" fill="url(#h28)" shape-rendering="crispEdges"/><rect x="662.5" y="303.45" width="160.7" height="2.59" fill="url(#h29)" shape-rendering="crispEdges"/><rect x="662.5" y="305.44" width="160.7" height="2.59" fill="url(#h30)" shape-rendering="crispEdges"/><rect x="662.5" y="307.43" width="160.7" height="2.59" fill="url(#h31)" shape-rendering="crispEdges"/><rect x="662.5" y="309.42" width="160.7" height="2.59" fill="url(#h32)" shape-rendering="crispEdges"/><rect x="662.5" y="311.41" width="160.7" height="2.59" fill="url(#h33)" shape-rendering="crispEdges"/><rect x="662.5" y="313.41" width="160.7" height="2.59" fill="url(#h34)" shape-rendering="crispEdges"/><rect x="662.5" y="315.4" width="160.7" height="2.59" fill="url(#h35)" shape-rendering="crispEdges"/><rect x="662.5" y="317.39" width="160.7" height="2.59" fill="url(#h36)" shape-rendering="crispEdges"/><rect x="662.5" y="319.38" width="160.7" height="2.59" fill="url(#h37)" shape-rendering="crispEdges"/><rect x="662.5" y="321.37" width="160.7" height="2.59" fill="url(#h38)" shape-rendering="crispEdges"/><rect x="662.5" y="323.36" width="160.7" height="2.59" fill="url(#h39)" shape-rendering="crispEdges"/><rect x="662.5" y="325.35" width="160.7" height="2.59" fill="url(#h40)" shape-rendering="crispEdges"/><rect x="662.5" y="327.35" width="160.7" height="2.59" fill="url(#h41)" shape-rendering="crispEdges"/><rect x="662.5" y="329.34" width="160.7" height="2.59" fill="url(#h42)" shape-rendering="crispEdges"/><rect x="662.5" y="331.33" width="160.7" height="2.59" fill="url(#h43)" shape-rendering="crispEdges"/><rect x="662.5" y="333.32" width="160.7" height="2.59" fill="url(#h44)" shape-rendering="crispEdges"/><rect x="662.5" y="335.31" width="160.7" height="2.59" fill="url(#h45)" shape-rendering="crispEdges"/><rect x="662.5" y="337.3" width="160.7" height="2.59" fill="url(#h46)" shape-rendering="crispEdges"/><rect x="662.5" y="339.29" width="160.7" height="2.59" fill="url(#h47)" shape-rendering="crispEdges"/><rect x="662.5" y="341.29" width="160.7" height="2.59" fill="url(#h48)" shape-rendering="crispEdges"/><rect x="662.5" y="343.28" width="160.7" height="2.59" fill="url(#h49)" shape-rendering="crispEdges"/><rect x="662.5" y="345.27" width="160.7" height="2.59" fill="url(#h50)" shape-rendering="crispEdges"/><rect x="662.5" y="347.26" width="160.7" height="2.59" fill="url(#h51)" shape-rendering="crispEdges"/><rect x="662.5" y="349.25" width="160.7" height="2.59" fill="url(#h52)" shape-rendering="crispEdges"/><rect x="662.5" y="351.24" width="160.7" height="2.59" fill="url(#h53)" shape-rendering="crispEdges"/><rect x="662.5" y="353.23" width="160.7" height="2.59" fill="url(#h54)" shape-rendering="crispEdges"/><rect x="662.5" y="355.22" width="160.7" height="2.59" fill="url(#h55)" shape-rendering="crispEdges"/><rect x="662.5" y="357.22" width="160.7" height="2.59" fill="url(#h56)" shape-rendering="crispEdges"/><rect x="662.5" y="359.21" width="160.7" height="2.59" fill="url(#h57)" shape-rendering="crispEdges"/><rect x="662.5" y="361.2" width="160.7" height="2.59" fill="url(#h58)" shape-rendering="crispEdges"/><rect x="662.5" y="363.19" width="160.7" height="2.59" fill="url(#h59)" shape-rendering="crispEdges"/><rect x="662.5" y="365.18" width="160.7" height="2.59" fill="url(#h60)" shape-rendering="crispEdges"/><rect x="662.5" y="367.17" width="160.7" height="2.59" fill="url(#h61)" shape-rendering="crispEdges"/><rect x="662.5" y="369.16" width="160.7" height="2.59" fill="url(#h62)" shape-rendering="crispEdges"/><rect x="662.5" y="371.16" width="160.7" height="2.59" fill="url(#h63)" shape-rendering="crispEdges"/><rect x="662.5" y="373.15" width="160.7" height="2.59" fill="url(#h64)" shape-rendering="crispEdges"/><rect x="662.5" y="375.14" width="160.7" height="2.59" fill="url(#h65)" shape-rendering="crispEdges"/><rect x="662.5" y="377.13" width="160.7" height="2.59" fill="url(#h66)" shape-rendering="crispEdges"/><rect x="662.5" y="379.12" width="160.7" height="2.59" fill="url(#h67)" shape-rendering="crispEdges"/><rect x="662.5" y="381.11" width="160.7" height="2.59" fill="url(#h68)" shape-rendering="crispEdges"/><rect x="662.5" y="383.1" width="160.7" height="2.59" fill="url(#h69)" shape-rendering="crispEdges"/><rect x="662.5" y="385.1" width="160.7" height="2.59" fill="url(#h70)" shape-rendering="crispEdges"/><rect x="662.5" y="387.09" width="160.7" height="2.59" fill="url(#h71)" shape-rendering="crispEdges"/><rect x="662.5" y="389.08" width="160.7" height="2.59" fill="url(#h72)" shape-rendering="crispEdges"/><rect x="662.5" y="391.07" width="160.7" height="2.59" fill="url(#h73)" shape-rendering="crispEdges"/><rect x="662.5" y="393.06" width="160.7" height="2.59" fill="url(#h74)" shape-rendering="crispEdges"/><rect x="662.5" y="395.05" width="160.7" height="2.59" fill="url(#h75)" shape-rendering="crispEdges"/><rect x="662.5" y="397.04" width="160.7" height="2.59" fill="url(#h76)" shape-rendering="crispEdges"/><rect x="662.5" y="399.03" width="160.7" height="2.59" fill="url(#h77)" shape-rendering="crispEdges"/><rect x="662.5" y="401.03" width="160.7" height="2.59" fill="url(#h78)" shape-rendering="crispEdges"/><rect x="662.5" y="403.02" width="160.7" height="2.59" fill="url(#h79)" shape-rendering="crispEdges"/><rect x="662.5" y="405.01" width="160.7" height="2.59" fill="url(#h80)" shape-rendering="crispEdges"/><rect x="662.5" y="245.7" width="160.7" height="161.3" fill="none" stroke="#e4a6cc" stroke-width="1.1"/><path d="M662.5,377h4M662.5,344.1h4M662.5,311.2h4M662.5,278.3h4M662.5,245.4h4" stroke="#e090c0" stroke-width="1"/><path d="M662.5,407v-4M672.18,407v-2.2M677.83,407v-2.2M681.85,407v-2.2M684.96,407v-2.2M687.51,407v-2.2M689.66,407v-2.2M691.53,407v-2.2M693.17,407v-2.2M694.64,407v-4M704.32,407v-2.2M709.97,407v-2.2M713.99,407v-2.2M717.1,407v-2.2M719.65,407v-2.2M721.8,407v-2.2M723.67,407v-2.2M725.31,407v-2.2M726.78,407v-4M736.46,407v-2.2M742.11,407v-2.2M746.13,407v-2.2M749.24,407v-2.2M751.79,407v-2.2M753.94,407v-2.2M755.81,407v-2.2M757.45,407v-2.2M758.92,407v-4M768.6,407v-2.2M774.25,407v-2.2M778.27,407v-2.2M781.38,407v-2.2M783.93,407v-2.2M786.08,407v-2.2M787.95,407v-2.2M789.59,407v-2.2M791.06,407v-4M800.74,407v-2.2M806.39,407v-2.2M810.41,407v-2.2M813.52,407v-2.2M816.07,407v-2.2M818.22,407v-2.2M820.09,407v-2.2M821.73,407v-2.2M823.2,407v-4" stroke="#e090c0" stroke-width="0.9" fill="none"/><text x="659" y="381.3" class="sf" font-size="12" fill="#333" text-anchor="end">20</text><text x="659" y="348.4" class="sf" font-size="12" fill="#333" text-anchor="end">40</text><text x="659" y="315.5" class="sf" font-size="12" fill="#333" text-anchor="end">60</text><text x="659" y="282.6" class="sf" font-size="12" fill="#333" text-anchor="end">80</text><text x="659" y="249.7" class="sf" font-size="12" fill="#333" text-anchor="end">100</text><text x="662.5" y="421.5" class="sf" font-size="12" fill="#333" text-anchor="middle">10<tspan font-size="8" dy="-5">-2</tspan></text><text x="694.64" y="421.5" class="sf" font-size="12" fill="#333" text-anchor="middle">10<tspan font-size="8" dy="-5">-1</tspan></text><text x="726.78" y="421.5" class="sf" font-size="12" fill="#333" text-anchor="middle">10<tspan font-size="8" dy="-5">0</tspan></text><text x="758.92" y="421.5" class="sf" font-size="12" fill="#333" text-anchor="middle">10<tspan font-size="8" dy="-5">1</tspan></text><text x="791.06" y="421.5" class="sf" font-size="12" fill="#333" text-anchor="middle">10<tspan font-size="8" dy="-5">2</tspan></text><text x="823.2" y="421.5" class="sf" font-size="12" fill="#333" text-anchor="middle">10<tspan font-size="8" dy="-5">3</tspan></text><text x="732" y="435.5" class="sf" font-size="12.5" font-style="italic" fill="#333">κ<tspan font-size="8" dy="3" font-style="normal">0</tspan><tspan dy="-3">H</tspan></text><text transform="translate(640,343) rotate(-90)" class="sf" font-size="11.5" fill="#333"><tspan font-style="italic">ψ</tspan><tspan font-size="7.5" dy="3">w</tspan><tspan dy="-3">/mV</tspan></text><defs><linearGradient id="cbar" x1="0" x2="1" y1="0" y2="0"><stop offset="0" stop-color="#ffffd9"/><stop offset="0.1" stop-color="#f1faba"/><stop offset="0.2" stop-color="#d6efb3"/><stop offset="0.3" stop-color="#abdeb7"/><stop offset="0.4" stop-color="#73c8bd"/><stop offset="0.5" stop-color="#40b5c4"/><stop offset="0.6" stop-color="#2498c1"/><stop offset="0.7" stop-color="#2072b1"/><stop offset="0.8" stop-color="#234da0"/><stop offset="0.9" stop-color="#1f2f87"/><stop offset="1" stop-color="#feffd8"/></linearGradient></defs><rect x="777.5" y="231.9" width="45.2" height="8.1" fill="url(#cbar)" stroke="#444" stroke-width="0.6"/><path d="M779.4,231.9v-2M803.6,231.9v-2M819.8,231.9v-2" stroke="#555" stroke-width="0.7"/><text x="779.4" y="228" class="sf" font-size="10" fill="#333" text-anchor="middle">1</text><text x="805.4" y="228" class="sf" font-size="10" fill="#333" text-anchor="middle">1.6</text><text x="819.8" y="228" class="sf" font-size="10" fill="#333" text-anchor="middle">2</text><text x="720.8" y="238.5" class="sf" font-size="11" fill="#555">强化因子<tspan font-style="italic">f</tspan></text><path d="M780,247C792,250 805,251 822.5,251" fill="none" stroke="#c0508a" stroke-width="0.9"/><path d="M785.5,262H797.5L802.5,254" fill="none" stroke="#c0508a" stroke-width="0.9"/><path d="M804.5,250.5L800,254.5L803.8,256.5Z" fill="#c0508a"/><text x="721" y="266.5" class="sf" font-size="13" font-style="italic" fill="#333">f</text><text x="726.5" y="266.5" class="sf" font-size="13" fill="#333">=</text><path d="M738,262.5H764" stroke="#444" stroke-width="0.9"/><text x="739" y="258.5" class="sf" font-size="12.5" font-style="italic" fill="#333">S</text><text x="746" y="261.5" class="sf" font-size="6.5" font-style="italic" fill="#444">e,ν≠0</text><text x="739" y="276.5" class="sf" font-size="12.5" font-style="italic" fill="#333">S</text><text x="746" y="279.5" class="sf" font-size="6.5" font-style="italic" fill="#444">e,ν=0</text><text x="768.5" y="266.5" class="sf" font-size="13" fill="#333">= 1</text>
</svg></body></html>
